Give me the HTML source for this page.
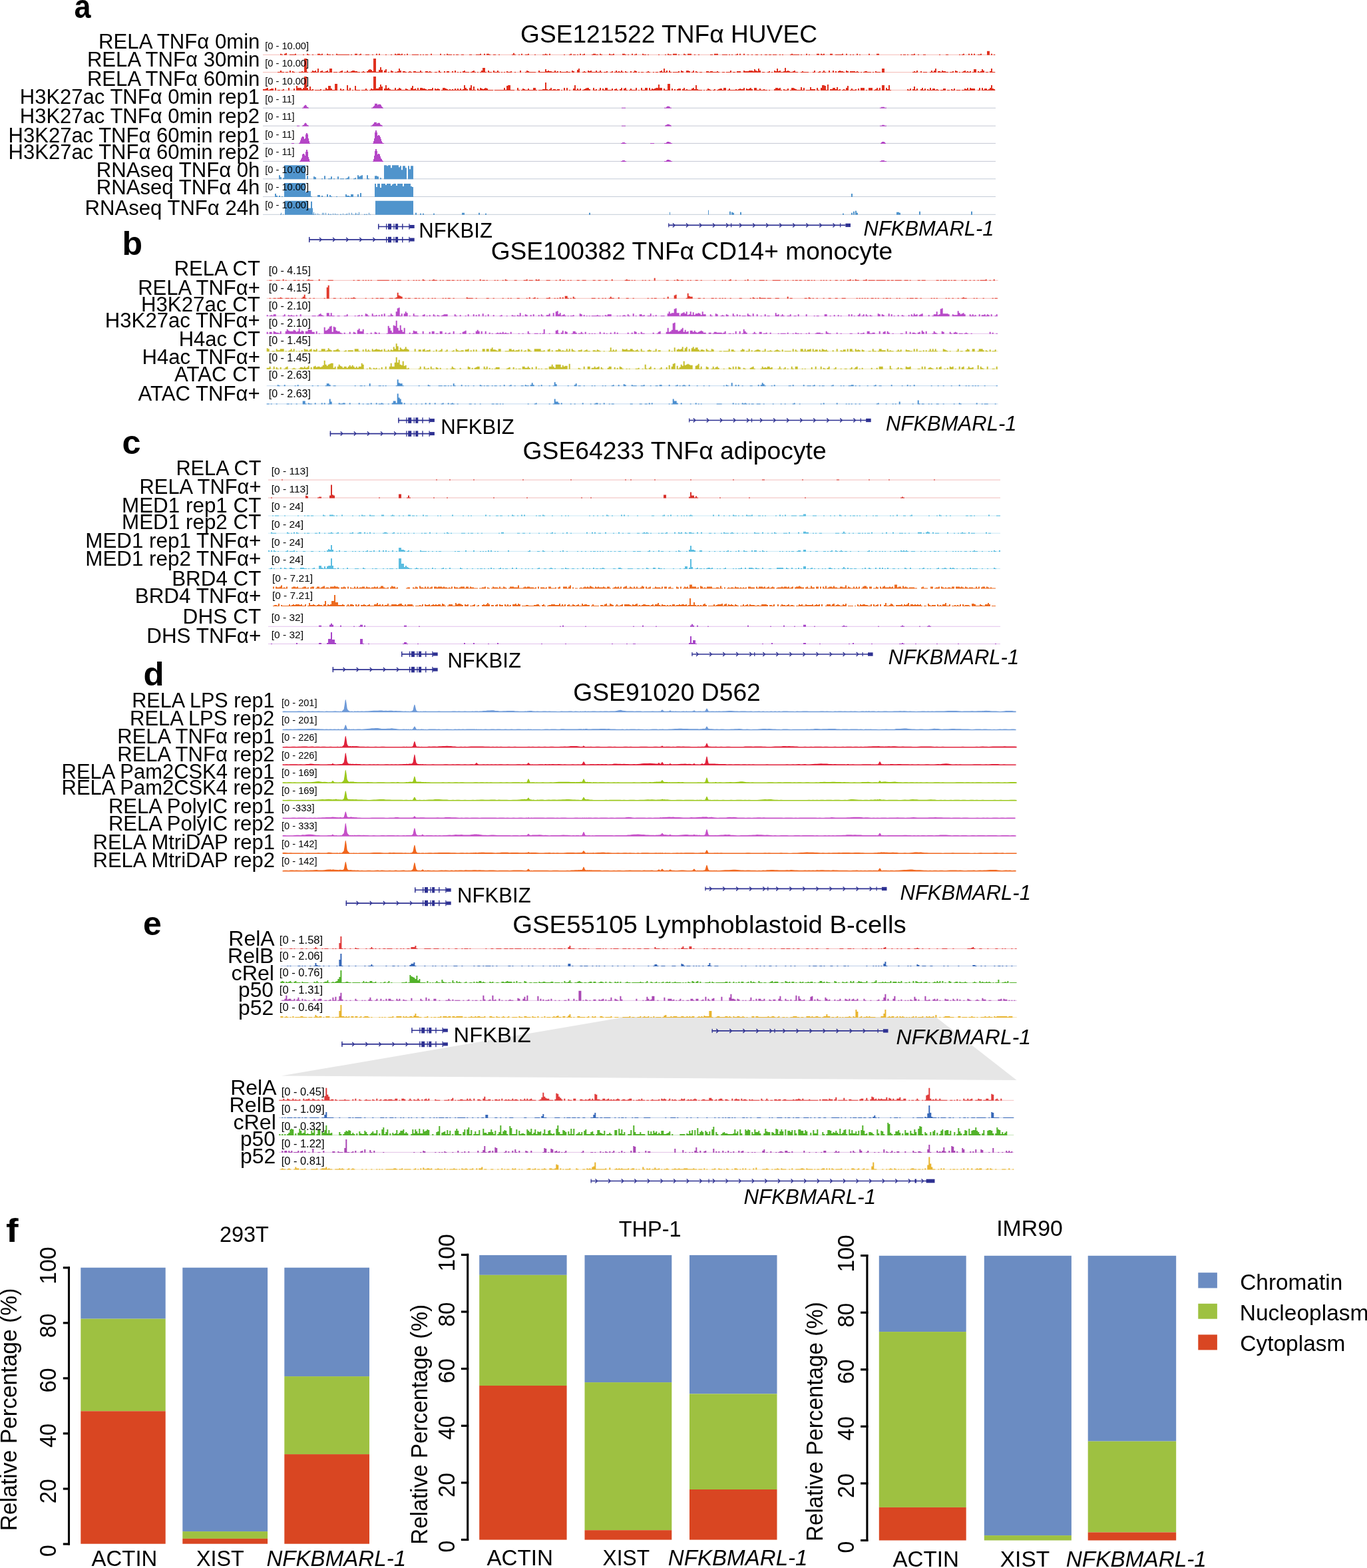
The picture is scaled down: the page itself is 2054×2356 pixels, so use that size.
<!DOCTYPE html>
<html><head><meta charset="utf-8"><style>
html,body{margin:0;padding:0;background:#fff;}
svg{display:block;font-family:"Liberation Sans",Arial,sans-serif;fill:#000;}
text{fill:#000;}
</style></head><body>
<svg width="2054" height="2356" viewBox="0 0 2054 2356">
<rect width="2054" height="2356" fill="#fff"/>
<path d="M395 82.3H1496" stroke="#e0311f" stroke-opacity="0.33"/>
<path d="M395 82.8h26V80.8h2V81.8h2V82.8h2V80.8h2V79.8h2V82.8h4V81.8h8V80.8h2V82.8h10V81.8h2V82.8h4V80.8h2V81.8h2V82.8h4V81.8h2V82.8h6V80.8h4V81.8h2V80.8h2V82.8h6V80.8h2V81.8h4V82.8h2V81.8h2V82.8h4V80.8h2V81.8h18V82.8h2V81.8h2V82.8h4V80.8h4V82.8h2V81.8h2V80.8h2V82.8h6V81.8h6V82.8h4V81.8h2V82.8h4V80.8h2V82.8h2V80.8h2V82.8h8V81.8h2V82.8h6V81.8h2V82.8h4V80.8h2V81.8h2V80.8h4V81.8h2V80.8h2V82.8h2V81.8h2V82.8h2V80.8h2V82.8h6V81.8h10V82.8h2V81.8h2V82.8h2V81.8h2V82.8h2V81.8h4V82.8h4V80.8h2V82.8h12V80.8h2V82.8h4V81.8h2V82.8h2V80.8h2V81.8h6V82.8h2V81.8h2V82.8h2V81.8h4V82.8h4V81.8h4V82.8h8V81.8h4V82.8h6V81.8h6V80.8h2V82.8h4V80.8h2V82.8h2V80.8h4V81.8h2V82.8h4V81.8h4V82.8h4V81.8h2V82.8h18V81.8h2V79.8h2V81.8h2V82.8h4V81.8h2V82.8h2V80.8h2V82.8h4V81.8h4V80.8h2V82.8h8V81.8h2V82.8h10V81.8h4V80.8h2V81.8h2V82.8h2V80.8h2V82.8h20V81.8h2V82.8h6V81.8h2V80.8h2V82.8h2V81.8h4V82.8h2V81.8h2V82.8h2V80.8h2V82.8h2V81.8h2V80.8h2V82.8h10V81.8h2V80.8h4V81.8h4V82.8h2V80.8h2V81.8h2V82.8h10V80.8h2V81.8h4V80.8h2V82.8h12V80.8h4V81.8h2V82.8h2V81.8h2V82.8h4V80.8h2V82.8h2V81.8h2V80.8h2V82.8h8V80.8h2V81.8h4V82.8h2V81.8h2V82.8h14V81.8h2V82.8h8V81.8h2V82.8h2V80.8h2V81.8h4V82.8h2V80.8h6V82.8h2V81.8h2V82.8h6V80.8h2V81.8h2V82.8h2V80.8h6V82.8h4V81.8h2V82.8h4V81.8h2V82.8h16V81.8h4V82.8h2V80.8h6V82.8h6V81.8h8V82.8h2V81.8h2V82.8h2V81.8h2V82.8h4V81.8h2V80.8h2V82.8h2V80.8h2V82.8h4V80.8h2V82.8h4V81.8h2V82.8h4V81.8h2V82.8h4V81.8h4V82.8h4V81.8h2V82.8h4V81.8h4V82.8h2V81.8h4V82.8h2V81.8h6V82.8h4V81.8h2V82.8h2V81.8h2V82.8h10V81.8h2V80.8h2V81.8h10V82.8h2V81.8h2V82.8h6V80.8h2V82.8h2V81.8h2V82.8h10V80.8h4V82.8h2V80.8h2V81.8h2V80.8h2V82.8h8V80.8h4V82.8h4V81.8h10V80.8h2V82.8h4V80.8h2V82.8h4V81.8h2V82.8h2V81.8h2V82.8h4V80.8h2V82.8h2V81.8h2V82.8h12V80.8h2V82.8h10V80.8h4V82.8h32V81.8h2V82.8h2V81.8h4V82.8h2V81.8h2V82.8h4V81.8h4V80.8h2V82.8h4V81.8h2V82.8h6V81.8h4V82.8h20V81.8h2V82.8h8V81.8h4V82.8h16V81.8h2V82.8h2V81.8h2V80.8h2V82.8h6V80.8h2V82.8h2V80.8h2V82.8h2V80.8h2V82.8h4V81.8h4V80.8h2V82.8h8V76.8h4V82.8h2V80.8h2V82.8h2V81.8h2V82.8Z" fill="#e0311f"/>
<path d="M395 108.6H1496" stroke="#e0311f" stroke-opacity="0.33"/>
<path d="M395 109.1h22V108.1h4V106.1h2V108.1h4V109.1h2V108.1h4V109.1h2V106.1h2V109.1h2V107.1h2V108.1h2V109.1h6V108.1h4V107.1h2V108.1h2V88.1h4V108.1h2V109.1h4V108.1h2V106.1h2V107.1h2V106.1h2V108.1h2V103.1h2V109.1h2V107.1h2V106.1h2V108.1h4V107.1h2V106.1h2V108.1h2V103.1h4V109.1h2V108.1h6V109.1h2V108.1h2V107.1h2V106.1h2V109.1h2V108.1h4V106.1h2V108.1h4V107.1h2V106.1h4V107.1h4V108.1h4V109.1h2V108.1h2V107.1h2V108.1h2V109.1h2V107.1h2V105.1h2V104.1h2V105.1h2V107.1h2V88.1h4V108.1h4V105.1h2V101.1h2V105.1h2V109.1h2V106.1h2V104.1h2V109.1h2V108.1h2V109.1h2V106.1h2V107.1h2V109.1h2V108.1h4V107.1h2V103.1h2V106.1h2V109.1h2V107.1h4V108.1h2V109.1h2V108.1h2V107.1h2V108.1h2V109.1h2V107.1h4V108.1h6V106.1h2V108.1h2V109.1h4V107.1h4V108.1h2V107.1h2V108.1h2V109.1h4V108.1h4V109.1h2V106.1h2V108.1h2V109.1h4V107.1h2V109.1h2V107.1h4V109.1h4V107.1h2V109.1h2V106.1h2V109.1h2V108.1h2V109.1h2V108.1h2V109.1h2V107.1h2V106.1h2V108.1h6V109.1h2V108.1h2V107.1h2V106.1h2V108.1h2V109.1h2V108.1h2V109.1h2V108.1h2V106.1h2V102.1h4V108.1h2V109.1h2V106.1h2V108.1h4V109.1h2V106.1h2V108.1h4V106.1h2V108.1h2V109.1h2V108.1h2V109.1h2V108.1h2V109.1h2V107.1h2V108.1h4V107.1h2V109.1h4V108.1h2V109.1h6V106.1h2V109.1h6V108.1h2V106.1h2V107.1h2V108.1h10V109.1h4V106.1h2V108.1h8V104.1h2V107.1h2V106.1h2V107.1h4V108.1h4V106.1h2V108.1h2V107.1h2V109.1h2V107.1h2V108.1h8V107.1h2V108.1h4V109.1h2V106.1h2V107.1h2V109.1h4V105.1h2V103.1h2V109.1h4V108.1h2V107.1h2V108.1h2V109.1h2V106.1h2V107.1h2V106.1h2V108.1h6V106.1h2V108.1h4V106.1h2V108.1h2V109.1h2V108.1h4V107.1h2V109.1h4V108.1h2V107.1h2V109.1h2V108.1h2V106.1h2V108.1h2V107.1h2V108.1h2V106.1h2V108.1h2V109.1h2V107.1h2V108.1h2V109.1h4V107.1h2V109.1h2V108.1h2V106.1h2V107.1h2V109.1h2V108.1h2V109.1h2V108.1h4V109.1h4V108.1h2V107.1h2V108.1h2V109.1h4V108.1h2V109.1h2V108.1h4V109.1h2V107.1h2V106.1h2V108.1h2V103.1h2V108.1h2V106.1h2V109.1h2V106.1h2V108.1h2V109.1h2V108.1h8V107.1h2V109.1h2V106.1h2V107.1h2V109.1h4V106.1h4V107.1h2V109.1h2V108.1h2V106.1h2V109.1h2V107.1h2V108.1h2V109.1h2V108.1h4V109.1h6V107.1h4V108.1h2V107.1h4V108.1h6V107.1h2V108.1h2V109.1h4V108.1h4V109.1h2V108.1h6V106.1h2V109.1h2V108.1h4V109.1h2V107.1h6V109.1h4V106.1h2V107.1h6V106.1h6V107.1h2V104.1h2V106.1h2V107.1h2V103.1h2V106.1h2V109.1h2V108.1h4V109.1h4V108.1h2V107.1h2V109.1h2V108.1h2V109.1h2V106.1h2V107.1h2V103.1h2V107.1h2V106.1h2V108.1h4V107.1h2V102.1h2V107.1h2V106.1h2V107.1h2V108.1h4V107.1h2V106.1h2V108.1h4V109.1h4V108.1h2V107.1h2V108.1h8V109.1h6V108.1h2V106.1h2V109.1h4V108.1h2V107.1h2V109.1h2V108.1h2V106.1h2V108.1h2V109.1h4V106.1h2V109.1h4V106.1h2V109.1h2V107.1h2V109.1h2V107.1h2V106.1h2V107.1h4V108.1h2V109.1h2V106.1h2V107.1h2V109.1h2V107.1h8V108.1h2V107.1h2V108.1h2V109.1h2V108.1h2V109.1h2V108.1h2V107.1h4V108.1h6V109.1h2V108.1h2V109.1h2V107.1h2V108.1h6V109.1h2V103.1h4V109.1h42V108.1h2V107.1h2V108.1h2V106.1h2V109.1h4V107.1h2V109.1h2V108.1h6V109.1h4V108.1h2V106.1h2V108.1h2V106.1h2V103.1h2V109.1h2V107.1h4V108.1h2V106.1h2V107.1h4V108.1h4V109.1h2V108.1h4V107.1h2V109.1h2V106.1h2V107.1h2V109.1h2V108.1h2V109.1h2V108.1h2V107.1h2V106.1h2V108.1h2V107.1h2V108.1h2V107.1h2V109.1h2V108.1h2V104.1h4V109.1h2V107.1h2V108.1h2V107.1h2V104.1h2V106.1h2V109.1h2V108.1h4V109.1h2V107.1h2V103.1h2V108.1h4V109.1Z" fill="#e0311f"/>
<path d="M395 135.4H1496" stroke="#e0311f" stroke-opacity="0.33"/>
<path d="M395 135.9V133.9h4V132.9h2V131.9h2V134.9h2V133.9h2V132.9h4V135.9h2V131.9h2V135.9h2V134.9h4V135.9h2V134.9h2V133.9h2V135.9h6V131.9h2V135.9h6V132.9h2V135.9h2V128.9h2V131.9h6V133.9h2V131.9h2V114.9h4V131.9h2V134.9h2V129.9h2V134.9h2V133.9h2V135.9h2V134.9h8V133.9h2V135.9h2V134.9h4V131.9h2V133.9h2V128.9h4V132.9h2V134.9h4V125.9h4V135.9h4V132.9h2V134.9h2V133.9h2V135.9h4V127.9h2V134.9h2V131.9h2V135.9h2V134.9h2V135.9h2V128.9h2V134.9h6V135.9h2V134.9h6V132.9h2V134.9h2V135.9h2V134.9h2V132.9h2V133.9h2V114.9h4V132.9h4V130.9h2V126.9h2V129.9h2V135.9h2V132.9h2V127.9h2V132.9h2V131.9h2V133.9h2V134.9h6V131.9h2V134.9h2V133.9h2V131.9h2V132.9h2V134.9h6V132.9h2V133.9h2V134.9h4V131.9h2V128.9h2V133.9h2V132.9h2V134.9h2V131.9h2V134.9h2V131.9h4V132.9h4V133.9h2V134.9h2V133.9h6V131.9h2V135.9h2V132.9h2V133.9h2V132.9h2V133.9h2V135.9h2V134.9h2V131.9h4V132.9h2V133.9h2V134.9h2V133.9h2V134.9h2V133.9h2V134.9h2V132.9h2V134.9h2V132.9h2V134.9h2V132.9h2V134.9h2V133.9h2V127.9h2V131.9h2V133.9h2V135.9h2V131.9h2V127.9h2V134.9h2V129.9h2V134.9h2V135.9h2V132.9h2V134.9h2V131.9h2V132.9h2V133.9h2V132.9h2V131.9h2V132.9h2V134.9h8V135.9h2V134.9h14V131.9h2V134.9h2V128.9h2V127.9h4V134.9h6V135.9h4V131.9h2V134.9h2V135.9h2V134.9h2V132.9h2V133.9h2V134.9h4V132.9h2V134.9h6V131.9h4V134.9h2V135.9h2V134.9h6V133.9h4V123.9h2V133.9h2V134.9h2V133.9h2V131.9h2V134.9h2V133.9h4V134.9h2V133.9h4V135.9h2V134.9h2V135.9h2V131.9h2V135.9h2V131.9h2V135.9h2V134.9h2V135.9h4V132.9h2V127.9h2V134.9h2V132.9h2V134.9h2V132.9h2V135.9h2V134.9h2V133.9h2V132.9h2V131.9h4V133.9h2V135.9h4V131.9h2V134.9h2V133.9h2V135.9h2V134.9h2V131.9h2V135.9h2V132.9h2V134.9h2V131.9h4V134.9h6V132.9h2V135.9h2V133.9h2V132.9h2V134.9h2V135.9h2V133.9h2V131.9h2V135.9h2V132.9h2V131.9h2V134.9h2V135.9h2V134.9h2V132.9h2V134.9h6V131.9h2V135.9h2V134.9h2V135.9h2V131.9h2V134.9h4V131.9h4V135.9h2V131.9h2V134.9h2V132.9h2V133.9h2V132.9h2V131.9h4V126.9h2V131.9h4V135.9h2V132.9h2V134.9h4V125.9h4V135.9h2V132.9h2V135.9h2V133.9h2V135.9h2V133.9h2V132.9h4V135.9h2V133.9h2V131.9h2V134.9h2V133.9h2V134.9h6V132.9h2V131.9h2V133.9h2V127.9h2V133.9h2V134.9h6V135.9h2V134.9h2V135.9h2V134.9h2V132.9h2V133.9h2V134.9h2V135.9h2V134.9h2V133.9h2V135.9h2V134.9h2V133.9h2V132.9h4V134.9h2V131.9h4V135.9h2V134.9h2V132.9h2V134.9h8V133.9h2V134.9h2V133.9h2V132.9h2V133.9h4V131.9h2V135.9h2V132.9h2V133.9h2V132.9h2V131.9h2V133.9h2V135.9h2V131.9h4V134.9h4V132.9h2V134.9h4V133.9h2V134.9h4V135.9h2V134.9h2V135.9h6V133.9h2V131.9h4V132.9h2V131.9h2V134.9h2V135.9h2V133.9h2V134.9h4V132.9h2V135.9h2V134.9h2V131.9h4V132.9h2V133.9h2V134.9h6V130.9h2V134.9h2V131.9h2V135.9h2V134.9h6V130.9h2V133.9h6V135.9h2V131.9h2V134.9h2V135.9h2V131.9h2V127.9h4V128.9h2V134.9h2V126.9h2V135.9h2V133.9h4V131.9h4V133.9h2V130.9h2V134.9h2V133.9h2V135.9h2V134.9h2V133.9h2V134.9h2V131.9h2V128.9h2V135.9h2V134.9h2V132.9h2V134.9h4V133.9h2V135.9h2V132.9h2V135.9h2V131.9h6V135.9h2V134.9h2V135.9h2V131.9h6V135.9h2V134.9h2V133.9h2V131.9h2V134.9h2V131.9h2V135.9h2V127.9h4V135.9h2V131.9h2V133.9h2V127.9h2V134.9h2V135.9h24V133.9h2V134.9h2V132.9h2V135.9h2V133.9h2V129.9h2V134.9h2V132.9h2V135.9h4V133.9h2V131.9h2V134.9h2V132.9h2V135.9h2V133.9h2V134.9h2V131.9h2V134.9h2V132.9h4V134.9h2V133.9h2V134.9h2V135.9h2V134.9h4V132.9h4V135.9h2V134.9h4V135.9h2V133.9h2V134.9h2V132.9h2V135.9h2V134.9h6V135.9h2V134.9h4V132.9h2V133.9h2V131.9h2V134.9h2V131.9h2V132.9h6V135.9h4V134.9h2V131.9h2V135.9h2V131.9h2V134.9h2V132.9h4V134.9h2V133.9h2V131.9h2V127.9h2V132.9h2V133.9h2V135.9Z" fill="#e0311f"/>
<path d="M395 162.3H1496" stroke="#c4c8d4" stroke-opacity="1"/>
<path d="M395 162.8h59V161.8h2V159.8h1V158.8h1V157.8h2V158.8h1V160.8h2V161.8h1V162.8h94V161.8h2V160.8h1V159.8h1V158.8h1V155.8h4V157.8h1V156.8h4V157.8h1V159.8h1V160.8h1V161.8h1V162.8h358V161.8h6V162.8h58V161.8h3V160.8h1V159.8h4V160.8h1V161.8h2V162.8h313V161.8h2V160.8h5V161.8h3V162.8h164V162.8Z" fill="#b446c6"/>
<path d="M395 189.2H1496" stroke="#c4c8d4" stroke-opacity="1"/>
<path d="M395 189.7h51V188.7h4V189.7h4V188.7h1V187.7h2V185.7h1V184.7h2V185.7h1V187.7h2V188.7h1V189.7h93V188.7h2V187.7h1V186.7h1V185.7h1V183.7h4V185.7h1V184.7h4V186.7h1V187.7h2V188.7h1V189.7h359V188.7h6V189.7h59V188.7h1V187.7h2V186.7h4V187.7h2V188.7h1V189.7h313V188.7h3V187.7h4V188.7h3V189.7h164V189.7Z" fill="#b446c6"/>
<path d="M395 215.4H1496" stroke="#c4c8d4" stroke-opacity="1"/>
<path d="M395 215.9h43V214.9h4V215.9h7V214.9h1V213.9h1V210.9h1V207.9h1V205.9h1V204.9h2V205.9h1V208.9h1V207.9h1V201.9h1V199.9h2V201.9h1V207.9h1V211.9h1V214.9h1V215.9h94V214.9h1V211.9h1V207.9h1V198.9h1V195.9h2V198.9h1V203.9h1V202.9h2V203.9h1V205.9h1V208.9h1V211.9h1V213.9h1V214.9h2V215.9h356V214.9h2V213.9h4V214.9h2V215.9h36V214.9h6V215.9h15V214.9h3V213.9h1V212.9h4V213.9h2V214.9h2V215.9h313V214.9h1V213.9h1V212.9h4V213.9h1V214.9h1V215.9h165V215.9Z" fill="#b446c6"/>
<path d="M395 242.4H1496" stroke="#c4c8d4" stroke-opacity="1"/>
<path d="M395 242.9h55V241.9h1V240.9h1V238.9h1V236.9h1V231.9h1V230.9h2V231.9h1V233.9h1V227.9h1V224.9h2V227.9h1V235.9h1V238.9h1V241.9h1V242.9h94V241.9h1V238.9h1V233.9h1V226.9h1V223.9h2V226.9h1V231.9h1V230.9h2V231.9h1V234.9h1V237.9h1V238.9h1V240.9h1V241.9h1V242.9h357V241.9h2V240.9h4V241.9h2V242.9h57V241.9h3V240.9h1V239.9h4V240.9h2V241.9h2V242.9h312V241.9h2V240.9h5V241.9h3V242.9h164V242.9Z" fill="#b446c6"/>
<path d="M395 268.8H1496" stroke="#c4ccd8" stroke-opacity="1"/>
<path d="M395 269.3h24V263.3h2V266.3h2V269.3h2V267.3h2V248.3h32V269.3h2V264.3h2V269.3h8V265.3h2V266.3h2V269.3h8V268.3h2V269.3h2V264.3h2V269.3h4V268.3h4V265.3h2V269.3h2V268.3h2V269.3h4V265.3h2V269.3h2V268.3h6V269.3h2V268.3h2V267.3h2V265.3h2V269.3h6V268.3h2V267.3h2V269.3h2V263.3h2V265.3h2V264.3h2V263.3h2V269.3h6V263.3h2V268.3h2V269.3h8V264.3h4V265.3h2V269.3h2V267.3h2V269.3h4V248.3h4V249.3h2V248.3h4V252.3h2V248.3h10V251.3h2V249.3h2V255.3h2V249.3h4V252.3h2V269.3h2V249.3h2V254.3h2V249.3h4V269.3h874V269.3Z" fill="#5094cc"/>
<path d="M395 295.5H1496" stroke="#c4ccd8" stroke-opacity="1"/>
<path d="M395 296h18V291h2V294h2V296h2V294h2V296h2V295h2V296h2V275h32V289h4V287h4V295h2V296h8V293h4V296h2V294h2V296h6V292h2V296h2V293h2V295h2V296h6V295h2V296h12V292h2V294h4V295h2V292h4V296h6V292h2V296h2V290h2V296h20V276h2V281h2V276h4V282h2V276h6V278h2V276h6V279h2V277h2V276h4V279h2V276h8V280h2V276h10V280h2V281h2V296h658V291h2V296h214V296Z" fill="#5094cc"/>
<path d="M395 322.3H1496" stroke="#c4ccd8" stroke-opacity="1"/>
<path d="M395 322.8h26V321.8h1V319.8h1V322.8h2V321.8h1V322.8h2V301.8h34V312.8h5V302.8h2V312.8h1V321.8h1V318.8h1V321.8h1V322.8h1V320.8h1V322.8h2V320.8h1V322.8h1V321.8h1V322.8h4V319.8h1V322.8h1V319.8h1V322.8h2V319.8h1V322.8h3V320.8h1V321.8h1V322.8h1V321.8h2V322.8h2V320.8h1V322.8h2V320.8h1V322.8h1V321.8h1V322.8h1V321.8h1V322.8h3V321.8h2V322.8h2V320.8h1V322.8h2V321.8h1V322.8h1V321.8h1V320.8h1V322.8h2V319.8h1V322.8h3V319.8h1V322.8h1V321.8h1V322.8h2V321.8h1V319.8h1V322.8h1V320.8h1V322.8h1V321.8h1V318.8h1V322.8h7V321.8h2V322.8h1V321.8h2V322.8h2V319.8h1V322.8h1V321.8h1V322.8h7V301.8h57V322.8h3V319.8h2V322.8h5V320.8h2V322.8h2V320.8h2V322.8h14V320.8h2V322.8h41V319.8h4V322.8h21V319.8h2V322.8h8V320.8h2V322.8h154V319.8h2V322.8h119V318.8h1V322.8h57V315.8h1V322.8h31V317.8h2V322.8h1V318.8h2V319.8h2V322.8h9V318.8h2V322.8h152V320.8h2V322.8h11V319.8h2V322.8h1V317.8h2V322.8h1V316.8h2V319.8h2V322.8h58V318.8h4V319.8h2V322.8h28V317.8h2V322.8h76V317.8h2V322.8h35V322.8Z" fill="#5094cc"/>
<path d="M568 340.5H615.7" stroke="#2e3192" stroke-width="1.6"/>
<rect x="568" y="336.5" width="1.5" height="8" fill="#2e3192"/>
<rect x="580" y="336.2" width="1.3" height="8.5" fill="#2e3192"/>
<rect x="583" y="336.2" width="5" height="8.5" fill="#2e3192"/>
<rect x="591.4" y="336.2" width="1.2" height="8.5" fill="#2e3192"/>
<rect x="594.1" y="336.2" width="4" height="8.5" fill="#2e3192"/>
<rect x="604.1" y="336.2" width="1.4" height="8.5" fill="#2e3192"/>
<rect x="614.3" y="336.2" width="1.2" height="8.5" fill="#2e3192"/>
<rect x="615.2" y="338" width="7.5" height="5" fill="#2e3192"/>
<path d="M464 360.1H615.7" stroke="#2e3192" stroke-width="1.6"/>
<rect x="464" y="356.1" width="1.5" height="8" fill="#2e3192"/>
<path d="M480 357.1L483 360.1L480 363.1" fill="none" stroke="#2e3192" stroke-width="1.4"/>
<path d="M500.1 357.1L503.1 360.1L500.1 363.1" fill="none" stroke="#2e3192" stroke-width="1.4"/>
<path d="M520.2 357.1L523.2 360.1L520.2 363.1" fill="none" stroke="#2e3192" stroke-width="1.4"/>
<path d="M540.3 357.1L543.3 360.1L540.3 363.1" fill="none" stroke="#2e3192" stroke-width="1.4"/>
<path d="M560.4 357.1L563.4 360.1L560.4 363.1" fill="none" stroke="#2e3192" stroke-width="1.4"/>
<rect x="580" y="355.9" width="1.3" height="8.5" fill="#2e3192"/>
<rect x="583" y="355.9" width="5" height="8.5" fill="#2e3192"/>
<rect x="591.4" y="355.9" width="1.2" height="8.5" fill="#2e3192"/>
<rect x="594.1" y="355.9" width="4" height="8.5" fill="#2e3192"/>
<rect x="604.1" y="355.9" width="1.4" height="8.5" fill="#2e3192"/>
<rect x="614.3" y="355.9" width="1.2" height="8.5" fill="#2e3192"/>
<rect x="615.2" y="357.6" width="7.5" height="5" fill="#2e3192"/>
<path d="M1004.2 338.4H1270.4" stroke="#2e3192" stroke-width="1.6"/>
<rect x="1004.2" y="335.4" width="1.2" height="6" fill="#2e3192"/>
<path d="M1010.9 335.4L1013.9 338.4L1010.9 341.4" fill="none" stroke="#2e3192" stroke-width="1.4"/>
<path d="M1031 335.4L1034 338.4L1031 341.4" fill="none" stroke="#2e3192" stroke-width="1.4"/>
<path d="M1051 335.4L1054 338.4L1051 341.4" fill="none" stroke="#2e3192" stroke-width="1.4"/>
<path d="M1071 335.4L1074 338.4L1071 341.4" fill="none" stroke="#2e3192" stroke-width="1.4"/>
<path d="M1091.1 335.4L1094.1 338.4L1091.1 341.4" fill="none" stroke="#2e3192" stroke-width="1.4"/>
<path d="M1111.1 335.4L1114.1 338.4L1111.1 341.4" fill="none" stroke="#2e3192" stroke-width="1.4"/>
<path d="M1131.2 335.4L1134.2 338.4L1131.2 341.4" fill="none" stroke="#2e3192" stroke-width="1.4"/>
<path d="M1151.2 335.4L1154.2 338.4L1151.2 341.4" fill="none" stroke="#2e3192" stroke-width="1.4"/>
<path d="M1171.3 335.4L1174.3 338.4L1171.3 341.4" fill="none" stroke="#2e3192" stroke-width="1.4"/>
<path d="M1191.3 335.4L1194.3 338.4L1191.3 341.4" fill="none" stroke="#2e3192" stroke-width="1.4"/>
<path d="M1211.4 335.4L1214.4 338.4L1211.4 341.4" fill="none" stroke="#2e3192" stroke-width="1.4"/>
<path d="M1231.4 335.4L1234.4 338.4L1231.4 341.4" fill="none" stroke="#2e3192" stroke-width="1.4"/>
<path d="M1251.5 335.4L1254.5 338.4L1251.5 341.4" fill="none" stroke="#2e3192" stroke-width="1.4"/>
<rect x="1098" y="335.4" width="1.2" height="6" fill="#2e3192"/>
<rect x="1262" y="335.4" width="1.2" height="6" fill="#2e3192"/>
<rect x="1270.4" y="335.8" width="7.6" height="5.3" fill="#2e3192"/>
<path d="M400.7 421.3H1499.6" stroke="#e23a2c" stroke-opacity="0.33"/>
<path d="M400.7 421.8h4V420.8h4V421.8h6V420.8h6V421.8h4V419.8h2V421.8h2V420.8h2V421.8h10V420.8h4V421.8h2V420.8h4V421.8h4V420.8h2V421.8h4V420.8h2V419.8h2V420.8h6V421.8h8V419.8h2V421.8h12V420.8h8V421.8h30V420.8h2V421.8h4V420.8h4V421.8h4V420.8h2V421.8h2V420.8h2V421.8h2V420.8h2V421.8h2V420.8h2V421.8h8V420.8h18V421.8h4V420.8h2V421.8h2V420.8h2V421.8h2V420.8h6V421.8h10V420.8h2V421.8h6V420.8h2V421.8h2V420.8h2V421.8h2V420.8h2V421.8h4V419.8h2V420.8h2V421.8h6V420.8h2V421.8h2V420.8h2V419.8h2V420.8h4V421.8h4V420.8h2V421.8h2V420.8h2V421.8h4V420.8h6V421.8h2V420.8h4V421.8h4V420.8h2V421.8h2V420.8h2V421.8h4V420.8h2V421.8h2V420.8h4V421.8h6V420.8h2V421.8h8V419.8h2V421.8h2V420.8h4V421.8h2V420.8h2V421.8h10V420.8h2V421.8h2V420.8h2V421.8h6V420.8h2V421.8h2V419.8h2V420.8h2V421.8h10V420.8h4V421.8h10V420.8h4V419.8h2V421.8h2V420.8h6V421.8h4V419.8h2V420.8h2V419.8h2V421.8h10V420.8h6V421.8h8V420.8h2V421.8h4V419.8h2V421.8h2V420.8h4V421.8h4V420.8h2V421.8h2V420.8h2V421.8h8V420.8h4V421.8h4V420.8h6V421.8h10V420.8h4V421.8h4V420.8h4V421.8h6V420.8h4V421.8h6V419.8h2V421.8h18V420.8h2V419.8h2V420.8h4V421.8h2V420.8h2V421.8h2V420.8h2V421.8h10V420.8h2V421.8h2V420.8h2V421.8h4V420.8h2V421.8h6V417.8h2V421.8h16V420.8h4V421.8h8V420.8h2V421.8h2V419.8h2V420.8h2V421.8h2V420.8h4V421.8h6V420.8h2V421.8h2V420.8h2V421.8h6V420.8h4V421.8h4V420.8h2V421.8h18V420.8h2V421.8h10V420.8h2V421.8h2V420.8h2V421.8h4V420.8h2V419.8h2V421.8h6V420.8h2V421.8h12V420.8h2V421.8h2V419.8h2V421.8h8V420.8h2V421.8h6V420.8h8V421.8h2V420.8h2V421.8h8V420.8h12V421.8h6V420.8h2V421.8h2V420.8h2V421.8h6V420.8h2V421.8h2V420.8h4V421.8h2V420.8h4V421.8h4V420.8h2V421.8h2V420.8h4V421.8h2V420.8h2V421.8h2V420.8h2V421.8h8V420.8h2V421.8h2V420.8h2V421.8h2V420.8h2V421.8h4V420.8h2V421.8h6V420.8h4V421.8h4V420.8h2V421.8h2V420.8h2V421.8h4V420.8h4V419.8h2V421.8h2V420.8h2V421.8h2V419.8h2V420.8h4V421.8h6V420.8h4V419.8h2V421.8h2V420.8h10V421.8h2V420.8h14V421.8h2V420.8h4V421.8h2V420.8h4V421.8h2V420.8h10V421.8h4V420.8h6V421.8h2V420.8h2V421.8h10V420.8h4V421.8h2V420.8h6V421.8h16V420.8h4V421.8h2V420.8h2V421.8h2V420.8h6V421.8h2V420.8h2V421.8h2V420.8h2V421.8h2V420.8h4V421.8h8V420.8h2V421.8h2V420.8h4V421.8h4V420.8h2V421.8h4V420.8h2V421.8h4V420.8h2V421.8h2V420.8h8V419.8h2V421.8h4V420.8h2V421.8h4V419.8h2V421.8h4V421.8Z" fill="#e23a2c"/>
<path d="M400.7 448.3H1499.6" stroke="#e23a2c" stroke-opacity="0.33"/>
<path d="M400.7 448.8h4V447.8h2V448.8h4V447.8h4V448.8h2V447.8h4V446.8h2V447.8h2V448.8h4V447.8h6V448.8h2V447.8h4V448.8h2V447.8h2V448.8h8V447.8h2V445.8h2V442.8h2V447.8h2V448.8h4V447.8h2V448.8h4V447.8h2V448.8h14V447.8h2V448.8h2V431.8h2V428.8h2V448.8h6V447.8h4V448.8h6V447.8h2V448.8h6V447.8h2V448.8h2V447.8h2V448.8h2V447.8h4V446.8h2V447.8h2V448.8h14V447.8h2V448.8h8V447.8h2V448.8h4V447.8h4V448.8h2V447.8h6V448.8h8V447.8h6V448.8h2V447.8h2V446.8h2V439.8h2V443.8h2V444.8h2V445.8h2V448.8h4V447.8h2V448.8h2V447.8h4V448.8h6V447.8h4V448.8h2V447.8h2V448.8h4V447.8h2V448.8h6V447.8h2V448.8h4V447.8h2V448.8h2V447.8h2V448.8h10V447.8h2V448.8h2V447.8h2V448.8h2V447.8h4V448.8h4V447.8h2V448.8h18V446.8h2V447.8h8V448.8h4V447.8h2V448.8h14V447.8h4V448.8h6V447.8h2V448.8h12V447.8h2V448.8h6V447.8h2V448.8h2V447.8h2V448.8h8V447.8h4V448.8h10V447.8h2V448.8h2V446.8h2V448.8h4V447.8h2V446.8h2V448.8h2V447.8h2V448.8h12V447.8h4V446.8h2V448.8h6V447.8h2V448.8h2V447.8h2V448.8h2V446.8h2V448.8h2V446.8h2V448.8h2V444.8h4V447.8h2V448.8h2V447.8h2V448.8h2V445.8h2V447.8h2V448.8h24V447.8h6V448.8h4V447.8h2V448.8h4V447.8h2V448.8h2V447.8h2V448.8h4V447.8h2V445.8h2V447.8h4V448.8h6V446.8h2V448.8h10V447.8h4V448.8h6V447.8h2V448.8h20V447.8h2V448.8h4V447.8h2V448.8h2V447.8h4V448.8h10V447.8h2V448.8h4V445.8h2V448.8h8V443.8h2V442.8h2V448.8h14V447.8h2V440.8h2V444.8h2V445.8h4V448.8h8V447.8h4V448.8h4V447.8h2V448.8h10V447.8h4V448.8h2V447.8h2V448.8h4V447.8h2V448.8h2V447.8h2V448.8h2V447.8h2V448.8h6V447.8h2V448.8h12V447.8h4V448.8h12V447.8h2V448.8h2V446.8h2V447.8h2V448.8h2V447.8h2V448.8h2V446.8h2V447.8h8V448.8h2V447.8h6V448.8h6V447.8h6V448.8h12V445.8h2V448.8h2V447.8h4V448.8h18V447.8h4V448.8h2V446.8h2V447.8h2V448.8h2V447.8h2V448.8h4V447.8h2V448.8h8V447.8h2V448.8h6V447.8h4V448.8h6V447.8h4V448.8h6V447.8h6V448.8h16V447.8h2V448.8h2V447.8h2V448.8h2V447.8h2V448.8h2V447.8h2V448.8h2V447.8h2V448.8h4V447.8h4V448.8h2V447.8h2V448.8h2V447.8h2V448.8h6V447.8h2V448.8h2V447.8h4V448.8h2V447.8h2V448.8h8V447.8h2V448.8h2V447.8h2V448.8h10V447.8h2V448.8h2V447.8h6V448.8h2V447.8h4V448.8h4V447.8h2V448.8h14V447.8h2V448.8h2V447.8h2V448.8h2V447.8h2V448.8h12V447.8h2V448.8h2V447.8h2V448.8h4V447.8h2V448.8h6V447.8h2V448.8h4V447.8h2V446.8h2V447.8h4V448.8h10V447.8h2V448.8h2V447.8h2V448.8h8V447.8h2V448.8h12V447.8h2V448.8h2V447.8h4V448.8Z" fill="#e23a2c"/>
<path d="M400.7 474.8H1499.6" stroke="#b84ac8" stroke-opacity="0.33"/>
<path d="M400.7 475.3V473.3h2V475.3h2V474.3h2V473.3h2V474.3h2V472.3h4V475.3h10V474.3h2V472.3h2V475.3h4V473.3h2V474.3h2V473.3h2V474.3h4V475.3h2V473.3h2V475.3h4V472.3h2V475.3h16V474.3h6V475.3h2V474.3h2V472.3h2V471.3h2V473.3h2V474.3h2V475.3h4V470.3h4V474.3h2V470.3h2V474.3h4V475.3h4V474.3h4V475.3h6V474.3h4V472.3h2V475.3h10V474.3h2V475.3h2V474.3h2V473.3h2V475.3h2V473.3h2V475.3h4V471.3h2V472.3h2V474.3h2V475.3h4V471.3h2V474.3h4V473.3h2V475.3h2V473.3h2V475.3h2V472.3h2V475.3h2V471.3h2V475.3h4V474.3h4V471.3h2V473.3h2V475.3h4V468.3h2V463.3h2V462.3h2V474.3h2V471.3h2V475.3h2V471.3h2V468.3h2V470.3h2V475.3h2V474.3h2V475.3h4V471.3h2V474.3h6V475.3h6V473.3h2V472.3h2V475.3h2V474.3h2V475.3h2V473.3h2V475.3h4V472.3h2V474.3h2V475.3h2V473.3h2V474.3h2V475.3h2V474.3h2V473.3h2V472.3h6V475.3h10V472.3h2V474.3h2V475.3h4V473.3h2V475.3h6V474.3h2V475.3h2V472.3h2V475.3h6V472.3h2V475.3h2V473.3h2V475.3h2V472.3h2V475.3h4V471.3h2V475.3h2V474.3h2V475.3h2V472.3h2V475.3h6V473.3h2V475.3h8V474.3h2V473.3h2V475.3h6V474.3h2V475.3h6V473.3h2V474.3h4V475.3h2V473.3h2V474.3h2V470.3h2V475.3h2V474.3h2V475.3h2V472.3h2V473.3h2V475.3h4V473.3h2V475.3h2V472.3h2V475.3h6V473.3h2V475.3h2V472.3h2V474.3h2V475.3h4V473.3h4V471.3h2V475.3h4V470.3h2V475.3h2V468.3h2V467.3h2V472.3h2V470.3h2V474.3h2V473.3h2V472.3h2V474.3h2V475.3h2V474.3h2V475.3h2V474.3h4V473.3h2V475.3h8V471.3h2V472.3h2V475.3h2V473.3h2V475.3h2V474.3h2V475.3h2V474.3h2V475.3h2V474.3h8V473.3h2V474.3h4V475.3h2V474.3h2V475.3h2V473.3h2V474.3h2V472.3h6V475.3h8V474.3h2V475.3h2V474.3h2V475.3h2V474.3h2V473.3h2V474.3h2V475.3h2V472.3h2V474.3h2V475.3h4V471.3h2V475.3h2V474.3h2V475.3h4V472.3h4V474.3h2V473.3h2V475.3h4V474.3h4V471.3h2V475.3h2V474.3h2V475.3h2V473.3h2V475.3h6V474.3h6V475.3h4V471.3h2V468.3h2V471.3h2V470.3h4V464.3h2V463.3h2V470.3h4V474.3h2V471.3h2V470.3h2V469.3h2V471.3h2V468.3h2V473.3h2V472.3h2V468.3h2V473.3h2V469.3h2V473.3h2V471.3h4V470.3h2V471.3h2V473.3h2V468.3h2V472.3h4V475.3h6V472.3h2V474.3h2V475.3h4V471.3h2V472.3h2V475.3h4V474.3h2V473.3h2V474.3h2V475.3h2V472.3h2V473.3h2V475.3h6V471.3h2V474.3h2V475.3h2V472.3h2V475.3h2V473.3h2V475.3h2V474.3h6V475.3h2V471.3h2V473.3h2V474.3h2V475.3h2V471.3h2V475.3h4V472.3h2V475.3h4V474.3h2V475.3h4V472.3h2V475.3h2V474.3h4V475.3h8V470.3h2V473.3h2V472.3h2V475.3h2V474.3h2V472.3h2V474.3h2V475.3h4V474.3h4V472.3h2V475.3h4V474.3h4V475.3h2V472.3h2V475.3h10V472.3h2V475.3h10V474.3h2V475.3h2V474.3h4V475.3h8V472.3h4V475.3h4V474.3h2V475.3h4V473.3h2V475.3h4V473.3h2V475.3h2V474.3h2V475.3h10V472.3h2V475.3h2V472.3h2V475.3h2V474.3h2V475.3h4V473.3h2V471.3h2V475.3h2V474.3h2V472.3h2V475.3h2V472.3h2V474.3h2V475.3h2V473.3h2V474.3h2V475.3h8V471.3h2V472.3h2V475.3h2V472.3h2V473.3h2V475.3h6V471.3h2V475.3h2V472.3h2V475.3h2V474.3h2V475.3h4V473.3h2V475.3h4V473.3h2V474.3h2V475.3h6V473.3h2V475.3h2V472.3h2V474.3h2V471.3h2V473.3h2V472.3h2V475.3h2V473.3h2V472.3h2V471.3h2V475.3h8V473.3h2V475.3h4V474.3h2V472.3h4V468.3h2V473.3h2V472.3h2V464.3h2V463.3h2V471.3h8V472.3h2V475.3h4V472.3h2V473.3h6V467.3h2V470.3h2V472.3h2V471.3h2V470.3h2V472.3h2V475.3h6V472.3h2V474.3h2V472.3h2V474.3h2V473.3h2V475.3h4V472.3h2V475.3h2V473.3h4V472.3h2V474.3h2V472.3h2V473.3h2V475.3h2V472.3h2V475.3h4V474.3h2V472.3h2V475.3Z" fill="#b84ac8"/>
<path d="M400.7 501.3H1499.6" stroke="#b84ac8" stroke-opacity="0.33"/>
<path d="M400.7 501.8V498.8h2V501.8h2V498.8h4V501.8h2V497.8h2V498.8h2V499.8h4V500.8h2V497.8h2V501.8h6V497.8h2V494.8h2V496.8h2V497.8h6V495.8h2V496.8h2V498.8h2V497.8h2V493.8h2V498.8h2V496.8h2V497.8h2V501.8h2V497.8h4V494.8h2V495.8h4V498.8h4V501.8h2V497.8h2V501.8h2V500.8h2V501.8h6V491.8h2V496.8h2V495.8h2V493.8h2V490.8h2V489.8h2V498.8h2V490.8h2V491.8h2V496.8h2V497.8h4V499.8h2V500.8h2V501.8h2V499.8h2V501.8h6V498.8h2V501.8h4V498.8h2V499.8h2V501.8h2V495.8h2V493.8h2V497.8h4V494.8h2V501.8h4V500.8h2V501.8h4V499.8h2V501.8h4V498.8h2V499.8h2V501.8h2V499.8h2V501.8h10V500.8h2V489.8h2V492.8h2V496.8h2V499.8h2V488.8h2V489.8h2V481.8h2V492.8h2V496.8h2V488.8h2V495.8h2V498.8h2V492.8h2V501.8h6V499.8h2V501.8h2V500.8h2V496.8h2V497.8h4V500.8h2V501.8h6V497.8h2V501.8h8V498.8h2V501.8h2V497.8h4V501.8h2V500.8h4V501.8h2V497.8h4V501.8h4V499.8h2V501.8h2V500.8h2V499.8h2V501.8h4V497.8h2V501.8h8V500.8h2V501.8h2V498.8h2V497.8h2V496.8h2V501.8h4V500.8h2V501.8h4V500.8h2V501.8h2V497.8h2V495.8h2V497.8h2V501.8h2V497.8h2V501.8h4V497.8h2V501.8h4V499.8h2V501.8h2V500.8h2V501.8h4V500.8h2V499.8h2V500.8h2V499.8h2V500.8h2V498.8h2V500.8h2V499.8h2V500.8h4V501.8h2V498.8h2V501.8h10V500.8h2V501.8h4V500.8h2V501.8h6V497.8h2V500.8h2V501.8h6V500.8h6V501.8h2V500.8h2V501.8h2V500.8h2V494.8h2V501.8h6V500.8h2V501.8h8V496.8h2V495.8h2V500.8h2V501.8h2V499.8h2V496.8h2V501.8h2V497.8h2V498.8h2V501.8h6V500.8h2V497.8h4V499.8h2V501.8h2V500.8h4V498.8h2V500.8h2V501.8h2V498.8h2V501.8h4V500.8h2V501.8h2V500.8h2V501.8h2V500.8h2V501.8h6V498.8h2V501.8h4V499.8h2V501.8h2V500.8h2V501.8h4V499.8h2V501.8h4V498.8h2V501.8h2V499.8h2V501.8h14V499.8h2V501.8h4V499.8h2V501.8h2V497.8h2V498.8h2V501.8h2V500.8h2V501.8h2V498.8h2V500.8h4V501.8h12V499.8h2V501.8h4V500.8h2V498.8h2V497.8h2V501.8h8V498.8h2V492.8h2V498.8h2V497.8h2V495.8h2V485.8h2V484.8h2V495.8h4V497.8h2V496.8h2V494.8h2V492.8h2V498.8h2V495.8h2V498.8h2V497.8h2V501.8h2V496.8h4V498.8h2V496.8h2V498.8h2V499.8h2V498.8h2V497.8h2V496.8h2V497.8h2V499.8h4V501.8h4V499.8h4V501.8h2V500.8h2V498.8h4V499.8h8V500.8h2V499.8h2V497.8h2V501.8h4V500.8h4V501.8h2V500.8h2V501.8h2V497.8h2V501.8h4V497.8h2V501.8h2V500.8h2V494.8h2V497.8h2V499.8h2V501.8h8V500.8h2V498.8h2V500.8h2V501.8h4V498.8h4V501.8h2V500.8h4V499.8h2V501.8h4V499.8h2V501.8h10V500.8h2V501.8h2V500.8h8V501.8h2V499.8h2V501.8h6V500.8h2V501.8h2V499.8h2V500.8h4V501.8h2V500.8h2V501.8h6V500.8h2V501.8h2V499.8h2V501.8h8V500.8h2V499.8h6V500.8h4V501.8h4V497.8h2V499.8h2V500.8h4V501.8h8V499.8h2V501.8h4V500.8h2V501.8h12V500.8h4V501.8h8V499.8h2V501.8h2V500.8h4V499.8h2V501.8h4V497.8h4V500.8h4V499.8h4V501.8h6V497.8h2V501.8h4V498.8h2V497.8h2V501.8h2V497.8h2V499.8h2V501.8h4V500.8h2V501.8h10V500.8h4V501.8h4V497.8h2V501.8h4V498.8h2V501.8h2V499.8h4V500.8h2V501.8h2V499.8h2V498.8h2V501.8h2V496.8h2V498.8h2V501.8h2V497.8h2V501.8h8V500.8h2V497.8h2V499.8h2V500.8h2V501.8h6V497.8h2V498.8h2V501.8h8V498.8h2V500.8h2V501.8h2V499.8h2V498.8h2V499.8h2V501.8h2V500.8h6V501.8h2V500.8h2V499.8h2V500.8h2V501.8h4V500.8h2V501.8h26V498.8h2V501.8h2V499.8h2V501.8h4V500.8h2V501.8Z" fill="#b84ac8"/>
<path d="M400.7 527.8H1499.6" stroke="#c6be2c" stroke-opacity="0.33"/>
<path d="M400.7 528.3V523.3h2V524.3h2V528.3h4V527.3h4V528.3h2V524.3h2V526.3h4V524.3h6V528.3h2V527.3h2V528.3h2V527.3h2V526.3h2V524.3h2V527.3h2V524.3h2V528.3h2V527.3h2V528.3h2V527.3h2V528.3h2V526.3h2V528.3h2V524.3h2V525.3h4V527.3h2V525.3h2V524.3h2V528.3h2V525.3h2V526.3h2V524.3h2V528.3h2V527.3h4V524.3h6V527.3h2V526.3h2V523.3h2V525.3h2V526.3h2V528.3h2V526.3h4V525.3h2V524.3h2V526.3h2V528.3h6V527.3h2V526.3h2V528.3h2V526.3h8V528.3h2V524.3h6V527.3h2V528.3h4V525.3h2V528.3h2V524.3h2V527.3h2V525.3h2V527.3h2V528.3h2V524.3h2V526.3h2V525.3h2V524.3h2V525.3h4V526.3h2V525.3h2V528.3h2V524.3h2V527.3h4V525.3h2V527.3h2V525.3h2V526.3h2V521.3h2V524.3h2V516.3h2V520.3h2V526.3h2V522.3h2V524.3h2V525.3h2V524.3h2V521.3h2V524.3h2V525.3h2V528.3h8V524.3h2V528.3h4V525.3h4V528.3h2V525.3h2V524.3h2V527.3h2V526.3h4V525.3h2V528.3h4V527.3h2V528.3h2V525.3h2V528.3h2V527.3h2V526.3h2V524.3h2V528.3h4V527.3h2V525.3h2V528.3h6V527.3h2V526.3h2V528.3h2V524.3h2V526.3h2V527.3h4V526.3h4V528.3h2V525.3h4V524.3h2V528.3h2V526.3h2V528.3h2V525.3h2V528.3h2V525.3h2V528.3h8V524.3h4V528.3h2V524.3h4V528.3h2V524.3h2V522.3h2V525.3h4V526.3h2V527.3h2V524.3h4V528.3h6V527.3h6V524.3h4V526.3h2V525.3h2V527.3h2V526.3h4V525.3h2V528.3h2V525.3h2V528.3h2V527.3h2V526.3h2V528.3h2V524.3h2V525.3h2V527.3h2V528.3h4V524.3h10V527.3h4V526.3h2V528.3h4V525.3h2V524.3h2V528.3h2V526.3h2V528.3h4V526.3h4V524.3h2V525.3h2V527.3h2V526.3h2V527.3h4V524.3h2V527.3h2V524.3h2V528.3h2V524.3h2V526.3h2V527.3h2V528.3h4V526.3h4V525.3h2V528.3h2V527.3h2V526.3h2V525.3h2V527.3h4V528.3h4V526.3h4V527.3h2V525.3h2V526.3h2V527.3h2V528.3h4V527.3h2V528.3h6V527.3h2V522.3h2V527.3h2V525.3h2V527.3h2V525.3h2V528.3h8V524.3h2V525.3h4V524.3h2V526.3h4V524.3h4V526.3h2V527.3h2V526.3h2V525.3h2V527.3h2V528.3h2V524.3h2V527.3h4V528.3h4V526.3h2V525.3h2V526.3h2V528.3h2V527.3h4V524.3h2V528.3h2V526.3h4V528.3h12V525.3h2V528.3h2V527.3h2V528.3h2V522.3h2V528.3h2V525.3h2V524.3h2V525.3h2V524.3h2V521.3h2V527.3h2V523.3h2V521.3h2V528.3h2V524.3h2V528.3h2V523.3h2V521.3h2V524.3h2V522.3h4V525.3h2V527.3h2V525.3h4V526.3h2V528.3h2V524.3h2V526.3h2V527.3h4V524.3h2V525.3h2V528.3h8V527.3h4V528.3h2V527.3h8V524.3h2V528.3h2V525.3h4V527.3h2V528.3h8V526.3h2V524.3h2V525.3h2V528.3h2V527.3h4V524.3h2V528.3h2V526.3h2V528.3h2V527.3h2V526.3h2V525.3h4V526.3h2V528.3h2V527.3h4V524.3h2V528.3h2V527.3h4V526.3h2V527.3h2V528.3h2V527.3h2V526.3h2V525.3h2V526.3h2V527.3h2V528.3h2V525.3h2V528.3h2V527.3h10V528.3h2V524.3h2V528.3h2V525.3h2V527.3h2V528.3h4V524.3h4V527.3h2V524.3h2V527.3h2V525.3h4V524.3h2V528.3h2V524.3h2V527.3h2V525.3h4V528.3h2V525.3h2V527.3h2V524.3h2V525.3h2V526.3h2V525.3h2V527.3h2V528.3h6V526.3h2V528.3h4V524.3h2V528.3h4V526.3h2V527.3h2V525.3h4V528.3h2V524.3h2V528.3h2V524.3h4V527.3h2V528.3h2V524.3h2V526.3h2V525.3h2V526.3h2V528.3h2V525.3h2V526.3h2V528.3h6V527.3h4V528.3h2V524.3h2V527.3h4V528.3h2V527.3h2V524.3h4V526.3h6V528.3h2V524.3h2V527.3h2V526.3h2V527.3h4V528.3h4V527.3h2V525.3h2V527.3h2V525.3h2V528.3h6V525.3h2V526.3h4V527.3h4V528.3h2V524.3h2V528.3h2V524.3h2V528.3h2V527.3h4V528.3h2V526.3h2V528.3h2V526.3h2V528.3h2V527.3h2V524.3h2V527.3h2V524.3h2V527.3h2V524.3h2V527.3h2V528.3h8V524.3h2V525.3h2V526.3h2V527.3h2V528.3h2V527.3h2V528.3h8V527.3h2V524.3h2V528.3h2V527.3h4V528.3h4V526.3h2V524.3h2V525.3h2V528.3h4V524.3h4V528.3h4V527.3h2V524.3h6V526.3h2V528.3h2V526.3h2V527.3h2V528.3h2V525.3h2V528.3h2V527.3h4V525.3h2V528.3h2V528.3Z" fill="#c6be2c"/>
<path d="M400.7 554.3H1499.6" stroke="#c6be2c" stroke-opacity="0.33"/>
<path d="M400.7 554.8V552.8h4V550.8h2V554.8h4V550.8h2V554.8h2V551.8h2V553.8h2V554.8h2V551.8h2V554.8h4V553.8h2V551.8h2V550.8h2V554.8h6V553.8h2V552.8h2V553.8h2V554.8h4V553.8h2V551.8h4V552.8h2V550.8h2V552.8h2V551.8h2V549.8h2V554.8h2V551.8h2V554.8h2V550.8h2V549.8h2V551.8h2V550.8h4V551.8h2V550.8h2V548.8h2V541.8h2V547.8h2V549.8h2V547.8h2V546.8h2V545.8h4V552.8h2V550.8h2V554.8h2V550.8h2V547.8h2V549.8h2V550.8h2V552.8h2V550.8h4V552.8h2V550.8h2V548.8h2V550.8h2V548.8h2V550.8h2V552.8h2V550.8h2V552.8h2V550.8h4V545.8h2V547.8h2V554.8h4V553.8h2V554.8h2V551.8h2V553.8h2V554.8h2V552.8h2V553.8h2V552.8h2V554.8h2V553.8h2V554.8h2V551.8h2V554.8h4V550.8h2V554.8h4V550.8h2V545.8h2V550.8h4V544.8h2V536.8h2V544.8h2V540.8h2V547.8h2V548.8h2V542.8h2V549.8h2V548.8h2V553.8h2V552.8h2V554.8h14V553.8h2V550.8h2V554.8h4V550.8h2V553.8h4V552.8h2V554.8h2V550.8h2V553.8h4V554.8h2V551.8h2V552.8h2V554.8h2V552.8h2V554.8h8V553.8h2V554.8h4V553.8h2V550.8h2V552.8h2V553.8h2V554.8h6V552.8h2V554.8h10V550.8h2V551.8h2V554.8h2V552.8h2V554.8h2V552.8h2V551.8h2V550.8h4V554.8h6V550.8h2V553.8h2V550.8h2V554.8h2V552.8h2V554.8h2V553.8h2V554.8h2V553.8h2V551.8h6V554.8h10V553.8h2V552.8h2V551.8h2V554.8h4V551.8h2V554.8h2V553.8h2V554.8h2V553.8h4V554.8h2V550.8h4V552.8h4V550.8h2V552.8h2V554.8h2V551.8h2V554.8h4V550.8h2V554.8h2V553.8h2V554.8h2V553.8h2V554.8h4V553.8h4V554.8h2V550.8h4V547.8h2V550.8h2V552.8h2V547.8h8V551.8h2V548.8h2V550.8h2V549.8h4V554.8h2V546.8h2V554.8h12V552.8h2V553.8h2V554.8h4V550.8h2V554.8h4V550.8h4V554.8h2V552.8h4V550.8h2V552.8h2V551.8h2V550.8h2V554.8h2V551.8h2V553.8h2V554.8h6V552.8h2V550.8h4V554.8h4V551.8h2V554.8h2V552.8h2V554.8h2V550.8h2V551.8h2V553.8h2V554.8h4V553.8h2V554.8h2V553.8h2V554.8h8V553.8h4V552.8h2V554.8h4V553.8h2V554.8h2V547.8h2V553.8h2V554.8h2V552.8h2V550.8h2V554.8h4V552.8h2V554.8h6V553.8h2V551.8h2V554.8h6V551.8h2V554.8h2V548.8h2V554.8h2V550.8h2V546.8h2V545.8h2V554.8h2V549.8h2V553.8h2V551.8h2V547.8h2V549.8h2V542.8h2V548.8h2V547.8h2V546.8h2V547.8h2V548.8h4V554.8h4V549.8h2V548.8h2V546.8h2V553.8h2V550.8h2V554.8h6V550.8h2V551.8h2V554.8h4V553.8h2V550.8h2V553.8h2V551.8h2V550.8h2V552.8h2V554.8h6V553.8h2V554.8h6V551.8h2V552.8h2V554.8h2V550.8h2V554.8h2V550.8h2V554.8h2V550.8h2V551.8h2V554.8h4V552.8h2V553.8h2V554.8h6V552.8h2V551.8h2V550.8h2V553.8h2V554.8h8V553.8h2V550.8h2V552.8h2V551.8h2V552.8h2V550.8h4V552.8h2V551.8h2V554.8h8V553.8h2V550.8h2V553.8h2V554.8h2V553.8h2V551.8h2V554.8h2V553.8h2V554.8h4V550.8h2V553.8h2V554.8h2V550.8h4V554.8h6V553.8h2V554.8h2V553.8h2V554.8h8V551.8h2V554.8h4V550.8h2V554.8h6V550.8h2V554.8h2V552.8h2V553.8h2V554.8h2V552.8h2V550.8h2V554.8h6V553.8h2V551.8h2V554.8h6V553.8h2V554.8h4V553.8h4V554.8h4V553.8h2V551.8h2V554.8h2V553.8h2V551.8h2V550.8h2V554.8h2V553.8h2V554.8h2V552.8h2V554.8h12V552.8h2V554.8h6V552.8h2V554.8h2V550.8h6V554.8h10V549.8h2V553.8h2V554.8h6V553.8h2V551.8h2V554.8h2V552.8h2V553.8h2V554.8h4V550.8h2V551.8h4V550.8h2V554.8h10V553.8h4V554.8h2V550.8h2V554.8h2V550.8h2V554.8h4V552.8h2V551.8h2V552.8h2V553.8h2V554.8h4V551.8h2V554.8h2V551.8h2V550.8h2V554.8h4V553.8h2V554.8h2V552.8h2V554.8h2V550.8h2V551.8h2V550.8h2V554.8h2V553.8h2V554.8h4V550.8h2V554.8h2V551.8h2V550.8h2V554.8h4V553.8h2V550.8h2V552.8h4V551.8h2V554.8h6V548.8h2V554.8h2V550.8h2V552.8h2V553.8h2V554.8h4V550.8h2V554.8h6V553.8h4V554.8h2V550.8h2V554.8Z" fill="#c6be2c"/>
<path d="M400.7 579.7H1499.6" stroke="#4a8ecf" stroke-opacity="0.33"/>
<path d="M400.7 580.2h16V578.2h2V579.2h2V580.2h6V578.2h2V580.2h14V579.2h2V580.2h2V578.2h2V580.2h20V579.2h2V580.2h6V579.2h2V580.2h10V579.2h2V576.2h4V578.2h2V580.2h4V579.2h4V580.2h28V579.2h2V580.2h6V579.2h4V580.2h2V579.2h2V580.2h6V576.2h2V580.2h12V579.2h4V580.2h2V579.2h2V580.2h2V579.2h2V580.2h14V579.2h2V570.2h2V575.2h2V576.2h4V579.2h2V580.2h22V579.2h2V580.2h12V578.2h2V579.2h2V580.2h12V579.2h6V580.2h2V579.2h4V580.2h2V579.2h2V580.2h2V579.2h2V580.2h2V576.2h2V579.2h2V580.2h8V578.2h2V580.2h4V579.2h2V580.2h2V579.2h2V580.2h6V579.2h2V580.2h8V578.2h2V579.2h2V580.2h2V579.2h2V580.2h2V579.2h4V580.2h4V579.2h2V580.2h2V579.2h4V580.2h4V579.2h2V580.2h4V578.2h2V580.2h6V579.2h2V578.2h2V580.2h4V579.2h2V580.2h8V579.2h4V580.2h2V578.2h2V579.2h4V580.2h2V578.2h2V575.2h2V578.2h2V580.2h6V579.2h2V580.2h2V578.2h2V580.2h10V579.2h2V580.2h4V579.2h2V574.2h2V577.2h2V580.2h16V579.2h2V580.2h8V578.2h2V576.2h2V580.2h2V579.2h4V580.2h4V579.2h2V580.2h10V579.2h2V580.2h2V579.2h2V580.2h10V579.2h2V580.2h2V579.2h2V580.2h8V579.2h2V578.2h2V580.2h6V578.2h2V580.2h6V577.2h2V578.2h2V580.2h8V578.2h2V579.2h6V580.2h6V579.2h4V578.2h2V580.2h8V579.2h2V580.2h6V579.2h4V580.2h2V578.2h4V580.2h10V578.2h2V580.2h8V579.2h2V578.2h2V580.2h2V579.2h2V580.2h2V579.2h2V578.2h2V579.2h2V580.2h4V578.2h2V580.2h10V579.2h2V580.2h8V579.2h2V580.2h6V579.2h2V580.2h20V579.2h2V580.2h2V578.2h2V579.2h2V580.2h4V575.2h2V580.2h4V578.2h2V580.2h2V578.2h2V580.2h4V579.2h2V580.2h10V579.2h4V580.2h8V578.2h2V580.2h2V578.2h2V575.2h2V577.2h2V579.2h2V580.2h8V579.2h2V580.2h2V578.2h2V580.2h20V579.2h4V580.2h2V578.2h2V580.2h14V578.2h2V580.2h4V579.2h6V580.2h2V579.2h2V578.2h2V580.2h6V579.2h2V580.2h2V579.2h4V580.2h10V579.2h2V578.2h2V580.2h10V579.2h2V580.2h2V579.2h2V580.2h6V579.2h4V578.2h4V580.2h2V579.2h2V580.2h4V579.2h2V580.2h10V579.2h2V580.2h8V579.2h2V578.2h2V580.2h4V579.2h4V580.2h14V578.2h2V580.2h14V579.2h2V580.2h6V578.2h2V580.2h2V579.2h2V580.2h4V578.2h2V580.2h24V579.2h2V580.2h8V579.2h2V580.2h6V579.2h2V580.2h10V579.2h2V580.2h10V578.2h2V580.2h8V579.2h2V580.2h2V579.2h2V580.2h4V579.2h2V580.2h2V579.2h2V580.2h2V579.2h2V580.2h8V579.2h2V580.2h16V579.2h2V580.2Z" fill="#4a8ecf"/>
<path d="M400.7 606.9H1499.6" stroke="#4a8ecf" stroke-opacity="0.33"/>
<path d="M400.7 607.4V606.4h4V607.4h2V606.4h2V607.4h6V606.4h2V607.4h14V606.4h4V607.4h2V606.4h2V607.4h6V606.4h2V607.4h8V602.4h4V606.4h2V607.4h2V605.4h2V606.4h4V607.4h4V605.4h2V607.4h8V605.4h2V607.4h2V605.4h2V607.4h4V606.4h2V599.4h2V603.4h2V607.4h10V605.4h2V606.4h4V605.4h4V607.4h6V605.4h2V607.4h12V605.4h2V607.4h4V606.4h2V607.4h4V606.4h4V607.4h2V605.4h2V607.4h6V605.4h2V607.4h2V606.4h4V605.4h2V606.4h2V607.4h6V606.4h2V607.4h4V605.4h2V602.4h4V605.4h2V591.4h2V597.4h2V599.4h2V604.4h2V607.4h2V605.4h2V607.4h8V606.4h2V607.4h6V606.4h2V607.4h6V606.4h2V607.4h4V605.4h2V607.4h4V605.4h2V607.4h6V605.4h2V607.4h8V606.4h2V605.4h2V607.4h6V605.4h2V607.4h2V606.4h2V605.4h2V606.4h2V607.4h4V606.4h2V607.4h16V606.4h4V607.4h4V606.4h2V607.4h6V606.4h2V607.4h16V606.4h4V607.4h2V606.4h4V607.4h2V606.4h2V607.4h2V606.4h2V607.4h36V606.4h2V607.4h8V606.4h2V605.4h2V607.4h18V606.4h2V607.4h4V606.4h2V599.4h2V603.4h4V605.4h2V607.4h2V605.4h2V607.4h12V606.4h2V607.4h4V606.4h2V607.4h10V605.4h2V607.4h10V606.4h2V607.4h4V606.4h2V605.4h4V607.4h2V606.4h2V607.4h4V605.4h2V607.4h6V606.4h2V607.4h2V606.4h4V607.4h24V606.4h4V607.4h10V606.4h4V607.4h4V606.4h4V607.4h2V605.4h2V607.4h2V605.4h2V607.4h24V606.4h2V607.4h2V606.4h2V599.4h2V602.4h4V605.4h2V607.4h4V605.4h2V607.4h12V606.4h2V607.4h6V605.4h2V607.4h2V606.4h2V607.4h2V606.4h2V607.4h22V606.4h8V607.4h16V605.4h2V607.4h2V606.4h2V607.4h2V606.4h2V607.4h4V605.4h2V606.4h2V605.4h2V606.4h2V607.4h2V606.4h2V607.4h2V606.4h4V607.4h4V606.4h6V607.4h4V606.4h2V607.4h12V606.4h2V607.4h10V606.4h2V607.4h4V606.4h2V607.4h10V606.4h2V605.4h2V607.4h6V606.4h2V607.4h30V606.4h2V607.4h2V605.4h2V607.4h18V605.4h2V607.4h12V606.4h2V607.4h2V606.4h2V607.4h2V606.4h2V607.4h4V606.4h2V607.4h4V606.4h2V607.4h24V606.4h2V605.4h2V607.4h10V606.4h2V607.4h8V606.4h2V607.4h2V606.4h2V607.4h4V603.4h2V607.4h18V606.4h2V607.4h6V601.4h2V606.4h2V607.4h2V606.4h4V607.4h6V606.4h2V607.4h2V606.4h2V607.4h6V606.4h4V607.4h6V606.4h2V607.4h14V606.4h2V607.4h6V605.4h2V606.4h2V607.4h22V605.4h2V607.4h6V606.4h2V607.4h2V606.4h6V607.4h10V606.4h2V607.4h2V607.4Z" fill="#4a8ecf"/>
<path d="M598.2 631.6H645.9" stroke="#2e3192" stroke-width="1.6"/>
<rect x="598.2" y="627.6" width="1.5" height="8" fill="#2e3192"/>
<rect x="610.2" y="627.4" width="1.3" height="8.5" fill="#2e3192"/>
<rect x="613.2" y="627.4" width="5" height="8.5" fill="#2e3192"/>
<rect x="621.6" y="627.4" width="1.2" height="8.5" fill="#2e3192"/>
<rect x="624.3" y="627.4" width="4" height="8.5" fill="#2e3192"/>
<rect x="634.3" y="627.4" width="1.4" height="8.5" fill="#2e3192"/>
<rect x="644.5" y="627.4" width="1.2" height="8.5" fill="#2e3192"/>
<rect x="645.4" y="629.1" width="7.5" height="5" fill="#2e3192"/>
<path d="M495.7 651.6H645.9" stroke="#2e3192" stroke-width="1.6"/>
<rect x="495.7" y="647.6" width="1.5" height="8" fill="#2e3192"/>
<path d="M511.7 648.6L514.7 651.6L511.7 654.6" fill="none" stroke="#2e3192" stroke-width="1.4"/>
<path d="M531.8 648.6L534.8 651.6L531.8 654.6" fill="none" stroke="#2e3192" stroke-width="1.4"/>
<path d="M551.9 648.6L554.9 651.6L551.9 654.6" fill="none" stroke="#2e3192" stroke-width="1.4"/>
<path d="M572 648.6L575 651.6L572 654.6" fill="none" stroke="#2e3192" stroke-width="1.4"/>
<path d="M592.1 648.6L595.1 651.6L592.1 654.6" fill="none" stroke="#2e3192" stroke-width="1.4"/>
<rect x="610.2" y="647.4" width="1.3" height="8.5" fill="#2e3192"/>
<rect x="613.2" y="647.4" width="5" height="8.5" fill="#2e3192"/>
<rect x="621.6" y="647.4" width="1.2" height="8.5" fill="#2e3192"/>
<rect x="624.3" y="647.4" width="4" height="8.5" fill="#2e3192"/>
<rect x="634.3" y="647.4" width="1.4" height="8.5" fill="#2e3192"/>
<rect x="644.5" y="647.4" width="1.2" height="8.5" fill="#2e3192"/>
<rect x="645.4" y="649.1" width="7.5" height="5" fill="#2e3192"/>
<path d="M1035.1 631.5H1301.1" stroke="#2e3192" stroke-width="1.6"/>
<rect x="1035.1" y="628.5" width="1.2" height="6" fill="#2e3192"/>
<path d="M1041.8 628.5L1044.8 631.5L1041.8 634.5" fill="none" stroke="#2e3192" stroke-width="1.4"/>
<path d="M1061.8 628.5L1064.8 631.5L1061.8 634.5" fill="none" stroke="#2e3192" stroke-width="1.4"/>
<path d="M1081.9 628.5L1084.9 631.5L1081.9 634.5" fill="none" stroke="#2e3192" stroke-width="1.4"/>
<path d="M1101.9 628.5L1104.9 631.5L1101.9 634.5" fill="none" stroke="#2e3192" stroke-width="1.4"/>
<path d="M1122 628.5L1125 631.5L1122 634.5" fill="none" stroke="#2e3192" stroke-width="1.4"/>
<path d="M1142 628.5L1145 631.5L1142 634.5" fill="none" stroke="#2e3192" stroke-width="1.4"/>
<path d="M1162.1 628.5L1165.1 631.5L1162.1 634.5" fill="none" stroke="#2e3192" stroke-width="1.4"/>
<path d="M1182.1 628.5L1185.1 631.5L1182.1 634.5" fill="none" stroke="#2e3192" stroke-width="1.4"/>
<path d="M1202.2 628.5L1205.2 631.5L1202.2 634.5" fill="none" stroke="#2e3192" stroke-width="1.4"/>
<path d="M1222.2 628.5L1225.2 631.5L1222.2 634.5" fill="none" stroke="#2e3192" stroke-width="1.4"/>
<path d="M1242.3 628.5L1245.3 631.5L1242.3 634.5" fill="none" stroke="#2e3192" stroke-width="1.4"/>
<path d="M1262.3 628.5L1265.3 631.5L1262.3 634.5" fill="none" stroke="#2e3192" stroke-width="1.4"/>
<path d="M1282.4 628.5L1285.4 631.5L1282.4 634.5" fill="none" stroke="#2e3192" stroke-width="1.4"/>
<rect x="1128.9" y="628.5" width="1.2" height="6" fill="#2e3192"/>
<rect x="1292.7" y="628.5" width="1.2" height="6" fill="#2e3192"/>
<rect x="1301.1" y="628.9" width="7.6" height="5.3" fill="#2e3192"/>
<path d="M403 721.1H1503" stroke="#d8302a" stroke-opacity="0.33"/>
<path d="M403 721.6h20V720.6h2V721.6h230V720.6h2V721.6h18V720.6h2V721.6h34V720.6h2V721.6h72V720.6h2V721.6h70V720.6h2V721.6h80V720.6h2V721.6h6V720.6h2V721.6h34V720.6h2V721.6h52V720.6h2V721.6h62V720.6h2V721.6h42V720.6h4V721.6h56V720.6h2V721.6h50V720.6h4V721.6h44V720.6h2V721.6h28V720.6h2V721.6h66V720.6h2V721.6h98V721.6Z" fill="#d8302a"/>
<path d="M403 748H1503" stroke="#d8302a" stroke-opacity="0.33"/>
<path d="M403 748.5h4V747.5h2V748.5h50V744.5h2V745.5h2V748.5h14V747.5h2V746.5h4V748.5h12V744.5h2V728.5h2V743.5h2V744.5h2V748.5h66V747.5h2V748.5h28V742.5h4V748.5h8V747.5h2V744.5h2V747.5h2V748.5h34V747.5h2V748.5h18V747.5h2V748.5h68V747.5h2V748.5h48V747.5h2V748.5h80V747.5h2V748.5h12V747.5h2V748.5h108V743.5h4V748.5h34V746.5h2V739.5h2V744.5h4V747.5h2V745.5h2V747.5h2V748.5h32V747.5h2V748.5h42V747.5h2V748.5h82V747.5h2V748.5h142V747.5h2V746.5h2V747.5h2V748.5h144V748.5Z" fill="#d8302a"/>
<path d="M403 775H1503" stroke="#5bbde0" stroke-opacity="0.33"/>
<path d="M403 775.5h6V774.5h2V775.5h2V774.5h6V775.5h8V774.5h2V775.5h18V774.5h2V775.5h8V774.5h2V775.5h2V774.5h4V775.5h2V774.5h4V775.5h14V773.5h2V774.5h2V775.5h6V773.5h6V774.5h2V775.5h2V774.5h2V775.5h6V773.5h2V775.5h14V774.5h2V775.5h8V774.5h2V775.5h2V773.5h2V774.5h4V775.5h6V773.5h2V774.5h6V775.5h10V773.5h4V775.5h10V774.5h2V773.5h2V774.5h2V775.5h6V774.5h2V775.5h4V774.5h2V775.5h6V773.5h4V775.5h2V774.5h4V775.5h2V774.5h2V775.5h8V773.5h2V775.5h2V774.5h4V775.5h14V774.5h2V775.5h2V774.5h2V775.5h16V773.5h2V775.5h14V774.5h2V775.5h6V774.5h2V775.5h2V774.5h2V775.5h20V773.5h2V775.5h4V774.5h2V775.5h8V774.5h4V775.5h2V774.5h4V775.5h8V774.5h2V775.5h4V773.5h2V774.5h2V775.5h4V774.5h2V775.5h4V773.5h2V775.5h2V773.5h2V775.5h16V774.5h2V775.5h2V774.5h4V775.5h2V773.5h2V774.5h2V775.5h10V774.5h2V775.5h12V774.5h2V775.5h4V774.5h2V775.5h2V774.5h2V775.5h30V774.5h2V775.5h4V774.5h2V775.5h4V774.5h2V775.5h6V774.5h2V775.5h4V773.5h2V774.5h2V775.5h4V774.5h2V775.5h12V773.5h2V775.5h2V773.5h2V775.5h4V774.5h2V775.5h12V774.5h2V775.5h20V774.5h4V775.5h12V774.5h2V773.5h2V775.5h4V774.5h2V775.5h2V773.5h2V775.5h8V774.5h2V775.5h4V774.5h2V775.5h2V774.5h2V775.5h2V774.5h2V775.5h2V774.5h2V773.5h2V774.5h2V775.5h30V773.5h2V775.5h6V773.5h2V775.5h6V774.5h2V775.5h6V774.5h2V775.5h4V773.5h2V774.5h4V775.5h2V774.5h2V775.5h4V774.5h2V775.5h4V773.5h2V774.5h6V773.5h2V775.5h8V774.5h4V775.5h2V774.5h2V775.5h2V774.5h2V775.5h14V774.5h2V775.5h4V773.5h2V775.5h2V774.5h2V775.5h2V773.5h2V775.5h8V774.5h8V775.5h4V774.5h6V772.5h4V775.5h10V774.5h6V775.5h10V774.5h2V775.5h8V774.5h2V775.5h4V774.5h2V775.5h6V773.5h2V774.5h2V775.5h4V774.5h2V775.5h6V774.5h2V775.5h2V774.5h4V775.5h2V774.5h2V775.5h2V774.5h2V775.5h8V774.5h2V775.5h8V774.5h2V775.5h2V774.5h4V775.5h18V774.5h2V775.5h2V774.5h2V775.5h4V773.5h2V775.5h8V774.5h4V775.5h6V774.5h2V773.5h2V775.5h24V774.5h2V775.5h10V774.5h2V775.5h2V773.5h2V774.5h2V775.5h6V774.5h2V775.5h4V774.5h2V775.5h22V774.5h4V775.5h2V774.5h4V775.5h2V774.5h2V775.5h20V773.5h2V775.5h10V774.5h6V775.5Z" fill="#5bbde0"/>
<path d="M403 801.2H1503" stroke="#5bbde0" stroke-opacity="0.33"/>
<path d="M403 801.7h4V799.7h2V800.7h6V801.7h16V799.7h2V800.7h2V801.7h2V800.7h2V801.7h2V799.7h2V801.7h2V799.7h2V800.7h2V801.7h8V800.7h2V801.7h2V800.7h4V801.7h8V800.7h4V801.7h2V799.7h2V801.7h6V800.7h2V801.7h4V800.7h4V799.7h2V800.7h2V801.7h4V800.7h2V799.7h2V801.7h4V800.7h2V801.7h10V800.7h4V799.7h2V801.7h6V800.7h2V799.7h4V801.7h4V799.7h2V801.7h2V800.7h2V801.7h2V799.7h2V801.7h4V800.7h2V801.7h12V800.7h2V799.7h4V800.7h2V801.7h6V800.7h2V799.7h2V801.7h4V800.7h2V801.7h2V800.7h2V801.7h4V800.7h2V801.7h4V800.7h2V801.7h6V800.7h2V801.7h10V800.7h2V801.7h2V800.7h4V801.7h4V799.7h2V801.7h8V800.7h2V801.7h10V800.7h2V801.7h2V799.7h2V800.7h2V801.7h2V800.7h2V801.7h14V800.7h6V801.7h4V800.7h2V801.7h2V800.7h4V801.7h6V800.7h2V801.7h4V800.7h2V801.7h24V800.7h2V801.7h2V799.7h4V801.7h20V800.7h4V801.7h4V800.7h4V801.7h6V800.7h2V801.7h12V800.7h2V801.7h10V800.7h2V801.7h4V800.7h2V799.7h2V801.7h2V800.7h2V801.7h10V800.7h2V801.7h4V799.7h2V801.7h4V800.7h2V801.7h22V799.7h2V801.7h6V799.7h2V801.7h2V799.7h2V801.7h4V800.7h4V801.7h6V799.7h2V801.7h10V800.7h2V801.7h6V799.7h2V801.7h4V800.7h2V801.7h6V800.7h4V801.7h10V800.7h4V801.7h4V800.7h2V799.7h2V800.7h2V799.7h2V800.7h2V801.7h2V800.7h2V801.7h10V800.7h2V801.7h2V800.7h4V801.7h2V800.7h2V799.7h2V801.7h10V799.7h2V801.7h4V799.7h2V800.7h2V799.7h2V801.7h4V799.7h2V800.7h2V801.7h2V799.7h4V800.7h4V801.7h4V799.7h2V801.7h4V799.7h2V801.7h10V800.7h4V801.7h4V800.7h2V801.7h8V800.7h2V801.7h2V799.7h2V800.7h6V801.7h2V800.7h2V799.7h2V800.7h2V801.7h4V800.7h2V801.7h6V800.7h2V801.7h4V800.7h2V801.7h10V799.7h2V800.7h6V801.7h4V799.7h2V801.7h6V800.7h2V801.7h4V800.7h2V801.7h2V799.7h2V800.7h2V801.7h10V800.7h6V801.7h2V799.7h2V801.7h12V799.7h2V801.7h6V798.7h4V799.7h4V801.7h6V800.7h2V801.7h2V800.7h2V801.7h4V800.7h4V801.7h20V800.7h6V801.7h4V800.7h2V798.7h2V800.7h2V801.7h4V800.7h2V801.7h4V800.7h2V801.7h6V800.7h4V801.7h2V800.7h2V801.7h2V800.7h2V801.7h2V800.7h4V801.7h2V799.7h2V801.7h14V800.7h2V801.7h4V799.7h2V801.7h8V799.7h2V801.7h8V800.7h6V801.7h2V800.7h2V801.7h4V800.7h2V801.7h12V799.7h6V801.7h2V800.7h2V801.7h2V799.7h2V798.7h2V799.7h2V801.7h4V799.7h2V801.7h2V800.7h6V801.7h12V799.7h2V801.7h8V800.7h2V801.7h4V800.7h2V801.7h2V800.7h2V799.7h2V800.7h4V801.7h4V799.7h2V801.7h2V800.7h6V801.7h16V799.7h2V801.7h2V800.7h4V801.7h14V801.7Z" fill="#5bbde0"/>
<path d="M403 828.4H1503" stroke="#5bbde0" stroke-opacity="0.33"/>
<path d="M403 828.9V826.9h2V828.9h2V826.9h2V828.9h2V826.9h2V827.9h2V828.9h2V827.9h2V828.9h10V827.9h2V826.9h2V828.9h2V827.9h6V826.9h2V828.9h2V827.9h2V828.9h8V827.9h4V828.9h8V827.9h4V828.9h8V827.9h2V828.9h6V827.9h2V828.9h2V826.9h2V824.9h2V825.9h2V818.9h2V825.9h2V828.9h4V827.9h2V828.9h2V826.9h2V828.9h6V827.9h4V828.9h8V827.9h2V828.9h2V827.9h2V828.9h4V827.9h2V828.9h4V827.9h2V828.9h2V827.9h2V826.9h2V828.9h2V827.9h4V828.9h2V826.9h2V828.9h6V826.9h2V828.9h4V826.9h2V828.9h2V826.9h2V828.9h2V827.9h2V828.9h4V826.9h2V828.9h4V827.9h2V828.9h2V822.9h4V825.9h4V826.9h2V828.9h2V827.9h2V826.9h2V828.9h2V827.9h2V828.9h12V826.9h2V827.9h8V828.9h2V827.9h2V828.9h4V827.9h2V828.9h4V827.9h2V828.9h2V827.9h4V828.9h20V827.9h2V828.9h2V827.9h4V828.9h8V826.9h2V828.9h10V826.9h2V828.9h8V827.9h2V828.9h2V827.9h2V828.9h2V827.9h2V828.9h2V826.9h2V828.9h2V826.9h2V828.9h4V827.9h2V828.9h2V827.9h2V828.9h14V826.9h2V828.9h28V827.9h2V826.9h2V828.9h10V827.9h4V828.9h4V826.9h2V827.9h2V828.9h10V827.9h2V828.9h10V827.9h2V828.9h2V826.9h2V828.9h4V827.9h2V828.9h14V827.9h2V828.9h4V827.9h2V828.9h4V827.9h2V828.9h6V827.9h2V828.9h2V827.9h4V828.9h2V827.9h2V828.9h2V827.9h2V828.9h2V827.9h2V828.9h6V827.9h2V828.9h2V827.9h2V828.9h4V827.9h2V828.9h4V827.9h4V828.9h6V827.9h2V828.9h10V827.9h4V828.9h2V827.9h6V828.9h10V827.9h2V826.9h2V828.9h4V827.9h2V828.9h6V826.9h2V828.9h2V827.9h4V828.9h8V827.9h2V828.9h8V827.9h2V828.9h2V826.9h2V827.9h2V828.9h8V827.9h2V828.9h2V825.9h2V819.9h2V825.9h4V826.9h2V828.9h6V826.9h4V828.9h10V827.9h2V828.9h6V827.9h2V828.9h6V827.9h2V828.9h4V827.9h2V828.9h2V827.9h2V826.9h2V828.9h2V827.9h2V828.9h6V827.9h2V828.9h2V826.9h2V828.9h6V826.9h2V827.9h4V828.9h6V826.9h2V828.9h2V826.9h4V828.9h4V827.9h2V828.9h2V826.9h2V827.9h2V828.9h2V827.9h2V828.9h18V827.9h2V828.9h2V827.9h2V828.9h4V827.9h2V828.9h2V827.9h2V828.9h2V827.9h4V828.9h4V827.9h2V826.9h4V828.9h4V825.9h4V828.9h6V827.9h2V828.9h6V827.9h4V828.9h8V827.9h4V828.9h2V827.9h2V828.9h2V827.9h2V826.9h2V828.9h4V826.9h2V827.9h2V828.9h2V827.9h2V826.9h2V827.9h2V828.9h2V827.9h4V828.9h4V827.9h2V828.9h10V827.9h2V828.9h12V827.9h2V826.9h2V828.9h2V827.9h2V828.9h4V827.9h2V828.9h4V827.9h2V828.9h2V827.9h2V828.9h2V827.9h2V828.9h6V827.9h2V828.9h4V827.9h4V828.9h2V827.9h2V828.9h2V826.9h2V827.9h2V826.9h2V827.9h2V826.9h2V827.9h2V828.9h4V827.9h6V828.9h8V827.9h2V828.9h4V827.9h2V828.9h6V827.9h2V828.9h4V827.9h4V828.9h2V827.9h2V828.9h10V827.9h2V828.9h8V827.9h2V828.9h2V827.9h2V828.9h2V827.9h2V828.9h2V827.9h2V828.9h4V827.9h4V828.9h4V827.9h2V828.9h2V827.9h2V826.9h2V827.9h4V828.9h6V827.9h2V828.9h8V827.9h2V828.9h2V827.9h2V828.9h2V826.9h2V827.9h2V828.9h4V826.9h2V828.9Z" fill="#5bbde0"/>
<path d="M403 854.5H1503" stroke="#5bbde0" stroke-opacity="0.33"/>
<path d="M403 855h2V854h2V853h2V855h2V854h2V855h8V853h2V855h4V853h2V854h2V855h4V853h4V854h4V855h8V853h6V854h4V855h2V854h2V855h4V854h2V853h2V855h6V850h4V853h2V854h2V851h2V854h2V851h2V850h4V839h2V850h2V854h4V855h2V853h2V855h6V854h2V855h4V853h2V855h10V854h6V855h6V853h2V854h2V855h10V854h2V855h2V854h4V855h8V854h2V855h4V854h2V855h2V854h6V855h4V854h2V855h2V839h4V847h4V852h2V850h2V852h2V853h2V854h4V855h4V854h2V853h2V854h2V855h2V854h4V855h4V854h2V855h2V854h2V855h4V853h2V855h2V854h2V855h8V854h2V853h2V855h2V854h2V855h4V853h2V855h14V853h2V854h2V855h6V854h2V855h6V854h2V855h6V854h2V855h2V854h4V855h2V854h2V855h4V854h2V855h2V853h2V855h2V854h2V855h6V854h2V853h2V855h2V854h2V855h2V854h4V855h6V853h2V855h4V853h2V855h6V854h2V855h4V854h2V855h2V854h2V855h4V854h2V855h6V854h2V853h2V855h6V854h4V855h4V854h2V853h2V854h2V855h2V854h2V855h8V854h4V855h2V853h2V854h4V855h4V854h4V855h4V854h2V855h6V853h2V855h4V854h2V855h2V854h2V855h4V853h2V855h2V854h4V855h2V854h4V853h2V854h2V855h12V854h4V855h4V853h4V854h2V855h8V854h8V855h6V854h4V855h4V854h2V855h4V853h2V854h2V855h6V853h4V855h4V853h2V854h4V855h2V854h2V855h12V854h2V855h8V854h2V855h4V854h2V851h4V855h2V853h2V840h2V852h2V855h4V854h2V853h2V855h2V854h4V855h2V854h2V855h2V854h2V853h4V854h2V853h2V855h6V854h2V855h2V854h2V855h4V854h2V853h2V855h10V854h2V855h2V854h2V855h2V854h4V853h2V855h4V853h2V855h4V853h6V854h2V855h2V853h2V854h4V855h4V853h2V855h8V854h4V855h8V853h10V855h4V853h2V854h2V855h4V853h2V855h4V854h2V855h2V853h2V855h2V854h2V855h2V851h4V855h2V854h2V855h2V854h2V853h2V855h2V854h2V855h4V854h2V855h4V854h2V855h2V854h2V855h4V853h4V854h2V855h2V854h2V855h4V854h2V855h4V854h2V852h2V854h2V855h2V853h2V855h2V854h4V855h2V854h4V855h8V854h2V855h2V853h2V855h4V853h2V854h2V855h6V853h2V855h4V853h2V855h2V853h2V855h2V854h2V855h2V853h2V855h6V854h4V855h4V854h2V855h8V853h2V854h2V855h4V853h2V855h12V854h2V855h2V854h2V853h2V855h4V854h2V855h2V854h2V855h8V854h2V853h2V855h4V854h4V853h2V854h2V855h4V853h2V854h2V853h2V854h2V855h2V854h2V855h6V854h4V855h4V854h2V855h2V853h2V855h2V854h8V855h6V854h2V855h6V854h2V855h8V853h2V854h2V855h6V855Z" fill="#5bbde0"/>
<path d="M410 884.5V881.5h2V884.5h2V881.5h2V882.5h4V881.5h2V879.5h2V883.5h2V882.5h2V883.5h2V881.5h2V884.5h6V882.5h2V881.5h4V882.5h2V881.5h2V883.5h6V882.5h2V881.5h4V883.5h2V882.5h2V884.5h2V882.5h2V881.5h4V884.5h2V883.5h2V881.5h4V883.5h2V882.5h2V881.5h2V880.5h2V883.5h2V882.5h4V883.5h2V881.5h6V880.5h2V881.5h4V882.5h2V884.5h2V882.5h4V881.5h2V882.5h2V884.5h2V881.5h2V884.5h2V882.5h2V883.5h4V881.5h2V883.5h2V881.5h2V883.5h2V882.5h4V881.5h4V883.5h2V881.5h2V882.5h4V883.5h2V882.5h4V881.5h2V882.5h2V881.5h2V883.5h2V882.5h2V880.5h4V882.5h2V883.5h4V882.5h2V884.5h2V882.5h2V880.5h2V881.5h4V883.5h2V882.5h2V884.5h12V883.5h2V882.5h4V884.5h4V882.5h2V883.5h2V881.5h2V882.5h2V884.5h2V880.5h2V882.5h4V883.5h2V881.5h2V883.5h2V881.5h2V883.5h2V882.5h2V881.5h2V884.5h2V881.5h4V882.5h2V881.5h6V882.5h2V881.5h2V882.5h4V883.5h2V882.5h2V883.5h2V881.5h2V884.5h2V881.5h2V882.5h4V883.5h2V882.5h2V881.5h6V883.5h2V881.5h4V883.5h2V881.5h2V882.5h4V883.5h6V884.5h2V883.5h4V882.5h4V881.5h2V884.5h2V882.5h2V883.5h2V884.5h2V883.5h2V881.5h2V882.5h6V883.5h2V881.5h2V883.5h4V881.5h2V882.5h2V883.5h2V884.5h2V883.5h2V881.5h6V882.5h6V879.5h2V883.5h6V882.5h2V881.5h2V882.5h2V881.5h4V882.5h6V883.5h2V882.5h2V884.5h2V881.5h2V884.5h2V882.5h6V883.5h2V882.5h2V884.5h2V881.5h4V883.5h6V882.5h2V884.5h2V882.5h2V881.5h2V884.5h4V881.5h6V883.5h2V881.5h2V879.5h2V884.5h2V882.5h2V884.5h2V883.5h4V884.5h2V883.5h2V882.5h2V883.5h2V882.5h2V881.5h2V882.5h2V881.5h2V882.5h2V880.5h2V881.5h2V882.5h2V883.5h2V881.5h2V882.5h2V881.5h2V882.5h6V881.5h2V882.5h2V883.5h2V881.5h4V883.5h2V884.5h2V883.5h2V882.5h2V881.5h2V882.5h2V881.5h2V883.5h2V881.5h2V884.5h2V882.5h2V881.5h2V880.5h2V883.5h4V881.5h2V882.5h2V883.5h2V881.5h2V883.5h2V881.5h2V883.5h4V882.5h2V880.5h2V881.5h2V884.5h2V881.5h2V883.5h2V882.5h2V881.5h2V884.5h2V883.5h4V881.5h2V882.5h6V883.5h2V881.5h2V884.5h2V881.5h4V884.5h2V882.5h2V881.5h2V883.5h4V884.5h4V881.5h2V882.5h2V884.5h2V881.5h2V884.5h2V883.5h2V881.5h2V882.5h2V881.5h2V883.5h2V878.5h4V881.5h6V883.5h2V882.5h2V884.5h2V880.5h2V881.5h2V883.5h2V882.5h2V883.5h2V881.5h8V883.5h6V882.5h4V883.5h2V880.5h2V883.5h2V884.5h2V882.5h2V884.5h2V883.5h2V882.5h2V883.5h2V882.5h4V883.5h2V881.5h2V882.5h4V883.5h2V882.5h2V883.5h2V882.5h2V883.5h2V882.5h2V884.5h2V881.5h4V882.5h6V884.5h2V881.5h2V883.5h2V881.5h6V882.5h2V881.5h2V883.5h2V882.5h2V881.5h2V883.5h2V882.5h2V881.5h2V882.5h2V884.5h2V883.5h2V882.5h6V881.5h2V882.5h2V881.5h4V882.5h2V881.5h2V883.5h2V882.5h2V881.5h2V884.5h2V882.5h2V881.5h4V880.5h2V881.5h2V882.5h4V884.5h2V882.5h2V881.5h2V883.5h4V880.5h2V882.5h4V884.5h2V881.5h4V884.5h2V881.5h2V884.5h2V881.5h2V883.5h2V880.5h2V883.5h2V882.5h2V881.5h4V882.5h2V880.5h2V882.5h4V883.5h4V881.5h4V882.5h4V879.5h2V883.5h2V881.5h2V882.5h2V883.5h4V881.5h2V883.5h2V881.5h2V883.5h2V881.5h2V884.5h2V883.5h2V881.5h2V880.5h4V882.5h2V884.5h2V881.5h4V884.5h2V883.5h4V881.5h2V882.5h2V884.5h2V881.5h2V883.5h2V881.5h2V880.5h2V882.5h6V881.5h2V882.5h2V881.5h2V883.5h2V878.5h4V882.5h2V881.5h4V883.5h2V880.5h2V882.5h2V881.5h2V882.5h2V883.5h2V882.5h8V883.5h4V884.5h6V882.5h2V881.5h2V883.5h6V884.5h4V881.5h4V884.5h2V883.5h2V882.5h4V881.5h2V884.5h2V881.5h2V882.5h2V883.5h2V882.5h2V883.5h2V882.5h4V883.5h2V881.5h4V884.5h2V881.5h6V882.5h2V881.5h2V882.5h2V883.5h2V881.5h2V882.5h2V883.5h2V882.5h6V883.5h4V881.5h2V883.5h2V881.5h2V884.5h2V882.5h2V881.5h4V883.5h2V881.5h2V882.5h2V883.5h2V882.5h2V883.5h6V884.5Z" fill="#ec6a1f"/>
<path d="M410 911V910h2V909h4V910h2V907h2V911h2V909h2V910h10V908h2V910h2V909h2V908h2V909h2V908h6V909h2V908h2V910h4V908h2V911h2V910h2V906h2V909h4V908h2V909h2V910h2V909h2V908h2V909h4V910h2V908h2V903h2V910h2V908h2V909h2V908h2V903h4V894h2V905h4V909h6V908h2V909h2V911h2V910h2V908h2V910h2V908h4V909h2V911h2V908h2V910h2V908h2V911h2V909h4V908h2V909h2V910h2V909h2V908h2V910h6V908h4V906h2V909h2V908h2V910h2V908h2V910h2V909h4V907h2V910h4V908h8V909h2V908h2V907h4V909h2V910h2V908h2V910h2V908h8V910h2V911h2V910h6V909h2V910h2V908h2V911h2V908h2V909h4V908h2V910h2V909h2V908h2V909h2V908h2V909h2V908h4V910h2V907h2V908h2V910h2V911h2V910h2V908h6V910h4V906h2V908h2V907h4V908h2V909h2V911h2V908h2V909h2V908h2V911h2V910h4V909h2V908h2V911h2V910h2V909h2V911h4V909h2V908h2V909h2V908h2V906h2V908h2V911h2V909h4V911h2V909h2V908h2V911h2V908h2V909h4V911h2V908h2V910h2V908h2V910h2V909h2V911h2V908h4V907h2V909h2V907h2V908h2V911h2V910h6V909h4V910h8V909h4V908h4V910h2V911h2V909h2V908h2V910h2V911h2V910h2V909h4V908h6V909h6V907h2V910h2V908h2V910h2V908h2V911h2V909h2V908h2V910h4V908h2V909h2V910h2V909h2V908h2V910h4V907h2V909h2V908h4V909h4V911h2V910h2V908h2V910h8V911h2V909h4V910h2V908h2V907h2V910h4V907h2V908h2V909h2V911h2V910h2V908h2V910h4V909h2V908h2V911h2V908h8V909h2V910h2V908h2V909h2V908h2V907h2V910h2V909h2V910h2V909h2V908h4V909h6V910h2V909h2V908h2V910h2V908h4V906h2V909h2V910h2V908h2V909h4V910h2V909h2V910h2V909h2V910h2V908h4V910h2V909h4V908h2V909h2V908h4V909h2V908h2V910h2V909h2V899h2V909h4V905h2V909h2V910h2V909h2V910h2V909h2V910h2V908h2V907h2V909h2V911h2V910h8V908h2V910h2V909h2V908h6V907h2V910h2V908h2V907h2V910h2V908h2V909h2V908h2V909h2V910h2V908h2V909h2V910h2V911h2V910h4V908h2V910h2V909h2V908h2V910h2V908h2V909h6V910h4V909h2V910h4V908h8V909h2V911h2V909h4V910h2V908h2V911h4V908h2V911h2V910h2V908h2V909h4V910h2V909h2V908h2V910h2V909h4V910h2V911h2V910h4V908h2V909h2V908h2V910h4V908h2V909h8V908h2V910h2V909h2V908h2V909h2V908h2V911h2V908h2V911h4V910h2V908h6V910h2V908h2V907h2V910h2V909h2V908h2V909h2V910h4V908h2V909h2V907h2V911h2V910h8V911h2V910h2V911h2V908h2V910h2V908h2V909h2V908h4V909h4V910h4V908h2V911h2V908h2V910h2V909h2V908h2V911h2V908h2V911h4V909h2V906h2V910h4V909h2V907h2V908h2V910h2V911h2V909h8V908h2V910h2V908h2V909h2V908h2V906h2V910h2V908h4V909h2V908h2V909h2V908h2V909h2V908h2V910h2V911h2V910h4V911h2V907h2V909h2V910h2V909h6V911h2V908h2V910h2V909h2V910h2V908h4V906h2V910h4V908h2V911h2V910h4V909h2V910h2V909h2V910h2V908h2V911h2V908h2V910h2V909h6V910h2V911h2V907h4V908h2V910h6V908h2V909h2V910h4V908h4V906h2V908h2V911h2V910h6V911Z" fill="#ec6a1f"/>
<path d="M403 941.3H1503" stroke="#a846c8" stroke-opacity="0.33"/>
<path d="M403 941.8h76V939.8h4V941.8h12V938.8h2V936.8h2V938.8h2V941.8h10V939.8h2V941.8h18V940.8h2V941.8h6V940.8h2V938.8h4V941.8h2V939.8h2V941.8h58V939.8h4V941.8h18V940.8h2V941.8h210V940.8h2V941.8h2V939.8h2V941.8h32V940.8h2V941.8h70V940.8h2V941.8h12V939.8h2V941.8h18V940.8h2V941.8h50V939.8h2V937.8h2V939.8h2V941.8h4V939.8h2V941.8h14V940.8h2V941.8h58V939.8h2V941.8h32V940.8h2V941.8h18V939.8h2V941.8h14V940.8h2V941.8h12V938.8h4V941.8h12V940.8h2V941.8h40V940.8h2V939.8h2V940.8h4V941.8h46V940.8h2V941.8h32V940.8h2V939.8h2V940.8h2V941.8h22V940.8h2V941.8h10V940.8h2V939.8h2V940.8h2V941.8h104V941.8Z" fill="#a846c8"/>
<path d="M403 967.5H1503" stroke="#a846c8" stroke-opacity="0.33"/>
<path d="M403 968h4V967h2V968h36V966h2V968h32V966h4V968h8V966h2V960h4V950h2V961h4V966h2V968h36V960h4V967h2V968h6V967h2V968h50V967h2V965h4V967h2V968h14V967h2V968h68V966h2V968h12V966h2V968h20V967h2V968h12V966h2V968h64V967h2V968h34V967h2V968h68V967h2V968h20V967h2V968h8V967h4V968h80V966h2V956h2V966h2V962h4V967h2V968h98V967h2V968h12V966h2V968h46V966h4V968h20V967h2V968h42V967h2V968h4V966h2V968h26V967h2V968h40V967h4V966h2V967h2V968h16V967h2V968h30V967h2V968h30V967h2V968h54V967h2V968h6V968Z" fill="#a846c8"/>
<path d="M603 982.9H650.7" stroke="#2e3192" stroke-width="1.6"/>
<rect x="603" y="978.9" width="1.5" height="8" fill="#2e3192"/>
<rect x="615" y="978.6" width="1.3" height="8.5" fill="#2e3192"/>
<rect x="618" y="978.6" width="5" height="8.5" fill="#2e3192"/>
<rect x="626.4" y="978.6" width="1.2" height="8.5" fill="#2e3192"/>
<rect x="629.1" y="978.6" width="4" height="8.5" fill="#2e3192"/>
<rect x="639.1" y="978.6" width="1.4" height="8.5" fill="#2e3192"/>
<rect x="649.3" y="978.6" width="1.2" height="8.5" fill="#2e3192"/>
<rect x="650.2" y="980.4" width="7.5" height="5" fill="#2e3192"/>
<path d="M499.6 1006.1H650.7" stroke="#2e3192" stroke-width="1.6"/>
<rect x="499.6" y="1002.1" width="1.5" height="8" fill="#2e3192"/>
<path d="M515.6 1003.1L518.6 1006.1L515.6 1009.1" fill="none" stroke="#2e3192" stroke-width="1.4"/>
<path d="M535.7 1003.1L538.7 1006.1L535.7 1009.1" fill="none" stroke="#2e3192" stroke-width="1.4"/>
<path d="M555.8 1003.1L558.8 1006.1L555.8 1009.1" fill="none" stroke="#2e3192" stroke-width="1.4"/>
<path d="M575.9 1003.1L578.9 1006.1L575.9 1009.1" fill="none" stroke="#2e3192" stroke-width="1.4"/>
<path d="M596 1003.1L599 1006.1L596 1009.1" fill="none" stroke="#2e3192" stroke-width="1.4"/>
<rect x="615" y="1001.9" width="1.3" height="8.5" fill="#2e3192"/>
<rect x="618" y="1001.9" width="5" height="8.5" fill="#2e3192"/>
<rect x="626.4" y="1001.9" width="1.2" height="8.5" fill="#2e3192"/>
<rect x="629.1" y="1001.9" width="4" height="8.5" fill="#2e3192"/>
<rect x="639.1" y="1001.9" width="1.4" height="8.5" fill="#2e3192"/>
<rect x="649.3" y="1001.9" width="1.2" height="8.5" fill="#2e3192"/>
<rect x="650.2" y="1003.6" width="7.5" height="5" fill="#2e3192"/>
<path d="M1039.4 983H1304" stroke="#2e3192" stroke-width="1.6"/>
<rect x="1039.4" y="980" width="1.2" height="6" fill="#2e3192"/>
<path d="M1046.1 980L1049.1 983L1046.1 986" fill="none" stroke="#2e3192" stroke-width="1.4"/>
<path d="M1066.2 980L1069.2 983L1066.2 986" fill="none" stroke="#2e3192" stroke-width="1.4"/>
<path d="M1086.2 980L1089.2 983L1086.2 986" fill="none" stroke="#2e3192" stroke-width="1.4"/>
<path d="M1106.2 980L1109.2 983L1106.2 986" fill="none" stroke="#2e3192" stroke-width="1.4"/>
<path d="M1126.3 980L1129.3 983L1126.3 986" fill="none" stroke="#2e3192" stroke-width="1.4"/>
<path d="M1146.3 980L1149.3 983L1146.3 986" fill="none" stroke="#2e3192" stroke-width="1.4"/>
<path d="M1166.4 980L1169.4 983L1166.4 986" fill="none" stroke="#2e3192" stroke-width="1.4"/>
<path d="M1186.4 980L1189.4 983L1186.4 986" fill="none" stroke="#2e3192" stroke-width="1.4"/>
<path d="M1206.5 980L1209.5 983L1206.5 986" fill="none" stroke="#2e3192" stroke-width="1.4"/>
<path d="M1226.5 980L1229.5 983L1226.5 986" fill="none" stroke="#2e3192" stroke-width="1.4"/>
<path d="M1246.6 980L1249.6 983L1246.6 986" fill="none" stroke="#2e3192" stroke-width="1.4"/>
<path d="M1266.6 980L1269.6 983L1266.6 986" fill="none" stroke="#2e3192" stroke-width="1.4"/>
<path d="M1286.7 980L1289.7 983L1286.7 986" fill="none" stroke="#2e3192" stroke-width="1.4"/>
<rect x="1133.2" y="980" width="1.2" height="6" fill="#2e3192"/>
<rect x="1295.6" y="980" width="1.2" height="6" fill="#2e3192"/>
<rect x="1304" y="980.4" width="7.6" height="5.3" fill="#2e3192"/>
<path d="M424.6 1070.3L424.6 1068.8L427.6 1068.6L430.6 1068.8L433.6 1068.7L436.6 1068.7L439.6 1068.7L442.6 1068.8L445.6 1068.8L448.6 1068.6L451.6 1068.6L454.6 1068.5L457.6 1068.9L460.6 1068.8L463.6 1068.6L466.6 1068.8L469.6 1068.6L472.6 1068.8L475.6 1068.7L478.6 1068.6L481.6 1068.7L484.6 1068.7L487.6 1068.9L490.6 1068.6L493.6 1068.7L496.6 1068.8L499.6 1068.7L502.6 1068.6L505.6 1068.5L506.6 1068.9L507.6 1068.5L508.6 1068.7L509.6 1068.9L510.6 1068.8L511.6 1068.6L512.6 1068.9L513.6 1068.7L514.6 1067.8L515.6 1066.8L516.6 1065.8L517.6 1059.9L518.6 1052.4L519.6 1050.7L520.6 1056.7L521.6 1064.3L522.6 1066.4L523.6 1067.4L524.6 1068.3L525.6 1068.8L526.6 1068.7L527.6 1068.7L528.6 1068.6L529.6 1068.8L530.6 1068.9L531.6 1068.9L532.6 1068.5L533.6 1068.5L534.6 1068.8L537.6 1068.6L540.6 1068.8L543.6 1068.6L546.6 1068.7L549.6 1068.6L552.6 1068.4L555.6 1068.2L558.6 1068L561.6 1067.8L564.6 1067.7L567.6 1067.7L570.6 1067.5L573.6 1067.6L576.6 1067.9L579.6 1067.8L582.6 1067.9L585.6 1067.7L588.6 1067.7L591.6 1068.2L594.6 1068.1L597.6 1068.2L600.6 1068.3L603.6 1068.5L606.6 1068.8L609.6 1068.6L610.6 1068.7L611.6 1068.7L612.6 1068.7L613.6 1068.8L614.6 1068.7L615.6 1068.9L616.6 1068.8L617.6 1068.6L618.6 1068.6L619.6 1068L620.6 1066.7L621.6 1062.1L622.6 1058.5L623.6 1059.6L624.6 1064.1L625.6 1067.6L626.6 1068.2L627.6 1068.7L628.6 1068.7L629.6 1068.7L630.6 1068.9L631.6 1068.8L632.6 1068.6L633.6 1068.9L634.6 1068.7L635.6 1068.8L636.6 1068.6L637.6 1068.7L638.6 1068.6L641.6 1068.8L644.6 1068.7L647.6 1068.7L650.6 1068.7L653.6 1068.7L656.6 1068.7L659.6 1068.6L662.6 1068.7L665.6 1068.8L668.6 1068.8L671.6 1068.8L674.6 1068.7L677.6 1068.7L680.6 1068.6L683.6 1068.6L686.6 1068.8L689.6 1068.6L692.6 1068.8L695.6 1068.7L698.6 1068.6L701.6 1068.8L704.6 1068.7L707.6 1068.8L710.6 1068.6L711.6 1068.8L712.6 1068.7L713.6 1068.6L714.6 1068.6L715.6 1068.4L716.6 1068.4L717.6 1068.6L718.6 1068.8L719.6 1068.7L720.6 1068.5L721.6 1068.4L722.6 1068.5L723.6 1068.6L726.6 1068.1L729.6 1068L732.6 1067.6L735.6 1067.5L738.6 1067.2L741.6 1067.3L744.6 1067.9L747.6 1068L750.6 1068.4L753.6 1068.5L756.6 1068.3L759.6 1068.2L762.6 1067.9L765.6 1067.9L768.6 1068L771.6 1068.1L774.6 1068.6L777.6 1068.6L780.6 1068.8L783.6 1068.8L786.6 1068.8L789.6 1068.5L790.6 1068.6L791.6 1068.7L792.6 1068.3L793.6 1068.3L794.6 1068.2L795.6 1068L796.6 1068.1L797.6 1067.9L798.6 1067.9L799.6 1068.2L800.6 1068.4L801.6 1068.5L804.6 1068.8L807.6 1068.6L810.6 1068.8L813.6 1068.8L816.6 1068.6L819.6 1068.6L822.6 1068.8L825.6 1068.6L828.6 1068.8L831.6 1068.8L834.6 1068.7L837.6 1068.9L840.6 1068.9L843.6 1068.6L846.6 1068.8L849.6 1068.8L852.6 1068.8L855.6 1068.5L858.6 1068.6L861.6 1068.9L864.6 1068.5L867.6 1068.8L870.6 1068.9L871.6 1068.7L872.6 1068.6L873.6 1068.9L874.6 1068.8L875.6 1068.8L876.6 1068.7L877.6 1068.8L878.6 1068.6L879.6 1068.6L880.6 1068.6L881.6 1068.9L882.6 1068.7L883.6 1068.6L884.6 1068.7L887.6 1068.7L890.6 1068.5L893.6 1068.6L896.6 1068.8L899.6 1068.8L902.6 1068.5L905.6 1068.7L908.6 1068.6L911.6 1068.6L914.6 1068.7L917.6 1068.6L920.6 1068.5L923.6 1068.5L926.6 1068L929.6 1067.2L932.6 1066.8L935.6 1067.7L938.6 1068.1L941.6 1068.4L944.6 1068.5L947.6 1068.6L950.6 1068.5L953.6 1068.8L956.6 1068.5L959.6 1068.5L962.6 1068.6L965.6 1068.9L968.6 1068.8L971.6 1068.8L974.6 1068.7L977.6 1068.7L980.6 1068.6L983.6 1068.7L986.6 1068.7L989.6 1068.8L990.6 1068.6L991.6 1068.7L992.6 1068.7L993.6 1067.5L994.6 1066.4L995.6 1066.6L996.6 1067.8L997.6 1068.5L998.6 1068.7L999.6 1068.8L1000.6 1068.7L1001.6 1068.8L1002.6 1068.8L1003.6 1068.5L1004.6 1068.7L1005.6 1068.2L1006.6 1067.4L1007.6 1067.5L1008.6 1068.5L1009.6 1068.7L1010.6 1068.6L1011.6 1068.6L1012.6 1068.7L1013.6 1068.7L1014.6 1068.5L1017.6 1068.7L1020.6 1068.7L1023.6 1068.9L1024.6 1068.5L1025.6 1068.7L1026.6 1068.6L1027.6 1068.6L1028.6 1068.8L1029.6 1068.9L1030.6 1068.6L1031.6 1068.6L1032.6 1068.7L1033.6 1068.8L1034.6 1068.8L1035.6 1068.8L1036.6 1068.8L1037.6 1068.7L1038.6 1068.7L1039.6 1068.7L1040.6 1068.6L1041.6 1068.2L1042.6 1067.4L1043.6 1067.5L1044.6 1068.5L1045.6 1068.8L1046.6 1068.7L1047.6 1068.7L1048.6 1068.7L1049.6 1068.6L1050.6 1068.8L1051.6 1068.6L1052.6 1068.5L1053.6 1068.8L1054.6 1068.7L1055.6 1068.7L1056.6 1068.7L1057.6 1068.6L1058.6 1068.7L1059.6 1068.3L1060.6 1066.2L1061.6 1064.5L1062.6 1064.7L1063.6 1066.6L1064.6 1068.6L1065.6 1068.7L1066.6 1068.7L1067.6 1068.7L1068.6 1068.8L1069.6 1068.6L1070.6 1068.8L1071.6 1068.6L1072.6 1068.7L1073.6 1068.8L1074.6 1068.7L1075.6 1068.7L1076.6 1068.6L1077.6 1068.7L1080.6 1068.5L1083.6 1068.7L1086.6 1068.4L1089.6 1068.4L1092.6 1068.3L1095.6 1068L1098.6 1067.9L1101.6 1068.2L1104.6 1068.6L1107.6 1068.6L1110.6 1068.8L1113.6 1068.5L1116.6 1068.6L1119.6 1068.6L1122.6 1068.7L1125.6 1068.8L1128.6 1068.6L1131.6 1068.9L1134.6 1068.8L1137.6 1068.7L1140.6 1068.5L1143.6 1068.9L1146.6 1068.6L1149.6 1068.9L1152.6 1068.7L1155.6 1068.9L1158.6 1068.6L1161.6 1068.9L1164.6 1068.6L1167.6 1068.9L1170.6 1068.6L1173.6 1068.9L1176.6 1068.6L1179.6 1068.6L1182.6 1068.6L1185.6 1068.7L1188.6 1068.8L1191.6 1068.7L1194.6 1068.9L1197.6 1068.6L1200.6 1068.7L1203.6 1068.7L1206.6 1068.5L1209.6 1068.5L1212.6 1068.6L1215.6 1068.8L1218.6 1068.8L1221.6 1068.7L1224.6 1068.7L1227.6 1068.7L1230.6 1068.8L1233.6 1068.5L1236.6 1068.5L1239.6 1068.7L1242.6 1068.6L1245.6 1068.7L1248.6 1068.7L1251.6 1068.9L1254.6 1068.6L1257.6 1068.7L1260.6 1068.6L1263.6 1068.6L1266.6 1068.8L1269.6 1068.6L1272.6 1068.7L1275.6 1068.7L1278.6 1068.6L1281.6 1068.8L1284.6 1068.6L1287.6 1068.8L1290.6 1068.9L1293.6 1068.8L1294.6 1068.6L1295.6 1068.6L1296.6 1068.6L1297.6 1068.6L1298.6 1068.7L1299.6 1068.8L1300.6 1068.4L1301.6 1068.6L1302.6 1068.5L1303.6 1068.7L1304.6 1068.6L1305.6 1068.3L1306.6 1068.4L1307.6 1068.7L1310.6 1068.4L1313.6 1068.5L1316.6 1068.9L1319.6 1068.6L1322.6 1068.8L1325.6 1068.7L1328.6 1068.5L1331.6 1068.6L1334.6 1068.7L1337.6 1068.7L1340.6 1068.8L1343.6 1068.4L1346.6 1068.6L1349.6 1068.4L1352.6 1068.3L1355.6 1068.5L1358.6 1068.3L1361.6 1068.4L1364.6 1068.7L1367.6 1068.4L1370.6 1068.7L1373.6 1068.8L1376.6 1068.9L1379.6 1068.8L1382.6 1068.7L1385.6 1068.6L1388.6 1068.5L1391.6 1068.7L1394.6 1068.6L1397.6 1068.7L1400.6 1068.6L1403.6 1068.8L1406.6 1068.5L1409.6 1068.5L1412.6 1068.6L1415.6 1068.5L1418.6 1068.4L1421.6 1068.3L1424.6 1068L1427.6 1068L1430.6 1067.9L1433.6 1068L1436.6 1068.1L1439.6 1068.3L1442.6 1068.5L1445.6 1068.7L1448.6 1068.5L1451.6 1068.6L1454.6 1068.5L1457.6 1068.4L1460.6 1068.3L1463.6 1068.4L1466.6 1068.6L1469.6 1068.3L1472.6 1068.3L1475.6 1068.2L1476.6 1068.1L1477.6 1068.2L1478.6 1068.1L1479.6 1068.1L1480.6 1067.8L1481.6 1068.1L1482.6 1067.8L1483.6 1068L1484.6 1068.1L1485.6 1068L1486.6 1068.1L1487.6 1068.3L1490.6 1068.6L1493.6 1068.6L1496.6 1068.6L1499.6 1068.7L1502.6 1068.9L1505.6 1068.8L1508.6 1068.4L1511.6 1068L1514.6 1068L1517.6 1067.9L1520.6 1068.1L1523.6 1068.5L1526.6 1068.5L1526.6 1070.3Z" fill="#6e9ad8"/>
<path d="M424.6 1097.3L424.6 1095.8L427.6 1095.8L430.6 1095.6L433.6 1095.8L436.6 1095.5L439.6 1095.7L442.6 1095.4L445.6 1095.6L448.6 1095.3L451.6 1095.3L454.6 1095.3L457.6 1095.3L460.6 1095.2L463.6 1095.1L466.6 1095L469.6 1094.8L472.6 1095.1L475.6 1095.2L478.6 1095.2L481.6 1095.5L484.6 1095.6L487.6 1095.7L490.6 1095.6L493.6 1095.8L496.6 1095.5L499.6 1095.7L502.6 1095.6L505.6 1095.7L506.6 1095.7L507.6 1095.5L508.6 1095.5L509.6 1095.6L510.6 1095.9L511.6 1095.7L512.6 1095.5L513.6 1095.6L514.6 1095.7L515.6 1095.6L516.6 1095.4L517.6 1092.9L518.6 1089.7L519.6 1089L520.6 1091.5L521.6 1094.7L522.6 1095.7L523.6 1095.6L524.6 1095.5L525.6 1095.5L526.6 1095.8L527.6 1095.8L528.6 1095.6L529.6 1095.7L530.6 1095.6L531.6 1095.6L532.6 1095.8L533.6 1095.7L534.6 1095.8L537.6 1095.6L540.6 1095.6L543.6 1095.7L546.6 1095.5L549.6 1095.3L552.6 1095.1L555.6 1094.8L558.6 1094.3L561.6 1094.2L564.6 1094L567.6 1094L570.6 1094.4L573.6 1095.1L576.6 1095L579.6 1095L582.6 1094.8L585.6 1094.8L588.6 1094.3L591.6 1094.8L594.6 1095L597.6 1095.6L600.6 1095.7L603.6 1095.8L606.6 1095.6L609.6 1095.8L610.6 1095.6L611.6 1095.7L612.6 1095.8L613.6 1095.6L614.6 1095.7L615.6 1095.9L616.6 1095.6L617.6 1095.8L618.6 1095.9L619.6 1095.6L620.6 1095.1L621.6 1092.9L622.6 1091.4L623.6 1091.8L624.6 1093.8L625.6 1095.6L626.6 1095.7L627.6 1095.7L628.6 1095.6L629.6 1095.8L630.6 1095.8L631.6 1095.7L632.6 1095.6L633.6 1095.6L634.6 1095.6L635.6 1095.7L636.6 1095.6L637.6 1095.9L638.6 1095.7L641.6 1095.9L644.6 1095.6L647.6 1095.5L650.6 1095.6L653.6 1095.6L656.6 1095.8L659.6 1095.6L662.6 1095.9L665.6 1095.8L668.6 1095.8L671.6 1095.6L674.6 1095.8L677.6 1095.8L680.6 1095.9L683.6 1095.6L686.6 1095.8L689.6 1095.5L692.6 1095.8L695.6 1095.6L698.6 1095.8L701.6 1095.5L704.6 1095.5L707.6 1095.5L710.6 1095.6L711.6 1095.5L712.6 1095.5L713.6 1095.5L714.6 1095.8L715.6 1095.6L716.6 1095.6L717.6 1095.8L718.6 1095.8L719.6 1095.5L720.6 1095.7L721.6 1095.7L722.6 1095.5L723.6 1095.7L726.6 1095.8L729.6 1095.6L732.6 1095.7L735.6 1095.8L738.6 1095.6L741.6 1095.5L744.6 1095.8L747.6 1095.6L750.6 1095.6L753.6 1095.7L756.6 1095.8L759.6 1095.6L762.6 1095.8L765.6 1095.8L768.6 1095.6L771.6 1095.8L774.6 1095.8L777.6 1095.5L780.6 1095.4L783.6 1095.7L786.6 1095.7L789.6 1095.7L790.6 1095.6L791.6 1095.9L792.6 1095.6L793.6 1095.4L794.6 1095.4L795.6 1095.7L796.6 1095.5L797.6 1095.7L798.6 1095.6L799.6 1095.9L800.6 1095.8L801.6 1095.8L804.6 1095.8L807.6 1095.8L810.6 1095.7L813.6 1095.9L816.6 1095.7L819.6 1095.5L822.6 1095.6L825.6 1095.7L828.6 1095.5L831.6 1095.6L834.6 1095.6L837.6 1095.7L840.6 1095.7L843.6 1095.3L846.6 1095.3L849.6 1095.4L852.6 1095.6L855.6 1095.5L858.6 1095.5L861.6 1095.4L864.6 1095.4L867.6 1095.6L870.6 1095.2L871.6 1095.3L872.6 1095.3L873.6 1095.3L874.6 1095.4L875.6 1095.4L876.6 1095.2L877.6 1095.2L878.6 1095.4L879.6 1095.1L880.6 1095.1L881.6 1095.1L882.6 1095.3L883.6 1095.4L884.6 1095.4L887.6 1095.5L890.6 1095.3L893.6 1095.3L896.6 1095.2L899.6 1095.2L902.6 1095.1L905.6 1094.9L908.6 1095.1L911.6 1095.2L914.6 1095L917.6 1095.5L920.6 1095.6L923.6 1095.6L926.6 1095.8L929.6 1095.7L932.6 1095.8L935.6 1095.6L938.6 1095.9L941.6 1095.6L944.6 1095.8L947.6 1095.6L950.6 1095.6L953.6 1095.5L956.6 1095.8L959.6 1095.5L962.6 1095.8L965.6 1095.8L968.6 1095.9L971.6 1095.7L974.6 1095.9L977.6 1095.7L980.6 1095.5L983.6 1095.6L986.6 1095.6L989.6 1095.9L990.6 1095.5L991.6 1095.8L992.6 1095.5L993.6 1095.8L994.6 1095.4L995.6 1095.4L996.6 1095.6L997.6 1095.8L998.6 1095.7L999.6 1095.7L1000.6 1095.8L1001.6 1095.8L1002.6 1095.8L1005.6 1095.6L1008.6 1095.5L1011.6 1095.3L1014.6 1095L1017.6 1094.9L1020.6 1094.8L1023.6 1094.7L1026.6 1095L1029.6 1095.1L1032.6 1095.1L1035.6 1095.3L1038.6 1095.3L1041.6 1095.2L1044.6 1095.3L1047.6 1095.3L1048.6 1095.2L1049.6 1095.5L1050.6 1095.4L1051.6 1095.4L1052.6 1095.3L1053.6 1095.3L1054.6 1095.2L1055.6 1095.1L1056.6 1094.8L1057.6 1095L1058.6 1094.8L1059.6 1094.9L1060.6 1093.2L1061.6 1091.5L1062.6 1091.7L1063.6 1093.6L1064.6 1095L1065.6 1095.1L1066.6 1095.2L1067.6 1095.3L1068.6 1095.3L1069.6 1095.3L1070.6 1095.5L1071.6 1095.2L1072.6 1095.7L1073.6 1095.5L1074.6 1095.7L1075.6 1095.6L1076.6 1095.5L1077.6 1095.4L1080.6 1095.7L1083.6 1095.6L1086.6 1095.5L1089.6 1095.8L1092.6 1095.7L1095.6 1095.7L1098.6 1095.5L1101.6 1095.6L1104.6 1095.2L1107.6 1095.2L1110.6 1095.1L1113.6 1095.3L1116.6 1095.8L1119.6 1095.7L1122.6 1095.6L1125.6 1095.7L1128.6 1095.9L1131.6 1095.7L1134.6 1095.7L1137.6 1095.7L1140.6 1095.6L1143.6 1095.2L1146.6 1094.9L1149.6 1095L1152.6 1095.2L1155.6 1095.1L1158.6 1095.3L1161.6 1095.4L1164.6 1095.4L1167.6 1095.8L1170.6 1095.8L1173.6 1095.9L1176.6 1095.6L1179.6 1095.6L1182.6 1095.6L1185.6 1095.7L1188.6 1095.9L1191.6 1095.8L1194.6 1095.7L1197.6 1095.8L1200.6 1095.8L1203.6 1095.7L1206.6 1095.8L1209.6 1095.8L1212.6 1095.6L1215.6 1095.8L1218.6 1095.5L1221.6 1095.4L1224.6 1095.1L1227.6 1095.1L1230.6 1095.2L1233.6 1095.4L1236.6 1095.2L1239.6 1095.3L1242.6 1095.3L1245.6 1095L1248.6 1095.1L1251.6 1095L1254.6 1095L1257.6 1095.4L1260.6 1095.4L1263.6 1095.7L1266.6 1095.6L1269.6 1095.6L1272.6 1095.6L1275.6 1095.8L1278.6 1095.6L1281.6 1095.5L1284.6 1095.5L1287.6 1095.6L1290.6 1095.8L1293.6 1095.6L1294.6 1095.8L1295.6 1095.5L1296.6 1095.9L1297.6 1095.9L1298.6 1095.7L1299.6 1095.8L1300.6 1095.5L1301.6 1095.5L1302.6 1095.8L1303.6 1095.5L1304.6 1095.8L1305.6 1095.6L1306.6 1095.8L1307.6 1095.5L1310.6 1095.7L1313.6 1095.8L1316.6 1095.7L1319.6 1095.9L1322.6 1095.9L1325.6 1095.7L1328.6 1095.7L1331.6 1095.5L1334.6 1095.7L1337.6 1095.7L1340.6 1095.7L1343.6 1095.7L1346.6 1095.1L1349.6 1095L1352.6 1095L1355.6 1094.7L1358.6 1094.6L1361.6 1094.6L1364.6 1094.9L1367.6 1095.2L1370.6 1095.4L1373.6 1095.6L1376.6 1095.8L1379.6 1095.7L1382.6 1095.6L1385.6 1095.5L1388.6 1095.7L1391.6 1095.7L1394.6 1095.8L1397.6 1095.6L1400.6 1095.2L1403.6 1094.8L1406.6 1095L1409.6 1095.1L1412.6 1095.4L1415.6 1095.7L1418.6 1095.6L1421.6 1095.4L1424.6 1095.6L1427.6 1095.2L1430.6 1095.1L1433.6 1094.9L1436.6 1095.2L1439.6 1095.2L1442.6 1095.3L1445.6 1095.6L1448.6 1095.5L1451.6 1095.6L1454.6 1095.5L1457.6 1095.7L1460.6 1095.9L1463.6 1095.7L1466.6 1095.6L1469.6 1095.5L1472.6 1095.6L1475.6 1095.7L1478.6 1095.6L1481.6 1095.6L1484.6 1095.7L1487.6 1095.8L1490.6 1095.9L1493.6 1095.7L1496.6 1095.9L1499.6 1095.7L1502.6 1095.5L1505.6 1095.7L1508.6 1095.6L1511.6 1095.6L1514.6 1095.8L1517.6 1095.7L1520.6 1095.5L1523.6 1095.6L1526.6 1095.8L1526.6 1097.3Z" fill="#6e9ad8"/>
<path d="M424.6 1123.5L424.6 1122L427.6 1121.9L430.6 1121.7L433.6 1121.9L436.6 1122L439.6 1121.7L442.6 1121.8L445.6 1121.9L448.6 1121.8L451.6 1121.7L454.6 1121.5L457.6 1121.4L460.6 1121.6L463.6 1121.9L466.6 1121.8L469.6 1121.6L472.6 1121.9L475.6 1121.7L478.6 1121.8L481.6 1122.1L484.6 1121.8L487.6 1121.8L490.6 1121.9L493.6 1122L496.6 1121.8L499.6 1122.1L502.6 1121.9L505.6 1121.9L506.6 1121.7L507.6 1121.7L508.6 1122L509.6 1121.9L510.6 1122L511.6 1121.7L512.6 1121.7L513.6 1121.9L514.6 1121.2L515.6 1120.3L516.6 1119.4L517.6 1113.9L518.6 1107L519.6 1105.5L520.6 1111L521.6 1118L522.6 1119.9L523.6 1120.9L524.6 1121.2L525.6 1121.1L526.6 1121.1L527.6 1121.2L528.6 1121.3L529.6 1120.9L530.6 1120.9L531.6 1121.2L532.6 1121.1L533.6 1121.3L534.6 1121L537.6 1121.2L540.6 1121.7L543.6 1121.7L546.6 1121.8L549.6 1122L552.6 1121.7L555.6 1121.9L558.6 1122L561.6 1121.9L564.6 1121.8L567.6 1122L570.6 1122L573.6 1121.7L576.6 1121.8L579.6 1121.9L582.6 1121.9L585.6 1122.1L588.6 1122L591.6 1122L594.6 1121.9L597.6 1122L600.6 1122L603.6 1122.1L606.6 1121.8L609.6 1122L610.6 1121.7L611.6 1121.8L612.6 1122.1L613.6 1122L614.6 1121.8L615.6 1122L616.6 1122L617.6 1121.7L618.6 1121.9L619.6 1121.6L620.6 1120.5L621.6 1116.7L622.6 1113.7L623.6 1114.6L624.6 1118.3L625.6 1121.3L626.6 1121.8L627.6 1121.8L628.6 1121.8L629.6 1121.7L630.6 1122.1L631.6 1121.9L632.6 1122L633.6 1121.7L634.6 1122L635.6 1122L636.6 1121.9L637.6 1121.9L638.6 1121.9L641.6 1121.9L644.6 1121.6L647.6 1121.7L650.6 1121.5L653.6 1121.6L656.6 1121.7L659.6 1121.2L662.6 1121.2L665.6 1121L668.6 1120.9L671.6 1120.8L674.6 1121L677.6 1121L680.6 1121.4L683.6 1121.6L686.6 1121.9L689.6 1121.9L692.6 1121.7L695.6 1122L698.6 1121.8L701.6 1121.9L704.6 1121.8L707.6 1121.5L710.6 1121.4L713.6 1121.5L716.6 1121.4L719.6 1121.6L722.6 1121.6L725.6 1121.4L728.6 1121.7L731.6 1121.8L734.6 1121.7L737.6 1122L740.6 1121.8L743.6 1121.9L746.6 1121.8L749.6 1122L752.6 1121.7L755.6 1122.1L758.6 1122L761.6 1121.9L764.6 1121.8L767.6 1122L770.6 1122.1L773.6 1121.7L776.6 1122L779.6 1121.9L782.6 1121.9L785.6 1121.9L788.6 1121.9L791.6 1121.9L794.6 1121.7L797.6 1122L800.6 1121.8L803.6 1122L806.6 1121.9L809.6 1121.8L812.6 1122L815.6 1122L818.6 1121.8L821.6 1122.1L824.6 1121.9L827.6 1121.7L830.6 1121.7L833.6 1122.1L836.6 1122L839.6 1122L842.6 1121.7L845.6 1121.7L848.6 1121.6L851.6 1121.7L854.6 1121.5L857.6 1121L860.6 1120.9L863.6 1121L866.6 1121.1L869.6 1121.5L872.6 1121.9L873.6 1121.7L874.6 1121.9L875.6 1121.4L876.6 1120.6L877.6 1120.7L878.6 1121.7L879.6 1122L880.6 1121.9L881.6 1122L882.6 1121.9L883.6 1121.8L884.6 1122L887.6 1121.8L890.6 1122L893.6 1121.9L896.6 1121.7L899.6 1121.8L902.6 1122.1L905.6 1121.9L908.6 1122L911.6 1122.1L914.6 1121.8L917.6 1121.8L920.6 1122L923.6 1121.8L926.6 1121.9L929.6 1121.9L932.6 1122.1L935.6 1122.1L938.6 1121.7L941.6 1121.7L944.6 1121.9L947.6 1121.8L950.6 1121.9L953.6 1122L956.6 1122L959.6 1122L962.6 1121.7L965.6 1121.8L968.6 1121.8L971.6 1121.7L974.6 1122L977.6 1122L980.6 1122.1L983.6 1121.8L986.6 1121.7L989.6 1121.9L990.6 1121.9L991.6 1122L992.6 1121.7L993.6 1121.4L994.6 1120.6L995.6 1120.7L996.6 1121.7L997.6 1122.1L998.6 1121.8L999.6 1122L1000.6 1121.7L1001.6 1121.8L1002.6 1121.8L1005.6 1121.8L1008.6 1122L1011.6 1121.8L1014.6 1122L1017.6 1121.6L1020.6 1121.6L1023.6 1121.8L1026.6 1121.6L1029.6 1121.7L1032.6 1121.8L1035.6 1121.7L1038.6 1122L1041.6 1122.1L1044.6 1122L1047.6 1122L1048.6 1121.8L1049.6 1121.7L1050.6 1122L1051.6 1121.8L1052.6 1121.9L1053.6 1121.7L1054.6 1121.8L1055.6 1121.6L1056.6 1121.9L1057.6 1121.4L1058.6 1121.6L1059.6 1121.2L1060.6 1119L1061.6 1116.7L1062.6 1117L1063.6 1119.6L1064.6 1121.5L1065.6 1121.5L1066.6 1121.7L1067.6 1121.8L1068.6 1121.8L1069.6 1122L1070.6 1121.8L1071.6 1122.1L1072.6 1121.7L1073.6 1121.9L1074.6 1121.8L1075.6 1121.8L1076.6 1121.8L1077.6 1122L1080.6 1122.1L1083.6 1121.8L1086.6 1122L1089.6 1122L1092.6 1121.8L1095.6 1121.8L1098.6 1122L1101.6 1122L1104.6 1121.9L1107.6 1121.9L1110.6 1122L1113.6 1122L1116.6 1121.9L1119.6 1121.5L1122.6 1121.5L1125.6 1121.4L1128.6 1121.5L1131.6 1121.7L1134.6 1121.5L1137.6 1121.5L1140.6 1121.4L1143.6 1121.5L1146.6 1121.7L1149.6 1121.8L1152.6 1121.9L1155.6 1121.9L1158.6 1122L1161.6 1121.8L1164.6 1121.6L1167.6 1121.5L1170.6 1121.6L1173.6 1121.5L1176.6 1121.1L1179.6 1121L1182.6 1121.2L1185.6 1121.1L1188.6 1121.2L1191.6 1121.3L1194.6 1121.5L1197.6 1121.6L1200.6 1121.9L1203.6 1122L1206.6 1121.9L1209.6 1121.8L1212.6 1122.1L1215.6 1121.9L1218.6 1121.8L1221.6 1122L1224.6 1121.7L1227.6 1121.7L1230.6 1121.8L1233.6 1121.7L1236.6 1122L1239.6 1121.8L1242.6 1121.8L1245.6 1122.1L1248.6 1121.9L1251.6 1122L1254.6 1121.7L1257.6 1121.9L1260.6 1122.1L1263.6 1122L1266.6 1121.8L1269.6 1121.9L1272.6 1121.8L1275.6 1121.8L1278.6 1121.7L1281.6 1121.9L1284.6 1121.7L1287.6 1121.7L1290.6 1121.9L1293.6 1121.8L1296.6 1121.9L1299.6 1121.7L1302.6 1121.8L1305.6 1121.5L1308.6 1121.4L1311.6 1121.3L1314.6 1121.3L1317.6 1121.3L1318.6 1121.2L1319.6 1121.1L1320.6 1121.3L1321.6 1121.3L1322.6 1121.5L1323.6 1121.6L1324.6 1121.6L1325.6 1121.6L1326.6 1121.6L1327.6 1121.5L1328.6 1121.7L1329.6 1121.6L1332.6 1121.4L1335.6 1121.3L1338.6 1121.5L1341.6 1121.3L1344.6 1121.3L1347.6 1121.5L1350.6 1121.7L1353.6 1121.7L1356.6 1121.6L1359.6 1121.8L1362.6 1121.8L1365.6 1121.7L1368.6 1121.8L1371.6 1121.9L1374.6 1122.1L1377.6 1121.9L1380.6 1121.7L1383.6 1121.6L1386.6 1121.5L1389.6 1121.6L1392.6 1121.5L1395.6 1121.6L1398.6 1121.6L1401.6 1121.8L1404.6 1121.9L1407.6 1121.8L1410.6 1122L1413.6 1121.9L1416.6 1121.8L1419.6 1121.9L1422.6 1122L1425.6 1121.9L1428.6 1122L1431.6 1121.9L1434.6 1122.1L1437.6 1121.9L1440.6 1121.9L1443.6 1122.1L1446.6 1121.8L1449.6 1122L1452.6 1121.9L1455.6 1122.1L1458.6 1121.9L1461.6 1122L1464.6 1122L1467.6 1121.8L1470.6 1121.9L1473.6 1121.8L1476.6 1121.6L1479.6 1121.7L1482.6 1121.7L1485.6 1121.9L1488.6 1121.7L1491.6 1121.5L1494.6 1121.6L1497.6 1121.5L1500.6 1121.4L1503.6 1121.5L1506.6 1121.4L1509.6 1121.3L1512.6 1121.4L1515.6 1121.4L1518.6 1121.4L1521.6 1121.5L1524.6 1121.5L1527.6 1121.7L1527.6 1123.5Z" fill="#e0233c"/>
<path d="M424.6 1150L424.6 1148.2L427.6 1148.5L430.6 1148.3L433.6 1148.4L436.6 1148.2L439.6 1148.3L442.6 1148.3L445.6 1148.3L448.6 1148.4L451.6 1148.3L454.6 1148.6L457.6 1148.5L460.6 1148.1L463.6 1148L466.6 1147.6L469.6 1147.8L472.6 1148.2L475.6 1148.2L478.6 1148.2L481.6 1148.4L484.6 1148.4L487.6 1148.5L490.6 1148.5L493.6 1148.3L494.6 1148.3L495.6 1148.2L496.6 1148.3L497.6 1148.2L498.6 1147.9L499.6 1147.1L500.6 1147.2L501.6 1148.2L502.6 1148.2L503.6 1148.5L504.6 1148.4L505.6 1148.6L506.6 1148.6L507.6 1148.3L508.6 1148.3L509.6 1148.3L510.6 1148.1L511.6 1148.1L512.6 1148L513.6 1148L514.6 1147.6L515.6 1146.6L516.6 1145.6L517.6 1139.9L518.6 1132.6L519.6 1130.9L520.6 1136.7L521.6 1144.1L522.6 1146.2L523.6 1147.2L524.6 1147.7L525.6 1147.6L526.6 1147.7L527.6 1147.8L528.6 1147.9L529.6 1147.7L530.6 1147.7L531.6 1147.9L532.6 1148L533.6 1148L534.6 1147.8L537.6 1148.1L540.6 1148.1L543.6 1148.4L546.6 1148.3L549.6 1148.5L552.6 1148.5L555.6 1148.3L558.6 1148.4L561.6 1148.3L564.6 1148.5L567.6 1148.3L570.6 1148.5L573.6 1148.4L576.6 1148.4L579.6 1148.2L582.6 1148.3L585.6 1148.4L588.6 1148.3L591.6 1148.4L594.6 1148.3L597.6 1148.4L600.6 1148.3L603.6 1148.3L606.6 1147.9L609.6 1147.9L610.6 1147.7L611.6 1147.8L612.6 1147.9L613.6 1147.9L614.6 1147.5L615.6 1147.5L616.6 1147.4L617.6 1147.4L618.6 1147.6L619.6 1146.7L620.6 1144.9L621.6 1138.4L622.6 1133.3L623.6 1134.8L624.6 1141.2L625.6 1146.2L626.6 1147.1L627.6 1147.9L628.6 1148L629.6 1148.1L630.6 1148.2L631.6 1148L632.6 1148.2L633.6 1148.2L634.6 1148.1L635.6 1148.2L636.6 1148.3L637.6 1148.4L638.6 1148.2L641.6 1148.5L644.6 1148.4L647.6 1148.4L650.6 1148.2L653.6 1148.5L656.6 1148.4L659.6 1148.4L662.6 1148.6L665.6 1148.5L668.6 1148.2L671.6 1148.3L674.6 1148.5L677.6 1148.5L680.6 1148.2L683.6 1148.4L686.6 1148.3L689.6 1148.2L692.6 1148.5L695.6 1148.4L698.6 1148.2L701.6 1148.5L704.6 1148.5L707.6 1148.2L710.6 1148.3L711.6 1148.4L712.6 1148.5L713.6 1148.3L714.6 1147.2L715.6 1146.1L716.6 1146.3L717.6 1147.5L718.6 1148.3L719.6 1148.4L720.6 1148.4L721.6 1148.4L722.6 1148.4L723.6 1148.4L726.6 1148.3L729.6 1148.6L732.6 1148.3L735.6 1148.4L738.6 1148.3L741.6 1148.5L744.6 1148.3L747.6 1148.5L750.6 1148.3L753.6 1148.3L756.6 1148.4L759.6 1148.4L762.6 1148.2L765.6 1148.5L768.6 1148.6L771.6 1148.5L774.6 1148.6L777.6 1148.2L780.6 1148.3L783.6 1148.5L786.6 1148.3L789.6 1148.5L790.6 1148.3L791.6 1148.4L792.6 1147.2L793.6 1146.1L794.6 1146.3L795.6 1147.5L796.6 1148.2L797.6 1148.4L798.6 1148.5L799.6 1148.3L800.6 1148.6L801.6 1148.6L804.6 1148.5L807.6 1148.6L810.6 1148.2L813.6 1148.3L814.6 1148.3L815.6 1148.3L816.6 1148.5L817.6 1148.5L818.6 1148.3L819.6 1148.1L820.6 1148.1L821.6 1148.4L822.6 1148.2L823.6 1148.3L824.6 1148.2L825.6 1148.1L826.6 1148.2L827.6 1148.2L830.6 1148.1L833.6 1148.3L836.6 1148.2L839.6 1148.1L842.6 1148.3L845.6 1148.5L848.6 1148.2L851.6 1148.5L854.6 1148.6L857.6 1148.4L860.6 1148.3L863.6 1148.6L864.6 1148.4L865.6 1148.4L866.6 1148.6L867.6 1148.3L868.6 1148.5L869.6 1148.3L870.6 1148.4L871.6 1148.4L872.6 1148.5L873.6 1148.3L874.6 1148L875.6 1145.9L876.6 1144.2L877.6 1144.4L878.6 1146.3L879.6 1148.3L880.6 1148.6L881.6 1148.5L882.6 1148.4L883.6 1148.3L884.6 1148.5L885.6 1148.3L886.6 1148.3L887.6 1148.1L888.6 1148.2L889.6 1148.1L890.6 1148.3L891.6 1148.1L892.6 1148.3L895.6 1148.2L898.6 1148.1L901.6 1148.2L904.6 1148L907.6 1148.3L910.6 1148.1L913.6 1148.4L916.6 1148.2L919.6 1148.2L922.6 1147.6L925.6 1147.6L928.6 1147.7L931.6 1147.8L934.6 1147.9L937.6 1147.7L940.6 1147.9L943.6 1148.1L946.6 1148.2L949.6 1148.2L952.6 1148.1L955.6 1148.2L958.6 1148.1L961.6 1147.7L964.6 1147.3L967.6 1147.1L970.6 1147L973.6 1146.9L976.6 1146.7L979.6 1146.9L982.6 1147.2L983.6 1147.3L984.6 1147.5L985.6 1147.4L986.6 1147.5L987.6 1147.8L988.6 1147.2L989.6 1146.1L990.6 1146.3L991.6 1147.5L992.6 1148L993.6 1146.5L994.6 1145.1L995.6 1145.3L996.6 1146.9L997.6 1148.3L998.6 1148.4L999.6 1148.1L1000.6 1148.2L1001.6 1148.3L1002.6 1148.3L1003.6 1148.1L1004.6 1148.5L1005.6 1147.9L1006.6 1147.1L1007.6 1147.2L1008.6 1148.2L1009.6 1148.3L1010.6 1148.4L1011.6 1148.3L1012.6 1148.3L1013.6 1148.2L1014.6 1148.3L1017.6 1148.3L1020.6 1148L1023.6 1147.8L1026.6 1147.8L1029.6 1147.6L1032.6 1148L1035.6 1147.8L1038.6 1148.1L1039.6 1148.5L1040.6 1148.2L1041.6 1147.9L1042.6 1147.1L1043.6 1147.2L1044.6 1148.2L1045.6 1148.5L1046.6 1148.3L1047.6 1148.6L1048.6 1148.3L1049.6 1148.5L1050.6 1148.5L1051.6 1148.4L1052.6 1148.3L1053.6 1147.9L1054.6 1147.1L1055.6 1147.2L1056.6 1148.2L1057.6 1148.1L1058.6 1147.4L1059.6 1146.2L1060.6 1141L1061.6 1136.5L1062.6 1137.1L1063.6 1142.2L1064.6 1146.8L1065.6 1147.5L1066.6 1147.4L1067.6 1147.5L1068.6 1147.4L1069.6 1147.6L1070.6 1147.5L1071.6 1147.6L1072.6 1147.6L1073.6 1147.6L1074.6 1147.6L1075.6 1147.7L1076.6 1147.7L1077.6 1147.7L1080.6 1148L1083.6 1148.1L1086.6 1148.1L1089.6 1148.1L1092.6 1148.4L1095.6 1148.2L1098.6 1148.3L1101.6 1148.6L1104.6 1148.3L1107.6 1148.2L1110.6 1148.2L1113.6 1148.5L1116.6 1148.3L1119.6 1148.3L1122.6 1148.4L1125.6 1148.3L1128.6 1148.4L1131.6 1148.2L1134.6 1148.4L1137.6 1148.5L1140.6 1148.4L1143.6 1148.4L1146.6 1148.4L1149.6 1148.5L1152.6 1148.3L1155.6 1148.5L1158.6 1148.4L1161.6 1148.6L1164.6 1148.5L1167.6 1148.6L1170.6 1148.4L1173.6 1148.5L1176.6 1148.4L1179.6 1148.6L1182.6 1148.2L1185.6 1148.5L1188.6 1148.5L1191.6 1148.2L1194.6 1148.4L1197.6 1148.2L1200.6 1148.1L1203.6 1148.4L1206.6 1148.3L1209.6 1148.1L1212.6 1148.4L1215.6 1148.4L1218.6 1148.3L1221.6 1148L1224.6 1147.8L1227.6 1147.7L1230.6 1147.6L1233.6 1147.2L1236.6 1147.5L1239.6 1147.4L1242.6 1147.5L1245.6 1147.9L1248.6 1147.9L1251.6 1148.3L1254.6 1148.1L1257.6 1148.2L1260.6 1148.3L1263.6 1148.3L1266.6 1148.3L1269.6 1148.2L1270.6 1148.5L1271.6 1148.4L1272.6 1148.2L1273.6 1148.1L1274.6 1148.1L1275.6 1148.3L1276.6 1148.4L1277.6 1148.4L1278.6 1148.3L1279.6 1148.5L1280.6 1148.2L1281.6 1148.3L1284.6 1148.5L1287.6 1148.5L1290.6 1148.4L1293.6 1148.4L1296.6 1148.3L1299.6 1148.3L1302.6 1148.3L1305.6 1148.3L1308.6 1148.3L1309.6 1148.5L1310.6 1148.4L1311.6 1148.2L1312.6 1148.5L1313.6 1148.4L1314.6 1148.5L1315.6 1148.4L1316.6 1148.4L1317.6 1148.3L1318.6 1148.4L1319.6 1148L1320.6 1145.9L1321.6 1144.2L1322.6 1144.4L1323.6 1146.3L1324.6 1148.2L1325.6 1148.3L1326.6 1148.3L1327.6 1148.3L1328.6 1148.4L1329.6 1148.5L1330.6 1148.2L1331.6 1148.5L1332.6 1148.2L1333.6 1148.4L1334.6 1148.3L1335.6 1148.3L1336.6 1148.4L1337.6 1148.1L1340.6 1148.1L1343.6 1148.2L1346.6 1148.2L1349.6 1148L1352.6 1147.9L1355.6 1148.2L1358.6 1148.3L1361.6 1148.2L1364.6 1148.3L1367.6 1148.4L1370.6 1148.3L1373.6 1148.6L1376.6 1148.4L1379.6 1148.3L1382.6 1148.4L1385.6 1148.6L1388.6 1148.4L1391.6 1148.2L1394.6 1148.3L1397.6 1148.4L1400.6 1148.4L1403.6 1148.5L1406.6 1148.3L1409.6 1148L1412.6 1148.2L1415.6 1147.8L1418.6 1147.4L1421.6 1147.3L1424.6 1147.6L1427.6 1148.1L1430.6 1148.5L1433.6 1148.5L1436.6 1148.3L1439.6 1148.5L1442.6 1148.3L1445.6 1148.4L1448.6 1148.4L1451.6 1148.4L1454.6 1148.6L1457.6 1148.6L1460.6 1148.6L1463.6 1148.3L1466.6 1148.3L1469.6 1148.2L1472.6 1148.3L1475.6 1148.5L1478.6 1148.4L1481.6 1148.3L1484.6 1148.5L1487.6 1148.3L1490.6 1148L1493.6 1148L1496.6 1148.1L1499.6 1148L1502.6 1148.4L1505.6 1148.4L1508.6 1148.2L1511.6 1148.5L1514.6 1148.5L1517.6 1148.5L1520.6 1148.5L1523.6 1148.4L1526.6 1148.6L1526.6 1150Z" fill="#e0233c"/>
<path d="M424.6 1177L424.6 1175.3L427.6 1175.3L430.6 1175.5L433.6 1175.3L436.6 1175.3L439.6 1175.5L442.6 1175.2L445.6 1175.5L448.6 1175.6L451.6 1175.4L454.6 1175.2L457.6 1175.3L460.6 1175.3L463.6 1175.3L466.6 1175.2L469.6 1175L472.6 1174.7L475.6 1174.2L478.6 1174L481.6 1174.6L484.6 1174.9L487.6 1174.8L490.6 1175.1L493.6 1175.4L494.6 1175.3L495.6 1175.2L496.6 1175.2L497.6 1175.5L498.6 1174.2L499.6 1173.1L500.6 1173.3L501.6 1174.5L502.6 1175.3L503.6 1175.5L504.6 1175.3L505.6 1175.4L506.6 1175.6L507.6 1175.5L508.6 1175.4L509.6 1175.5L510.6 1175.2L511.6 1175.5L512.6 1175.5L513.6 1175.3L514.6 1174.4L515.6 1173.4L516.6 1172.3L517.6 1166.1L518.6 1158.2L519.6 1156.4L520.6 1162.7L521.6 1170.7L522.6 1172.9L523.6 1174L524.6 1175L525.6 1174.6L526.6 1174.5L527.6 1174.4L528.6 1174.4L529.6 1174.5L530.6 1174.4L531.6 1174.5L532.6 1174.9L533.6 1175L534.6 1175L537.6 1175.3L540.6 1175.3L543.6 1175.2L546.6 1175.3L549.6 1175.2L552.6 1175.1L555.6 1175.2L558.6 1175.2L561.6 1175.4L564.6 1175.5L567.6 1175.2L570.6 1175.3L573.6 1175.3L576.6 1175.3L579.6 1175.5L582.6 1175.4L585.6 1175.5L588.6 1175.3L591.6 1175.3L594.6 1175.5L597.6 1175.1L600.6 1175.4L603.6 1175.5L606.6 1175.4L609.6 1175.2L610.6 1175L611.6 1174.9L612.6 1175.2L613.6 1175L614.6 1174.7L615.6 1174.7L616.6 1174.6L617.6 1174.8L618.6 1174.7L619.6 1174.7L620.6 1173.7L621.6 1169.5L622.6 1166.2L623.6 1167.2L624.6 1171.3L625.6 1174.5L626.6 1174.7L627.6 1174.6L628.6 1174.7L629.6 1174.6L630.6 1174.7L631.6 1174.6L632.6 1174.8L633.6 1174.9L634.6 1174.9L635.6 1174.9L636.6 1175.1L637.6 1175.2L638.6 1175L641.6 1175.3L644.6 1175.3L647.6 1175.5L650.6 1175.6L653.6 1175.5L656.6 1175.4L659.6 1175.6L662.6 1175.5L665.6 1175.2L668.6 1175.4L671.6 1175.6L674.6 1175.3L677.6 1175.5L680.6 1175.5L683.6 1175.3L686.6 1175.3L689.6 1175.5L692.6 1175.3L695.6 1175.2L698.6 1175.5L701.6 1175.4L704.6 1175.6L707.6 1175.4L710.6 1175.5L713.6 1175.3L716.6 1175.3L719.6 1175.5L722.6 1175.3L725.6 1175.2L728.6 1175.5L731.6 1175.3L734.6 1175.4L737.6 1175.2L740.6 1175.6L743.6 1175.4L746.6 1175.5L749.6 1175.5L752.6 1175.2L755.6 1175.4L758.6 1175.5L761.6 1175.2L764.6 1175.6L767.6 1175.6L770.6 1175.3L773.6 1175.3L776.6 1175.2L779.6 1175.3L780.6 1175.2L781.6 1175.4L782.6 1175.4L783.6 1175.2L784.6 1175.3L785.6 1175.5L786.6 1175.5L787.6 1175.5L788.6 1175.2L789.6 1175.3L790.6 1175.5L791.6 1175.1L792.6 1172.5L793.6 1170.2L794.6 1170.5L795.6 1173.1L796.6 1175.3L797.6 1175.4L798.6 1175.2L799.6 1175.3L800.6 1175.3L801.6 1175.2L802.6 1175.2L803.6 1175.4L804.6 1175.5L805.6 1175.4L806.6 1175.2L807.6 1175.5L808.6 1175.5L809.6 1175.5L812.6 1175.5L815.6 1175.3L818.6 1175.4L821.6 1175.6L824.6 1175.4L827.6 1175.2L830.6 1175.4L833.6 1175.2L836.6 1175.1L839.6 1174.7L842.6 1174.7L845.6 1174.8L848.6 1174.7L851.6 1174.8L854.6 1174.8L857.6 1174.9L860.6 1175L863.6 1175.1L864.6 1175.2L865.6 1175L866.6 1174.9L867.6 1174.9L868.6 1174.9L869.6 1175L870.6 1175.1L871.6 1174.8L872.6 1174.8L873.6 1174.8L874.6 1174.7L875.6 1172.5L876.6 1170.2L877.6 1170.5L878.6 1173.1L879.6 1174.7L880.6 1175L881.6 1174.9L882.6 1174.8L883.6 1175L884.6 1175.2L885.6 1174.9L886.6 1175.1L887.6 1175.2L888.6 1175.3L889.6 1175.4L890.6 1175.4L891.6 1175.1L892.6 1175.3L895.6 1175.2L898.6 1175.5L901.6 1175.2L904.6 1175.3L907.6 1175.2L910.6 1175.4L913.6 1175.2L916.6 1175.4L919.6 1175.5L922.6 1175.2L925.6 1175.5L928.6 1175.2L931.6 1175.4L934.6 1175.4L937.6 1175.4L940.6 1175.5L943.6 1175.6L946.6 1175.6L949.6 1175.6L952.6 1175.2L955.6 1175.5L958.6 1175.6L961.6 1175.4L964.6 1175.3L967.6 1175.3L970.6 1175.2L973.6 1175.4L976.6 1175.1L979.6 1175.3L982.6 1175L983.6 1174.8L984.6 1174.7L985.6 1174.7L986.6 1174.5L987.6 1174.5L988.6 1174.7L989.6 1174.5L990.6 1174.4L991.6 1174.5L992.6 1174.5L993.6 1173.5L994.6 1172.1L995.6 1172.3L996.6 1173.9L997.6 1174.7L998.6 1174.9L999.6 1174.9L1000.6 1174.9L1001.6 1175L1002.6 1175.1L1003.6 1175.3L1004.6 1175.2L1005.6 1175.2L1006.6 1175.1L1007.6 1175.4L1008.6 1175.2L1009.6 1175.3L1010.6 1175.2L1013.6 1175.2L1016.6 1175.3L1019.6 1175.1L1022.6 1175.2L1025.6 1175.1L1028.6 1175.5L1031.6 1175.4L1034.6 1175.4L1037.6 1175.5L1040.6 1175.4L1043.6 1175.4L1046.6 1175.5L1049.6 1175.3L1050.6 1175.5L1051.6 1175.3L1052.6 1175.2L1053.6 1175.6L1054.6 1175.2L1055.6 1175.5L1056.6 1175.4L1057.6 1175.6L1058.6 1175.2L1059.6 1174.6L1060.6 1171.2L1061.6 1168.3L1062.6 1168.7L1063.6 1172L1064.6 1174.9L1065.6 1175.4L1066.6 1175.5L1067.6 1175.5L1068.6 1175.6L1069.6 1175.5L1070.6 1175.6L1071.6 1175.2L1072.6 1175.4L1073.6 1175.6L1074.6 1175.1L1075.6 1175.1L1076.6 1175.2L1077.6 1175.6L1078.6 1175.5L1079.6 1175.4L1080.6 1175.3L1081.6 1175.2L1082.6 1175.2L1085.6 1175.5L1088.6 1175.4L1091.6 1175.2L1094.6 1175.2L1097.6 1175.1L1100.6 1175.3L1103.6 1175.2L1106.6 1175L1109.6 1174.7L1112.6 1174.3L1115.6 1174.3L1118.6 1174.8L1121.6 1175.3L1124.6 1175.2L1127.6 1175.5L1130.6 1175.3L1133.6 1175.5L1136.6 1175.4L1139.6 1175.5L1142.6 1175.5L1145.6 1175.5L1148.6 1175.6L1151.6 1175.6L1154.6 1175.3L1157.6 1175.3L1160.6 1175.3L1163.6 1175.4L1166.6 1175.4L1169.6 1175.3L1172.6 1175.2L1175.6 1175.4L1178.6 1175.3L1181.6 1175.3L1184.6 1175.3L1187.6 1175.3L1190.6 1175.5L1193.6 1175.3L1196.6 1175.4L1199.6 1175.3L1202.6 1175.3L1205.6 1175.5L1208.6 1175.6L1211.6 1175.3L1214.6 1175.3L1217.6 1175.6L1220.6 1175.6L1223.6 1175.4L1226.6 1175.3L1229.6 1175.4L1232.6 1175L1235.6 1174.9L1238.6 1174.7L1241.6 1174.9L1244.6 1175.1L1247.6 1175.1L1250.6 1174.8L1253.6 1174.7L1256.6 1174.9L1259.6 1175L1262.6 1174.9L1265.6 1175.3L1268.6 1175.1L1271.6 1175.2L1274.6 1175.3L1277.6 1175.5L1280.6 1175.6L1283.6 1175.3L1286.6 1175.4L1289.6 1175.5L1292.6 1175.4L1295.6 1175.1L1298.6 1174.9L1301.6 1174.9L1304.6 1174.8L1307.6 1175.3L1310.6 1175.4L1313.6 1175.3L1316.6 1175.3L1317.6 1175.3L1318.6 1175.5L1319.6 1175.5L1320.6 1174.2L1321.6 1173.1L1322.6 1173.3L1323.6 1174.5L1324.6 1175.1L1325.6 1174.8L1326.6 1174.6L1327.6 1174.5L1328.6 1174.6L1329.6 1174.3L1332.6 1174.8L1335.6 1175L1338.6 1174.9L1341.6 1174.8L1344.6 1174.6L1347.6 1174.9L1350.6 1175.2L1353.6 1175.2L1356.6 1175.4L1359.6 1175.2L1362.6 1175.3L1365.6 1175.5L1368.6 1175.2L1371.6 1175.3L1374.6 1175.4L1377.6 1175.2L1380.6 1175.6L1383.6 1175.2L1386.6 1175.4L1389.6 1175.4L1392.6 1175.2L1395.6 1175.4L1398.6 1175.4L1401.6 1175.5L1404.6 1175.3L1407.6 1175.3L1410.6 1175.3L1413.6 1175.5L1416.6 1175.3L1419.6 1175.4L1422.6 1175.6L1425.6 1175.5L1428.6 1175.5L1431.6 1175.5L1434.6 1175.4L1437.6 1175.3L1440.6 1175.3L1443.6 1175.2L1446.6 1175.2L1449.6 1175.4L1452.6 1175.3L1455.6 1175.2L1458.6 1175.4L1461.6 1175.3L1464.6 1175.4L1467.6 1175.3L1470.6 1175.3L1473.6 1175.2L1476.6 1175.4L1479.6 1175.6L1482.6 1175.6L1485.6 1175.3L1488.6 1175.4L1491.6 1175.3L1494.6 1175.5L1497.6 1175.3L1500.6 1175.2L1503.6 1175.4L1506.6 1175.6L1509.6 1175.3L1512.6 1175.5L1515.6 1175.2L1518.6 1175L1521.6 1175.1L1524.6 1174.9L1527.6 1175.3L1527.6 1177Z" fill="#9cc81e"/>
<path d="M424.6 1203.5L424.6 1201.8L427.6 1202.1L430.6 1201.9L433.6 1201.8L436.6 1201.7L439.6 1202.1L442.6 1202L445.6 1201.9L448.6 1201.9L451.6 1202.1L454.6 1201.8L457.6 1201.8L460.6 1201.9L463.6 1201.7L466.6 1201.9L469.6 1201.7L472.6 1201.8L475.6 1201.7L478.6 1201.6L481.6 1201.3L484.6 1201L487.6 1201.2L490.6 1200.9L493.6 1200.8L496.6 1200.9L499.6 1201.2L500.6 1201.2L501.6 1201L502.6 1201.3L503.6 1201L504.6 1200.6L505.6 1200.7L506.6 1201.2L507.6 1201.2L508.6 1201.3L509.6 1201.2L510.6 1201.4L511.6 1201.3L512.6 1201.4L513.6 1201.4L514.6 1201.5L515.6 1200.8L516.6 1200L517.6 1195.3L518.6 1189.4L519.6 1188L520.6 1192.7L521.6 1198.7L522.6 1200.4L523.6 1200.9L524.6 1200.9L525.6 1200.9L526.6 1201.1L527.6 1201.3L528.6 1201.1L529.6 1201L530.6 1201.3L531.6 1201.1L532.6 1201.2L533.6 1201.3L534.6 1201.1L537.6 1201.4L540.6 1201.4L543.6 1201.4L546.6 1201.8L549.6 1201.7L552.6 1201.9L555.6 1201.9L558.6 1201.8L561.6 1201.5L564.6 1201.4L567.6 1201.3L570.6 1201L573.6 1201.1L576.6 1201.1L579.6 1201.4L582.6 1201.4L585.6 1201.5L588.6 1201.7L591.6 1201.7L594.6 1201.7L597.6 1201.8L600.6 1201.7L603.6 1201.8L606.6 1202L609.6 1201.8L610.6 1201.8L611.6 1201.8L612.6 1202L613.6 1201.9L614.6 1202L615.6 1201.9L616.6 1201.7L617.6 1201.9L618.6 1202.1L619.6 1202.1L620.6 1201.3L621.6 1199.1L622.6 1197.6L623.6 1198L624.6 1200L625.6 1201.9L626.6 1201.8L627.6 1201.9L628.6 1202L629.6 1201.8L630.6 1201.8L631.6 1201.7L632.6 1202L633.6 1201.9L634.6 1202L635.6 1202L636.6 1201.7L637.6 1201.8L638.6 1201.9L641.6 1201.7L644.6 1201.5L647.6 1201.5L650.6 1201.5L653.6 1201L656.6 1201.1L659.6 1201.1L662.6 1201.3L665.6 1201.4L668.6 1201.4L671.6 1201.6L674.6 1202L677.6 1202L680.6 1201.7L683.6 1201.9L686.6 1201.8L689.6 1201.8L692.6 1201.9L695.6 1201.9L698.6 1201.8L701.6 1201.9L704.6 1202.1L707.6 1202.1L710.6 1201.8L713.6 1201.9L716.6 1201.8L719.6 1201.7L722.6 1201.4L725.6 1201.5L728.6 1201.7L731.6 1201.8L734.6 1201.8L737.6 1201.5L740.6 1201.4L743.6 1201.5L746.6 1201.9L749.6 1201.6L752.6 1201.8L755.6 1201.8L758.6 1201.7L761.6 1201.8L764.6 1201.9L767.6 1201.9L770.6 1201.8L773.6 1201.8L776.6 1201.7L779.6 1201.5L780.6 1201.5L781.6 1201.2L782.6 1201.2L783.6 1200.9L784.6 1200.9L785.6 1201.1L786.6 1201.1L787.6 1200.8L788.6 1200.8L789.6 1201L790.6 1200.9L791.6 1200.8L792.6 1200L793.6 1198.6L794.6 1198.8L795.6 1200.4L796.6 1201.3L797.6 1201.2L798.6 1201.6L799.6 1201.7L800.6 1201.8L801.6 1201.5L802.6 1201.8L803.6 1201.9L804.6 1201.9L805.6 1202L806.6 1201.7L807.6 1201.6L808.6 1201.7L809.6 1201.7L812.6 1201.4L815.6 1201.4L818.6 1201.9L821.6 1201.8L824.6 1201.6L827.6 1201.7L830.6 1201.5L833.6 1201.6L836.6 1201.7L839.6 1201.5L842.6 1201.5L845.6 1201.2L848.6 1201.3L851.6 1201.1L854.6 1201L857.6 1201.3L860.6 1201.4L863.6 1201.5L864.6 1201.6L865.6 1201.8L866.6 1201.8L867.6 1201.6L868.6 1201.9L869.6 1201.6L870.6 1202L871.6 1201.9L872.6 1202L873.6 1201.9L874.6 1201.5L875.6 1199.4L876.6 1197.7L877.6 1197.9L878.6 1199.8L879.6 1201L880.6 1201.1L881.6 1201.2L882.6 1201L883.6 1201.1L884.6 1201.3L885.6 1201.4L886.6 1201.6L887.6 1201.7L888.6 1201.6L889.6 1201.8L890.6 1201.8L891.6 1201.9L892.6 1202L895.6 1201.9L898.6 1202L901.6 1201.9L904.6 1202L907.6 1202L910.6 1201.8L913.6 1202L916.6 1201.8L919.6 1201.7L922.6 1201.7L925.6 1201.7L928.6 1201.8L931.6 1201.8L934.6 1202.1L937.6 1201.8L940.6 1201.9L943.6 1202L946.6 1201.8L949.6 1201.8L952.6 1201.8L955.6 1202L958.6 1201.9L961.6 1201.8L964.6 1201.7L967.6 1201.8L970.6 1201.5L973.6 1201.3L976.6 1201.4L979.6 1201.2L982.6 1201.6L985.6 1201.8L988.6 1201.6L989.6 1201.4L990.6 1201.6L991.6 1201.6L992.6 1201.3L993.6 1201.4L994.6 1200.6L995.6 1200.7L996.6 1201.2L997.6 1201.3L998.6 1201.1L999.6 1201.4L1000.6 1201.3L1001.6 1201.4L1002.6 1201.3L1005.6 1201.7L1008.6 1202L1011.6 1201.9L1014.6 1201.9L1017.6 1201.8L1020.6 1201.8L1023.6 1201.7L1026.6 1202L1029.6 1201.8L1032.6 1201.8L1035.6 1201.7L1038.6 1201.8L1041.6 1201.8L1044.6 1201.9L1047.6 1201.7L1048.6 1201.8L1049.6 1201.9L1050.6 1201.7L1051.6 1201.7L1052.6 1201.7L1053.6 1201.7L1054.6 1201.7L1055.6 1201.9L1056.6 1201.9L1057.6 1201.7L1058.6 1202.1L1059.6 1201.6L1060.6 1199L1061.6 1196.7L1062.6 1197L1063.6 1199.6L1064.6 1201.8L1065.6 1201.7L1066.6 1201.8L1067.6 1201.8L1068.6 1202L1069.6 1201.9L1070.6 1201.9L1071.6 1201.7L1072.6 1202L1073.6 1201.8L1074.6 1201.8L1075.6 1202L1076.6 1201.7L1077.6 1201.7L1080.6 1202L1083.6 1202L1086.6 1201.8L1089.6 1202L1092.6 1202L1095.6 1202L1098.6 1201.8L1101.6 1201.9L1104.6 1202L1107.6 1201.7L1110.6 1201.8L1113.6 1201.8L1116.6 1202L1119.6 1201.8L1122.6 1201.9L1125.6 1201.7L1128.6 1202.1L1131.6 1202.1L1134.6 1201.9L1137.6 1201.9L1140.6 1201.8L1143.6 1201.4L1146.6 1201.3L1149.6 1201.1L1152.6 1201.2L1155.6 1201L1158.6 1201.1L1161.6 1201.5L1164.6 1201.7L1167.6 1201.7L1170.6 1201.9L1173.6 1201.7L1176.6 1201.9L1179.6 1201.9L1182.6 1201.9L1185.6 1202L1188.6 1202L1191.6 1202L1194.6 1202.1L1197.6 1202L1200.6 1201.9L1203.6 1201.9L1206.6 1201.9L1209.6 1201.9L1212.6 1201.9L1215.6 1201.7L1218.6 1201.9L1221.6 1201.8L1224.6 1202L1227.6 1201.8L1230.6 1201.9L1233.6 1201.7L1236.6 1201.7L1239.6 1202L1242.6 1201.7L1245.6 1201.8L1248.6 1201.7L1251.6 1202.1L1254.6 1201.7L1257.6 1201.8L1260.6 1201.8L1263.6 1202L1266.6 1202L1269.6 1201.8L1272.6 1201.9L1275.6 1201.5L1278.6 1200.9L1281.6 1201.1L1284.6 1201.3L1287.6 1201.6L1290.6 1201.8L1293.6 1201.8L1296.6 1202.1L1299.6 1201.8L1302.6 1201.7L1305.6 1201.9L1308.6 1201.6L1311.6 1201.7L1314.6 1201.3L1317.6 1201.4L1318.6 1201.1L1319.6 1201.2L1320.6 1201.4L1321.6 1200.6L1322.6 1200.7L1323.6 1201.5L1324.6 1201.4L1325.6 1201.7L1326.6 1201.4L1327.6 1201.5L1328.6 1201.6L1329.6 1201.8L1332.6 1202L1335.6 1201.8L1338.6 1201.8L1341.6 1201.7L1344.6 1201.8L1347.6 1201.8L1350.6 1201.9L1353.6 1202L1356.6 1201.8L1359.6 1201.6L1362.6 1201.7L1365.6 1201.7L1368.6 1201.3L1371.6 1201.1L1374.6 1201.3L1377.6 1201.3L1380.6 1201.7L1383.6 1201.7L1386.6 1201.8L1389.6 1201.8L1392.6 1201.8L1395.6 1201.6L1398.6 1201.3L1401.6 1201.4L1404.6 1201.6L1407.6 1201.9L1410.6 1202L1413.6 1201.8L1416.6 1202L1419.6 1201.7L1422.6 1202.1L1425.6 1201.9L1428.6 1201.7L1431.6 1202.1L1434.6 1201.7L1437.6 1201.8L1440.6 1201.7L1443.6 1201.9L1446.6 1201.7L1449.6 1201.7L1452.6 1202.1L1455.6 1202L1458.6 1201.8L1461.6 1201.8L1464.6 1201.9L1467.6 1201.7L1470.6 1201.9L1473.6 1202L1476.6 1201.8L1479.6 1202L1482.6 1202L1485.6 1202L1488.6 1202L1491.6 1202L1494.6 1201.8L1497.6 1201.9L1500.6 1202.1L1503.6 1201.7L1506.6 1202L1509.6 1202L1512.6 1201.9L1515.6 1202L1518.6 1201.7L1521.6 1201.8L1524.6 1201.7L1527.6 1201.9L1527.6 1203.5Z" fill="#9cc81e"/>
<path d="M424.6 1230.2L424.6 1228.6L427.6 1228.7L430.6 1228.7L433.6 1228.8L436.6 1228.8L439.6 1228.4L442.6 1228.6L445.6 1228.7L448.6 1228.5L451.6 1228.5L454.6 1228.4L457.6 1228.4L460.6 1228.8L463.6 1228.7L466.6 1228.6L469.6 1228.7L472.6 1228.6L475.6 1228.7L478.6 1228.4L481.6 1228.6L484.6 1228.3L487.6 1228.2L490.6 1228.1L493.6 1228L496.6 1227.9L499.6 1227.6L502.6 1227.7L505.6 1228L506.6 1228.2L507.6 1228L508.6 1228.2L509.6 1228.2L510.6 1228L511.6 1228.1L512.6 1228.1L513.6 1228.5L514.6 1228.2L515.6 1228.2L516.6 1227.7L517.6 1224.4L518.6 1220.2L519.6 1219.2L520.6 1222.6L521.6 1226.8L522.6 1227.7L523.6 1227.7L524.6 1227.9L525.6 1227.8L526.6 1227.6L527.6 1227.6L528.6 1227.6L529.6 1227.9L530.6 1227.7L531.6 1228L532.6 1228L533.6 1228.2L534.6 1228.1L537.6 1228.5L540.6 1228.5L543.6 1228.7L546.6 1228.7L549.6 1228.7L552.6 1228.7L555.6 1228.7L558.6 1228.4L561.6 1228.6L564.6 1228.5L567.6 1228.5L570.6 1228.4L573.6 1228.6L576.6 1228.6L579.6 1228.7L582.6 1228.7L585.6 1228.4L588.6 1228.6L591.6 1228.4L594.6 1228.1L597.6 1228.1L600.6 1228.5L603.6 1228.4L606.6 1228.5L609.6 1228.4L612.6 1228.6L615.6 1228.6L618.6 1228.4L619.6 1228.3L620.6 1228.6L621.6 1227.3L622.6 1226.3L623.6 1226.6L624.6 1227.9L625.6 1228.5L626.6 1228.3L627.6 1228.4L628.6 1228.3L629.6 1228.4L630.6 1228.3L633.6 1228.3L636.6 1228.3L639.6 1228.5L642.6 1228.6L645.6 1228.6L648.6 1228.5L651.6 1228.5L654.6 1228.6L657.6 1228.3L660.6 1228.5L663.6 1228.6L666.6 1228.4L669.6 1228.1L672.6 1228L675.6 1228.1L678.6 1228.3L681.6 1228.3L684.6 1228.2L687.6 1228.6L690.6 1228.7L693.6 1228.6L696.6 1228.8L699.6 1228.4L702.6 1228.5L705.6 1228.7L708.6 1228.5L711.6 1228.4L714.6 1228.5L717.6 1228.5L720.6 1228.7L723.6 1228.6L726.6 1228.5L729.6 1228.6L732.6 1228.4L735.6 1228.6L738.6 1228.5L741.6 1228.6L744.6 1228.4L747.6 1228.7L750.6 1228.5L753.6 1228.5L756.6 1228.5L759.6 1228.8L762.6 1228.4L765.6 1228.7L768.6 1228.8L771.6 1228.5L774.6 1228.7L777.6 1228.8L780.6 1228.5L783.6 1228.4L786.6 1228.7L789.6 1228.7L790.6 1228.5L791.6 1228.5L792.6 1228.7L793.6 1228.3L794.6 1228.3L795.6 1228.7L796.6 1228.8L797.6 1228.5L798.6 1228.6L799.6 1228.6L800.6 1228.7L801.6 1228.6L804.6 1228.5L807.6 1228.4L810.6 1228.5L813.6 1228.6L816.6 1228.5L819.6 1228.7L822.6 1228.5L825.6 1228.6L828.6 1228.4L831.6 1228.6L834.6 1228.7L837.6 1228.5L840.6 1228.7L843.6 1228.5L846.6 1228.5L849.6 1228.4L852.6 1228.8L855.6 1228.7L858.6 1228.8L861.6 1228.8L864.6 1228.6L867.6 1228.6L870.6 1228.8L871.6 1228.5L872.6 1228.7L873.6 1228.7L874.6 1228.5L875.6 1228.6L876.6 1228.7L877.6 1228.4L878.6 1228.6L879.6 1228.7L880.6 1228.6L881.6 1228.4L882.6 1228.7L883.6 1228.5L884.6 1228.4L887.6 1228.5L890.6 1228.8L893.6 1228.5L896.6 1228.6L899.6 1228.7L902.6 1228.5L905.6 1228.4L908.6 1228.5L911.6 1228.4L914.6 1228.7L917.6 1228.4L920.6 1228.5L923.6 1228.7L926.6 1228.6L929.6 1228.5L932.6 1228.5L935.6 1228.5L938.6 1228.5L941.6 1228.1L944.6 1227.7L947.6 1227.9L950.6 1228.5L953.6 1228.7L956.6 1228.6L959.6 1228.6L962.6 1228.4L965.6 1228.4L968.6 1228.6L971.6 1228.7L974.6 1228.5L977.6 1228.6L980.6 1228.7L983.6 1228.6L986.6 1228.5L989.6 1228.5L990.6 1228.4L991.6 1228.2L992.6 1228.1L993.6 1228.2L994.6 1228.3L995.6 1228L996.6 1228L997.6 1228L998.6 1228L999.6 1227.7L1000.6 1228L1001.6 1227.7L1002.6 1227.7L1005.6 1227.4L1008.6 1227.8L1011.6 1227.6L1014.6 1228L1017.6 1228.1L1020.6 1228.1L1023.6 1228.3L1026.6 1228.5L1029.6 1228.5L1032.6 1228.4L1035.6 1228.5L1038.6 1228.1L1041.6 1228.2L1044.6 1228.2L1047.6 1227.9L1050.6 1227.8L1053.6 1227.8L1056.6 1227.3L1057.6 1227.4L1058.6 1227.5L1059.6 1227.3L1060.6 1227.6L1061.6 1227.3L1062.6 1227.4L1063.6 1228.1L1064.6 1228.2L1065.6 1228.1L1066.6 1227.7L1067.6 1227.9L1068.6 1227.6L1069.6 1227.7L1072.6 1228.3L1075.6 1228.5L1078.6 1228.8L1081.6 1228.5L1084.6 1228.6L1087.6 1228.4L1090.6 1228.4L1093.6 1227.9L1096.6 1227.8L1099.6 1228L1102.6 1227.8L1105.6 1228L1108.6 1228.4L1111.6 1228.5L1114.6 1228.5L1117.6 1228.4L1120.6 1228.7L1123.6 1228.5L1126.6 1228.6L1129.6 1228.7L1132.6 1228.6L1135.6 1228.6L1138.6 1228.3L1141.6 1228.3L1144.6 1228.6L1147.6 1228.3L1150.6 1228.4L1153.6 1228.5L1156.6 1228.5L1159.6 1228.5L1162.6 1228.4L1165.6 1228.6L1168.6 1228.4L1171.6 1228.4L1174.6 1228.4L1177.6 1228.7L1180.6 1228.4L1183.6 1228.6L1186.6 1228.6L1189.6 1228.4L1192.6 1228.7L1195.6 1228.6L1198.6 1228.7L1201.6 1228.4L1204.6 1228.4L1207.6 1228.4L1210.6 1228.4L1213.6 1228.4L1216.6 1228.5L1219.6 1228.5L1222.6 1228.5L1225.6 1228.4L1228.6 1228.8L1231.6 1228.6L1234.6 1228.7L1237.6 1228.7L1240.6 1228.5L1243.6 1228.5L1246.6 1228.5L1249.6 1228L1252.6 1228.3L1255.6 1228.5L1258.6 1228.4L1261.6 1228.5L1264.6 1228.6L1267.6 1228.4L1270.6 1228.4L1273.6 1228.3L1276.6 1228.2L1279.6 1228L1282.6 1227.7L1285.6 1227.7L1288.6 1227.7L1291.6 1227.8L1294.6 1227.9L1297.6 1228.4L1300.6 1228.3L1303.6 1228.3L1306.6 1228.5L1309.6 1228.8L1312.6 1228.4L1315.6 1228.7L1318.6 1228.5L1321.6 1228.8L1324.6 1228.6L1327.6 1228.4L1330.6 1228.6L1333.6 1228.7L1336.6 1228.5L1339.6 1228.5L1342.6 1228.4L1345.6 1228.6L1348.6 1228.3L1351.6 1228.4L1354.6 1228.6L1357.6 1228.6L1360.6 1228.7L1363.6 1228.4L1366.6 1228.5L1369.6 1228.3L1372.6 1228.1L1375.6 1228.3L1378.6 1228.5L1381.6 1228.6L1384.6 1228.6L1387.6 1228.5L1390.6 1228.5L1393.6 1228.5L1396.6 1228.2L1399.6 1228.3L1402.6 1228.3L1405.6 1228.1L1408.6 1228.3L1411.6 1228.3L1414.6 1228.2L1417.6 1228.6L1420.6 1228.4L1423.6 1228.5L1426.6 1228.6L1429.6 1228.7L1432.6 1228.5L1435.6 1228.6L1438.6 1228.4L1441.6 1228.5L1444.6 1228.8L1447.6 1228.5L1450.6 1228.6L1453.6 1228.6L1456.6 1228.8L1459.6 1228.7L1462.6 1228.8L1465.6 1228.8L1468.6 1228.5L1471.6 1228.7L1474.6 1228.7L1477.6 1228.5L1480.6 1228.7L1483.6 1228.4L1486.6 1228.8L1489.6 1228.8L1492.6 1228.5L1495.6 1228.6L1498.6 1228.6L1501.6 1228.7L1504.6 1228.4L1507.6 1228.6L1510.6 1228.8L1513.6 1228.5L1516.6 1228.5L1519.6 1228.4L1522.6 1228.4L1525.6 1228.4L1525.6 1230.2Z" fill="#c650c8"/>
<path d="M424.6 1256.7L424.6 1255L427.6 1255L430.6 1255.2L433.6 1255.3L436.6 1255.2L439.6 1255.2L442.6 1254.9L445.6 1254.8L448.6 1254.8L451.6 1254.9L454.6 1254.3L457.6 1254.4L460.6 1254.1L463.6 1253.7L466.6 1253.8L469.6 1253.9L472.6 1254.4L475.6 1254.9L478.6 1255L481.6 1255.2L484.6 1255.2L487.6 1255.3L490.6 1255.2L493.6 1255.1L494.6 1255.1L495.6 1255L496.6 1255L497.6 1255.1L498.6 1254.6L499.6 1253.8L500.6 1253.9L501.6 1254.9L502.6 1254.9L503.6 1255.2L504.6 1255L505.6 1254.9L506.6 1255.2L507.6 1255.3L508.6 1255.2L509.6 1255.3L510.6 1255.3L511.6 1255.1L512.6 1255.2L513.6 1254.9L514.6 1254.1L515.6 1253.1L516.6 1252.1L517.6 1246L518.6 1238.2L519.6 1236.4L520.6 1242.6L521.6 1250.5L522.6 1252.7L523.6 1253.7L524.6 1254.7L525.6 1255.1L526.6 1254.8L527.6 1255L528.6 1255.1L529.6 1254.7L530.6 1255.1L531.6 1254.9L532.6 1254.8L533.6 1254.7L534.6 1254.9L537.6 1254.8L540.6 1254.7L543.6 1255.1L546.6 1254.8L549.6 1254.9L552.6 1255L555.6 1255.2L558.6 1255.2L561.6 1255L564.6 1255.2L567.6 1255.3L570.6 1255.3L573.6 1255.1L576.6 1255.1L579.6 1255.2L582.6 1255.1L585.6 1255L588.6 1254.9L591.6 1254.9L594.6 1255.2L597.6 1255L600.6 1255.3L603.6 1255.2L606.6 1255.1L609.6 1255.3L610.6 1255L611.6 1254.9L612.6 1255L613.6 1255.1L614.6 1255.1L615.6 1255L616.6 1255.1L617.6 1255.1L618.6 1254.8L619.6 1254.2L620.6 1252.8L621.6 1247.8L622.6 1244L623.6 1245.1L624.6 1249.9L625.6 1253.8L626.6 1254.4L627.6 1255.1L628.6 1255.3L629.6 1254.9L630.6 1255L631.6 1255L632.6 1255.2L633.6 1254.6L634.6 1253.8L635.6 1253.9L636.6 1254.9L637.6 1255.2L638.6 1255.2L639.6 1255.2L640.6 1255L641.6 1255L642.6 1254.9L645.6 1255.1L648.6 1255L651.6 1255.2L654.6 1255L657.6 1255.2L660.6 1255.1L663.6 1255.3L666.6 1254.9L669.6 1255L672.6 1254.8L675.6 1254.6L678.6 1254.7L681.6 1254.5L684.6 1254.1L687.6 1254.3L690.6 1254.3L693.6 1254.1L696.6 1254.4L699.6 1254.4L702.6 1254.5L705.6 1254.4L708.6 1254L711.6 1253.7L712.6 1253.6L713.6 1253.5L714.6 1253.6L715.6 1253.6L716.6 1253.6L717.6 1253.7L718.6 1253.7L719.6 1253.8L720.6 1254L721.6 1254.2L722.6 1254.1L723.6 1254.4L726.6 1254.7L729.6 1254.8L732.6 1254.9L735.6 1254.8L738.6 1254.4L741.6 1254.5L744.6 1254.7L747.6 1255L750.6 1255.1L753.6 1255.1L756.6 1255L759.6 1255L762.6 1255L765.6 1255.1L768.6 1255.3L771.6 1255L774.6 1255.1L777.6 1254.9L780.6 1255.3L783.6 1255.1L786.6 1254.9L789.6 1255.1L790.6 1255.1L791.6 1254.9L792.6 1253.9L793.6 1252.8L794.6 1253L795.6 1254.2L796.6 1254.9L797.6 1254.7L798.6 1254.9L799.6 1254.6L800.6 1254.6L801.6 1254.5L804.6 1254.6L807.6 1254.4L810.6 1254.3L813.6 1254.6L816.6 1254.9L819.6 1254.8L822.6 1255.1L825.6 1255.2L828.6 1255L831.6 1255.1L834.6 1255L837.6 1255L840.6 1255L843.6 1254.7L846.6 1254.4L849.6 1254.8L852.6 1254.7L855.6 1255L858.6 1255.2L861.6 1255L864.6 1255.3L865.6 1255L866.6 1255.1L867.6 1255L868.6 1255.1L869.6 1255L870.6 1255.3L871.6 1255.3L872.6 1255.1L873.6 1255.2L874.6 1254.8L875.6 1252.2L876.6 1249.9L877.6 1250.2L878.6 1252.8L879.6 1255.1L880.6 1255.1L881.6 1255.2L882.6 1254.9L883.6 1255.2L884.6 1255L885.6 1255L886.6 1255.2L887.6 1255.3L888.6 1255.2L889.6 1255.3L890.6 1255L891.6 1255.2L892.6 1255.2L895.6 1254.9L898.6 1255L901.6 1255L904.6 1255L907.6 1254.9L910.6 1255.1L913.6 1255.1L916.6 1255L919.6 1255L922.6 1255.2L925.6 1255.1L928.6 1255.1L931.6 1255.1L934.6 1255L937.6 1254.9L940.6 1255L943.6 1254.5L946.6 1254.6L949.6 1254L952.6 1253.7L955.6 1253.7L958.6 1253.6L961.6 1253.8L964.6 1253.9L967.6 1254L970.6 1254.6L973.6 1254.4L976.6 1254.7L979.6 1254.7L982.6 1254.8L983.6 1254.9L984.6 1254.7L985.6 1254.8L986.6 1254.6L987.6 1254.8L988.6 1254.4L989.6 1254.6L990.6 1254.6L991.6 1254.3L992.6 1254.1L993.6 1253.2L994.6 1251.8L995.6 1252L996.6 1253.6L997.6 1254L998.6 1254.3L999.6 1254.2L1000.6 1254.1L1001.6 1254.5L1002.6 1254.5L1003.6 1254.6L1004.6 1254.7L1005.6 1254.4L1006.6 1253.8L1007.6 1253.9L1008.6 1254.7L1009.6 1254.7L1010.6 1254.7L1011.6 1254.9L1012.6 1254.8L1013.6 1254.9L1014.6 1255L1017.6 1255L1020.6 1254.8L1023.6 1254.5L1026.6 1254.3L1029.6 1254L1032.6 1254.1L1035.6 1254.4L1038.6 1254.5L1039.6 1254.6L1040.6 1254.6L1041.6 1254.6L1042.6 1253.8L1043.6 1253.9L1044.6 1254.6L1045.6 1254.4L1046.6 1254.5L1047.6 1254.5L1048.6 1254.7L1049.6 1254.8L1050.6 1254.7L1051.6 1254.6L1052.6 1255L1053.6 1254.9L1054.6 1255.1L1055.6 1255.1L1056.6 1255.1L1057.6 1255L1058.6 1254.6L1059.6 1253.7L1060.6 1249.6L1061.6 1246.1L1062.6 1246.6L1063.6 1250.5L1064.6 1254.2L1065.6 1254.7L1066.6 1254.9L1067.6 1255.1L1068.6 1254.9L1069.6 1255L1070.6 1255L1071.6 1255.1L1072.6 1254.9L1073.6 1255L1074.6 1254.8L1075.6 1255.1L1076.6 1255L1077.6 1255L1080.6 1254.8L1083.6 1254.5L1086.6 1254.4L1089.6 1254.1L1092.6 1254.2L1095.6 1254.1L1098.6 1254.7L1101.6 1254.7L1104.6 1255L1107.6 1255.2L1110.6 1255.2L1113.6 1255L1116.6 1255L1119.6 1255.1L1122.6 1255L1125.6 1254.7L1128.6 1254.8L1131.6 1254.5L1134.6 1254.6L1137.6 1254.1L1140.6 1254.2L1143.6 1254.2L1146.6 1254.4L1149.6 1254.7L1152.6 1254.6L1155.6 1254.7L1158.6 1255L1161.6 1255.2L1164.6 1255.1L1167.6 1255.2L1170.6 1255.3L1173.6 1255.1L1176.6 1255L1179.6 1255L1182.6 1254.9L1185.6 1255.2L1188.6 1255.2L1191.6 1255.3L1194.6 1255.1L1197.6 1255L1200.6 1255.1L1203.6 1255.2L1206.6 1255L1209.6 1255L1212.6 1255L1215.6 1255.1L1218.6 1255L1221.6 1254.9L1224.6 1255.2L1227.6 1255L1230.6 1255.2L1233.6 1255.3L1236.6 1255.2L1239.6 1255L1242.6 1255.2L1245.6 1254.9L1248.6 1255.2L1251.6 1255.1L1254.6 1255.2L1257.6 1254.9L1260.6 1254.9L1263.6 1255L1266.6 1254.7L1269.6 1254.7L1272.6 1254.3L1275.6 1254.3L1278.6 1254.2L1281.6 1254.4L1284.6 1254.2L1287.6 1254.4L1290.6 1254.5L1293.6 1254.6L1296.6 1254.9L1299.6 1255L1302.6 1255.1L1305.6 1254.9L1308.6 1255.1L1309.6 1255.1L1310.6 1255L1311.6 1255.1L1312.6 1255L1313.6 1255L1314.6 1255.1L1315.6 1254.9L1316.6 1255.1L1317.6 1255.2L1318.6 1255.1L1319.6 1255L1320.6 1253.2L1321.6 1251.8L1322.6 1252L1323.6 1253.6L1324.6 1255.2L1325.6 1254.9L1326.6 1255.1L1327.6 1255L1328.6 1255.3L1329.6 1255L1330.6 1255.2L1331.6 1255.1L1332.6 1255.3L1333.6 1254.9L1334.6 1255L1335.6 1255.1L1336.6 1255.1L1337.6 1255L1340.6 1254.9L1343.6 1255L1346.6 1255L1349.6 1255.1L1352.6 1255L1355.6 1255L1358.6 1254.7L1361.6 1254.8L1364.6 1255L1367.6 1254.9L1370.6 1255.2L1373.6 1254.9L1376.6 1255.2L1379.6 1255L1382.6 1255.2L1385.6 1254.9L1388.6 1255L1391.6 1255.2L1394.6 1254.9L1397.6 1254.9L1400.6 1255L1403.6 1255.2L1406.6 1255L1409.6 1254.9L1412.6 1254.6L1415.6 1254.4L1418.6 1254.6L1421.6 1254.6L1424.6 1254.8L1427.6 1255L1430.6 1255.2L1433.6 1255L1436.6 1255L1439.6 1255L1442.6 1255.2L1445.6 1255L1448.6 1255.1L1451.6 1255L1454.6 1255.2L1457.6 1255.3L1460.6 1254.9L1463.6 1254.9L1466.6 1255.2L1469.6 1255.1L1472.6 1255L1475.6 1255L1478.6 1254.9L1481.6 1255.2L1484.6 1255L1487.6 1255L1490.6 1255.1L1493.6 1255.1L1496.6 1255.1L1499.6 1255.2L1502.6 1255.2L1505.6 1255L1508.6 1255.1L1511.6 1255L1514.6 1255L1517.6 1255.2L1520.6 1255.1L1523.6 1255L1526.6 1255.2L1526.6 1256.7Z" fill="#c650c8"/>
<path d="M424.6 1283.1L424.6 1281.1L427.6 1281.1L430.6 1281.2L433.6 1281.4L436.6 1281.2L439.6 1281.4L442.6 1281.6L445.6 1281.4L448.6 1281.5L451.6 1281.5L454.6 1281.4L457.6 1281.7L460.6 1281.5L463.6 1281.5L466.6 1281.5L469.6 1281.6L472.6 1281.4L475.6 1281.4L478.6 1281.3L481.6 1281.5L484.6 1281.6L487.6 1281.5L490.6 1281.4L493.6 1280.8L496.6 1281.1L499.6 1281.4L502.6 1281.6L505.6 1281.6L506.6 1281.3L507.6 1281.4L508.6 1281.7L509.6 1281.6L510.6 1281.3L511.6 1281.6L512.6 1281.4L513.6 1281.4L514.6 1280.5L515.6 1279.5L516.6 1278.4L517.6 1272.2L518.6 1264.3L519.6 1262.5L520.6 1268.8L521.6 1276.8L522.6 1279L523.6 1280.1L524.6 1281.1L525.6 1281.7L526.6 1281.5L527.6 1281.7L528.6 1281.4L529.6 1281.7L530.6 1281.6L531.6 1281.5L532.6 1281.4L533.6 1281.7L534.6 1281.4L537.6 1281.7L540.6 1281.5L543.6 1281.4L546.6 1281.5L549.6 1281.4L552.6 1281.5L555.6 1281.4L558.6 1281.2L561.6 1281.1L564.6 1281L567.6 1281L570.6 1281L573.6 1281.3L576.6 1281.4L579.6 1281.4L582.6 1281.4L585.6 1281L588.6 1281.2L591.6 1281L594.6 1281.3L597.6 1281.2L600.6 1281.2L603.6 1281.3L606.6 1281.5L609.6 1281.3L610.6 1281.4L611.6 1281.4L612.6 1281.4L613.6 1281.4L614.6 1281.4L615.6 1281.7L616.6 1281.3L617.6 1281.4L618.6 1281.1L619.6 1280.4L620.6 1278.9L621.6 1273.6L622.6 1269.4L623.6 1270.6L624.6 1275.8L625.6 1280L626.6 1280.7L627.6 1281.4L628.6 1281.4L629.6 1281.3L630.6 1281.4L631.6 1281.7L632.6 1281.4L633.6 1281.4L634.6 1281.5L635.6 1281.3L636.6 1281.6L637.6 1281.7L638.6 1281.4L641.6 1281.6L644.6 1281.3L647.6 1281.3L650.6 1281.4L653.6 1281.2L656.6 1281.2L659.6 1281.1L662.6 1280.9L665.6 1280.9L668.6 1281.1L671.6 1281.1L674.6 1281.1L677.6 1281.3L680.6 1281.3L683.6 1281.3L686.6 1281.4L689.6 1281.6L692.6 1281.3L695.6 1281.3L698.6 1281.6L701.6 1281.3L704.6 1281.6L707.6 1281.3L710.6 1281.3L711.6 1281.1L712.6 1281.2L713.6 1281.1L714.6 1281L715.6 1281L716.6 1281.2L717.6 1281.2L718.6 1281L719.6 1281L720.6 1280.7L721.6 1281.1L722.6 1280.7L723.6 1280.8L726.6 1280.7L729.6 1281.1L732.6 1280.9L735.6 1281L738.6 1281.1L741.6 1281.3L744.6 1281.4L747.6 1281.3L750.6 1281.2L753.6 1280.8L756.6 1280.8L759.6 1280.7L762.6 1280.8L765.6 1281.3L768.6 1281.1L771.6 1281L774.6 1281.1L777.6 1281L780.6 1281.2L783.6 1281.2L786.6 1281.2L789.6 1281.3L790.6 1281.1L791.6 1281.2L792.6 1281L793.6 1280.2L794.6 1280.3L795.6 1281.1L796.6 1281.3L797.6 1281L798.6 1281.1L799.6 1281.1L800.6 1281L801.6 1281.1L804.6 1281.1L807.6 1281.2L810.6 1281.4L813.6 1281.4L816.6 1281.5L819.6 1281.3L822.6 1281.3L825.6 1281.1L828.6 1281.4L831.6 1281.3L834.6 1281.5L837.6 1281.3L840.6 1281.6L843.6 1281.6L846.6 1281.4L849.6 1281.3L852.6 1281L855.6 1281L858.6 1281L861.6 1281L864.6 1281.2L865.6 1281.3L866.6 1281.2L867.6 1281L868.6 1281.2L869.6 1281L870.6 1280.9L871.6 1281.2L872.6 1281.1L873.6 1280.9L874.6 1281L875.6 1279.6L876.6 1278.2L877.6 1278.4L878.6 1280L879.6 1281.2L880.6 1281.4L881.6 1281.6L882.6 1281.3L883.6 1281.3L884.6 1281.5L885.6 1281.4L886.6 1281.2L887.6 1281.5L888.6 1281.3L889.6 1281.5L890.6 1281.2L891.6 1281.1L892.6 1281.4L895.6 1281.2L898.6 1281L901.6 1280.9L904.6 1280.8L907.6 1280.8L910.6 1281.2L913.6 1281.1L916.6 1281.3L919.6 1281.5L922.6 1281.4L925.6 1281.5L928.6 1281.3L931.6 1281.6L934.6 1281.6L937.6 1281.3L940.6 1281.3L943.6 1281.5L946.6 1281.3L949.6 1281.6L952.6 1281.5L955.6 1281.7L958.6 1281.3L961.6 1281.7L964.6 1281.3L967.6 1281.3L970.6 1281.3L973.6 1281.3L976.6 1281.4L979.6 1281.5L982.6 1281.6L985.6 1281.3L988.6 1281.6L989.6 1281.3L990.6 1281.4L991.6 1281.3L992.6 1281.3L993.6 1281.5L994.6 1281.2L995.6 1281.2L996.6 1281.4L997.6 1281.7L998.6 1281.5L999.6 1281.3L1000.6 1281.4L1001.6 1281.6L1002.6 1281.5L1005.6 1281.6L1008.6 1281.7L1011.6 1281.5L1014.6 1281.6L1017.6 1281.3L1020.6 1281.5L1023.6 1281.3L1026.6 1281.4L1029.6 1281.3L1032.6 1281.3L1035.6 1281.3L1038.6 1281.2L1041.6 1281.3L1044.6 1281.5L1047.6 1281.4L1048.6 1281.4L1049.6 1281.4L1050.6 1281.2L1051.6 1281.5L1052.6 1281.1L1053.6 1281.2L1054.6 1281.2L1055.6 1281L1056.6 1281.2L1057.6 1281.2L1058.6 1281.5L1059.6 1281.1L1060.6 1279L1061.6 1277.3L1062.6 1277.5L1063.6 1279.4L1064.6 1281.4L1065.6 1281.5L1066.6 1281.4L1067.6 1281.4L1068.6 1281.5L1069.6 1281.5L1070.6 1281.5L1071.6 1281.4L1072.6 1281.4L1073.6 1281.3L1074.6 1281.6L1075.6 1281.3L1076.6 1281.4L1077.6 1281.3L1080.6 1281.4L1083.6 1281.3L1086.6 1281.4L1089.6 1281.4L1092.6 1281.5L1095.6 1281.4L1098.6 1281.6L1101.6 1281.4L1104.6 1281.4L1107.6 1281.4L1110.6 1281.5L1113.6 1281.5L1116.6 1281.6L1119.6 1281.4L1122.6 1281.3L1125.6 1281.3L1128.6 1281.5L1131.6 1281.6L1134.6 1281.5L1137.6 1281.5L1140.6 1281.4L1143.6 1281.4L1146.6 1281.4L1149.6 1281.3L1152.6 1281.4L1155.6 1281.3L1158.6 1281.6L1161.6 1281.6L1164.6 1281.4L1167.6 1281.6L1170.6 1281.6L1173.6 1281.3L1176.6 1281.6L1179.6 1281.4L1182.6 1281.4L1185.6 1281.7L1188.6 1281.7L1191.6 1281.4L1194.6 1281.5L1197.6 1281.5L1200.6 1281.2L1203.6 1281.1L1206.6 1281.1L1209.6 1280.8L1212.6 1280.5L1215.6 1280.8L1218.6 1280.7L1221.6 1280.8L1224.6 1281.1L1227.6 1281.1L1230.6 1281.3L1233.6 1281.4L1236.6 1281.3L1239.6 1281.5L1242.6 1281.4L1245.6 1281.3L1248.6 1281.6L1251.6 1281.2L1254.6 1281.3L1257.6 1281.2L1260.6 1281.1L1263.6 1281.2L1266.6 1281L1269.6 1280.9L1272.6 1281.1L1275.6 1281.1L1278.6 1281.2L1281.6 1281.2L1284.6 1281.1L1287.6 1280.9L1290.6 1281.1L1293.6 1281.2L1296.6 1281.3L1299.6 1281.5L1302.6 1281.4L1305.6 1281.4L1308.6 1281.5L1311.6 1281.6L1314.6 1281.3L1317.6 1281.3L1318.6 1281L1319.6 1280.9L1320.6 1280.7L1321.6 1280.9L1322.6 1280.8L1323.6 1280.5L1324.6 1280.4L1325.6 1280.4L1326.6 1280.7L1327.6 1280.6L1328.6 1280.6L1329.6 1280.8L1332.6 1280.8L1335.6 1281L1338.6 1280.9L1341.6 1280.8L1344.6 1281L1347.6 1281.1L1350.6 1281.5L1353.6 1281.5L1356.6 1281.6L1359.6 1281.3L1362.6 1281.6L1365.6 1281.5L1368.6 1281.2L1371.6 1280.9L1374.6 1280.6L1377.6 1280.6L1380.6 1280.7L1383.6 1280.6L1386.6 1280.9L1389.6 1281.2L1392.6 1281.2L1395.6 1281.4L1398.6 1281.5L1401.6 1281.6L1404.6 1281.5L1407.6 1281.5L1410.6 1281.6L1413.6 1281.5L1416.6 1281.7L1419.6 1281.4L1422.6 1281.4L1425.6 1281.5L1428.6 1281.6L1431.6 1281.3L1434.6 1281.5L1437.6 1281.4L1440.6 1281.6L1443.6 1281.4L1446.6 1281.6L1449.6 1281.5L1452.6 1281.6L1455.6 1281.6L1458.6 1281.7L1461.6 1281.7L1464.6 1281.4L1467.6 1281.7L1470.6 1281.5L1473.6 1281.3L1476.6 1281.6L1479.6 1281.6L1482.6 1281.4L1485.6 1281.6L1488.6 1281.4L1491.6 1281.4L1494.6 1281.3L1497.6 1281.3L1500.6 1281.5L1503.6 1281.5L1506.6 1281.3L1509.6 1281.7L1512.6 1281.5L1515.6 1281.6L1518.6 1281.5L1521.6 1281.6L1524.6 1281.5L1527.6 1281.4L1527.6 1283.1Z" fill="#f0661e"/>
<path d="M424.6 1309.4L424.6 1307.9L427.6 1307.8L430.6 1307.8L433.6 1307.9L436.6 1307.6L439.6 1307.6L442.6 1307.7L445.6 1307.6L448.6 1307.7L451.6 1307.8L454.6 1308L457.6 1307.8L460.6 1307.6L463.6 1307.8L466.6 1307.6L469.6 1307.5L472.6 1307.3L475.6 1307.1L478.6 1307.5L481.6 1307.6L484.6 1307.4L487.6 1307.2L490.6 1306.8L493.6 1306.6L494.6 1306.6L495.6 1306.5L496.6 1306.3L497.6 1306.7L498.6 1306.7L499.6 1306.5L500.6 1306.6L501.6 1306.6L502.6 1306.7L503.6 1306.9L504.6 1306.8L505.6 1306.9L506.6 1306.9L507.6 1307.1L508.6 1307.2L509.6 1307.1L510.6 1306.8L511.6 1306.8L512.6 1306.9L513.6 1307L514.6 1306.9L515.6 1306.8L516.6 1306L517.6 1301.6L518.6 1295.9L519.6 1294.6L520.6 1299.1L521.6 1304.8L522.6 1306.5L523.6 1307.2L524.6 1307.3L525.6 1307.3L526.6 1307L527.6 1307.3L528.6 1307.2L529.6 1307.4L530.6 1307.6L531.6 1307.6L532.6 1307.6L533.6 1307.5L534.6 1307.7L537.6 1307.6L540.6 1308L543.6 1307.7L546.6 1307.9L549.6 1307.9L552.6 1307.7L555.6 1307.7L558.6 1307.9L561.6 1308L564.6 1307.7L567.6 1307.6L570.6 1308L573.6 1307.6L576.6 1307.7L579.6 1307.9L582.6 1308L585.6 1307.7L588.6 1307.9L591.6 1307.9L594.6 1307.6L597.6 1307.9L600.6 1307.9L603.6 1307.8L606.6 1307.6L609.6 1308L610.6 1308L611.6 1308L612.6 1307.9L613.6 1307.9L614.6 1307.8L615.6 1307.9L616.6 1307.9L617.6 1307.8L618.6 1307.4L619.6 1306.7L620.6 1305.2L621.6 1299.9L622.6 1295.7L623.6 1296.9L624.6 1302.1L625.6 1306.3L626.6 1307L627.6 1307.7L628.6 1307.7L629.6 1307.7L630.6 1307.7L631.6 1308L632.6 1307.9L633.6 1307.3L634.6 1306.5L635.6 1306.6L636.6 1307.6L637.6 1307.9L638.6 1307.9L639.6 1307.6L640.6 1307.9L641.6 1307.8L642.6 1307.6L645.6 1307.7L648.6 1307.9L651.6 1307.7L654.6 1307.9L657.6 1307.9L660.6 1307.8L663.6 1307.6L666.6 1307.8L669.6 1307.6L672.6 1307.8L675.6 1308L678.6 1307.6L681.6 1308L684.6 1307.6L687.6 1307.8L690.6 1307.6L693.6 1307.5L696.6 1307.7L699.6 1307.3L702.6 1307.5L705.6 1307.4L708.6 1307.4L711.6 1307.3L714.6 1307.2L717.6 1307.4L720.6 1307.3L723.6 1307.4L726.6 1307.5L729.6 1307.7L732.6 1307.8L735.6 1307.6L738.6 1307.6L741.6 1307.6L744.6 1307.8L747.6 1308L750.6 1307.8L753.6 1307.8L756.6 1307.8L759.6 1307.8L762.6 1307.8L765.6 1307.9L768.6 1307.7L771.6 1307.6L774.6 1307.4L777.6 1307.4L780.6 1307.4L783.6 1307.6L786.6 1307.7L789.6 1308L790.6 1307.8L791.6 1307.8L792.6 1306.6L793.6 1305.5L794.6 1305.7L795.6 1306.9L796.6 1307.9L797.6 1307.9L798.6 1307.7L799.6 1307.9L800.6 1307.9L801.6 1307.7L804.6 1307.8L807.6 1307.8L810.6 1307.8L813.6 1307.8L816.6 1307.8L819.6 1307.7L822.6 1307.7L825.6 1307.9L828.6 1307.9L831.6 1307.8L834.6 1307.8L837.6 1307.7L840.6 1307.9L843.6 1307.9L846.6 1308L849.6 1307.9L852.6 1307.7L855.6 1307.9L858.6 1307.4L861.6 1307.6L864.6 1307.2L865.6 1307.3L866.6 1307.3L867.6 1307.2L868.6 1307.2L869.6 1307.1L870.6 1307.2L871.6 1307.1L872.6 1307L873.6 1307L874.6 1307L875.6 1304.9L876.6 1302.6L877.6 1302.9L878.6 1305.5L879.6 1307.2L880.6 1307.3L881.6 1307.5L882.6 1307.2L883.6 1307.2L884.6 1307.4L885.6 1307.3L886.6 1307.2L887.6 1307.4L888.6 1307.3L889.6 1307.4L890.6 1307.4L891.6 1307.5L892.6 1307.4L895.6 1307.5L898.6 1307.5L901.6 1307.6L904.6 1307.9L907.6 1307.8L910.6 1307.8L913.6 1307.8L916.6 1308L919.6 1307.9L922.6 1307.8L925.6 1308L928.6 1307.8L931.6 1307.8L934.6 1307.9L937.6 1307.9L940.6 1307.7L943.6 1307.7L946.6 1307.6L949.6 1307.8L952.6 1307.7L955.6 1307.8L958.6 1307.7L961.6 1307.7L964.6 1307.9L967.6 1307.6L970.6 1307.8L973.6 1307.7L976.6 1307.8L979.6 1307.6L982.6 1307.9L985.6 1307.9L986.6 1308L987.6 1307.7L988.6 1307.3L989.6 1306.5L990.6 1306.6L991.6 1307.6L992.6 1308L993.6 1306.6L994.6 1305.5L995.6 1305.7L996.6 1306.9L997.6 1307.7L998.6 1307.9L999.6 1307.9L1000.6 1307.7L1001.6 1307.8L1002.6 1307.7L1003.6 1307.7L1004.6 1308L1005.6 1307.3L1006.6 1306.5L1007.6 1306.6L1008.6 1307.6L1009.6 1307.6L1010.6 1307.7L1011.6 1308L1012.6 1307.6L1013.6 1307.9L1014.6 1307.9L1017.6 1307.9L1020.6 1307.7L1023.6 1307.5L1026.6 1307.6L1029.6 1307.7L1032.6 1307.9L1035.6 1307.9L1038.6 1307.9L1039.6 1307.8L1040.6 1307.7L1041.6 1306.6L1042.6 1305.5L1043.6 1305.7L1044.6 1306.9L1045.6 1307.9L1046.6 1307.9L1047.6 1307.7L1048.6 1307.8L1049.6 1308L1050.6 1307.8L1051.6 1307.9L1052.6 1307.7L1053.6 1308L1054.6 1307.8L1055.6 1307.9L1056.6 1307.7L1057.6 1307.6L1058.6 1307.5L1059.6 1306.7L1060.6 1303L1061.6 1299.8L1062.6 1300.2L1063.6 1303.8L1064.6 1307.1L1065.6 1307.6L1066.6 1307.9L1067.6 1307.8L1068.6 1307.8L1069.6 1308L1070.6 1307.8L1071.6 1308L1072.6 1307.8L1073.6 1307.7L1074.6 1307.9L1075.6 1307.7L1076.6 1307.8L1077.6 1308L1080.6 1307.9L1083.6 1307.8L1086.6 1307.4L1089.6 1307.3L1092.6 1307.2L1095.6 1307.2L1098.6 1307.1L1101.6 1306.8L1104.6 1306.7L1107.6 1307L1110.6 1307.2L1113.6 1307.4L1116.6 1307.6L1119.6 1307.7L1122.6 1307.5L1125.6 1307.6L1128.6 1307.7L1131.6 1307.8L1134.6 1307.8L1137.6 1307.9L1140.6 1307.8L1143.6 1307.9L1146.6 1307.6L1149.6 1307.7L1152.6 1307.3L1155.6 1307.2L1158.6 1307L1161.6 1307L1164.6 1307.3L1167.6 1307.3L1170.6 1307.5L1173.6 1307.6L1176.6 1307.6L1179.6 1307.6L1182.6 1307.3L1185.6 1307.5L1188.6 1307.1L1191.6 1307.2L1194.6 1307.4L1197.6 1307.4L1200.6 1307.8L1203.6 1307.8L1206.6 1307.7L1209.6 1307.6L1212.6 1307.7L1215.6 1307.5L1218.6 1307.8L1221.6 1307.4L1224.6 1307.7L1227.6 1307.2L1230.6 1307.4L1233.6 1307.3L1236.6 1307.3L1239.6 1307.5L1242.6 1307.6L1245.6 1307.5L1248.6 1307.7L1251.6 1307.3L1254.6 1307.4L1257.6 1307.6L1260.6 1307.7L1263.6 1307.8L1266.6 1307.8L1269.6 1307.8L1272.6 1307.7L1275.6 1307.9L1278.6 1307.9L1281.6 1307.8L1284.6 1307.8L1287.6 1307.6L1290.6 1307.9L1293.6 1307.8L1296.6 1307.9L1299.6 1307.8L1302.6 1307.9L1305.6 1307.7L1308.6 1307.7L1309.6 1307.7L1310.6 1308L1311.6 1307.7L1312.6 1307.7L1313.6 1307.8L1314.6 1307.7L1315.6 1307.7L1316.6 1307.8L1317.6 1307.7L1318.6 1307.9L1319.6 1307.6L1320.6 1305.9L1321.6 1304.5L1322.6 1304.7L1323.6 1306.3L1324.6 1308L1325.6 1308L1326.6 1307.7L1327.6 1307.8L1328.6 1307.7L1329.6 1307.7L1330.6 1307.8L1331.6 1307.7L1332.6 1307.8L1333.6 1307.9L1334.6 1307.7L1335.6 1307.9L1336.6 1308L1337.6 1307.8L1340.6 1307.7L1343.6 1307.9L1346.6 1307.7L1349.6 1307.8L1352.6 1307.5L1355.6 1307.3L1358.6 1307.1L1361.6 1307.1L1364.6 1306.8L1367.6 1306.4L1370.6 1306.6L1373.6 1306.9L1376.6 1307.2L1379.6 1307.3L1382.6 1307.3L1385.6 1307.5L1388.6 1307.7L1391.6 1307.7L1394.6 1307.9L1397.6 1307.7L1400.6 1307.9L1403.6 1307.8L1406.6 1307.8L1409.6 1308L1412.6 1307.7L1415.6 1307.8L1418.6 1307.9L1421.6 1307.9L1424.6 1307.8L1427.6 1307.5L1430.6 1307.5L1433.6 1307.6L1436.6 1307.5L1439.6 1307.7L1442.6 1307.6L1445.6 1307.7L1448.6 1307.9L1451.6 1308L1454.6 1307.8L1457.6 1307.8L1460.6 1307.8L1463.6 1307.6L1466.6 1307.9L1469.6 1307.7L1472.6 1307.6L1475.6 1307.8L1478.6 1307.5L1481.6 1307.4L1484.6 1307.2L1487.6 1307.1L1490.6 1306.9L1493.6 1307.1L1496.6 1307.1L1499.6 1307.5L1502.6 1307.7L1505.6 1307.9L1508.6 1307.7L1511.6 1307.6L1514.6 1307.8L1517.6 1307.6L1520.6 1308L1523.6 1307.8L1526.6 1307.7L1526.6 1309.4Z" fill="#f0661e"/>
<path d="M623 1337.3H670.7" stroke="#2e3192" stroke-width="1.6"/>
<rect x="623" y="1333.3" width="1.5" height="8" fill="#2e3192"/>
<rect x="635" y="1333" width="1.3" height="8.5" fill="#2e3192"/>
<rect x="638" y="1333" width="5" height="8.5" fill="#2e3192"/>
<rect x="646.4" y="1333" width="1.2" height="8.5" fill="#2e3192"/>
<rect x="649.1" y="1333" width="4" height="8.5" fill="#2e3192"/>
<rect x="659.1" y="1333" width="1.4" height="8.5" fill="#2e3192"/>
<rect x="669.3" y="1333" width="1.2" height="8.5" fill="#2e3192"/>
<rect x="670.2" y="1334.8" width="7.5" height="5" fill="#2e3192"/>
<path d="M519.6 1357.1H670.7" stroke="#2e3192" stroke-width="1.6"/>
<rect x="519.6" y="1353.1" width="1.5" height="8" fill="#2e3192"/>
<path d="M535.6 1354.1L538.6 1357.1L535.6 1360.1" fill="none" stroke="#2e3192" stroke-width="1.4"/>
<path d="M555.7 1354.1L558.7 1357.1L555.7 1360.1" fill="none" stroke="#2e3192" stroke-width="1.4"/>
<path d="M575.8 1354.1L578.8 1357.1L575.8 1360.1" fill="none" stroke="#2e3192" stroke-width="1.4"/>
<path d="M595.9 1354.1L598.9 1357.1L595.9 1360.1" fill="none" stroke="#2e3192" stroke-width="1.4"/>
<path d="M616 1354.1L619 1357.1L616 1360.1" fill="none" stroke="#2e3192" stroke-width="1.4"/>
<rect x="635" y="1352.8" width="1.3" height="8.5" fill="#2e3192"/>
<rect x="638" y="1352.8" width="5" height="8.5" fill="#2e3192"/>
<rect x="646.4" y="1352.8" width="1.2" height="8.5" fill="#2e3192"/>
<rect x="649.1" y="1352.8" width="4" height="8.5" fill="#2e3192"/>
<rect x="659.1" y="1352.8" width="1.4" height="8.5" fill="#2e3192"/>
<rect x="669.3" y="1352.8" width="1.2" height="8.5" fill="#2e3192"/>
<rect x="670.2" y="1354.6" width="7.5" height="5" fill="#2e3192"/>
<path d="M1059.4 1335.4H1324.9" stroke="#2e3192" stroke-width="1.6"/>
<rect x="1059.4" y="1332.4" width="1.2" height="6" fill="#2e3192"/>
<path d="M1066.1 1332.4L1069.1 1335.4L1066.1 1338.4" fill="none" stroke="#2e3192" stroke-width="1.4"/>
<path d="M1086.2 1332.4L1089.2 1335.4L1086.2 1338.4" fill="none" stroke="#2e3192" stroke-width="1.4"/>
<path d="M1106.2 1332.4L1109.2 1335.4L1106.2 1338.4" fill="none" stroke="#2e3192" stroke-width="1.4"/>
<path d="M1126.2 1332.4L1129.2 1335.4L1126.2 1338.4" fill="none" stroke="#2e3192" stroke-width="1.4"/>
<path d="M1146.3 1332.4L1149.3 1335.4L1146.3 1338.4" fill="none" stroke="#2e3192" stroke-width="1.4"/>
<path d="M1166.3 1332.4L1169.3 1335.4L1166.3 1338.4" fill="none" stroke="#2e3192" stroke-width="1.4"/>
<path d="M1186.4 1332.4L1189.4 1335.4L1186.4 1338.4" fill="none" stroke="#2e3192" stroke-width="1.4"/>
<path d="M1206.4 1332.4L1209.4 1335.4L1206.4 1338.4" fill="none" stroke="#2e3192" stroke-width="1.4"/>
<path d="M1226.5 1332.4L1229.5 1335.4L1226.5 1338.4" fill="none" stroke="#2e3192" stroke-width="1.4"/>
<path d="M1246.5 1332.4L1249.5 1335.4L1246.5 1338.4" fill="none" stroke="#2e3192" stroke-width="1.4"/>
<path d="M1266.6 1332.4L1269.6 1335.4L1266.6 1338.4" fill="none" stroke="#2e3192" stroke-width="1.4"/>
<path d="M1286.6 1332.4L1289.6 1335.4L1286.6 1338.4" fill="none" stroke="#2e3192" stroke-width="1.4"/>
<path d="M1306.7 1332.4L1309.7 1335.4L1306.7 1338.4" fill="none" stroke="#2e3192" stroke-width="1.4"/>
<rect x="1153.2" y="1332.4" width="1.2" height="6" fill="#2e3192"/>
<rect x="1316.5" y="1332.4" width="1.2" height="6" fill="#2e3192"/>
<rect x="1324.9" y="1332.8" width="7.6" height="5.3" fill="#2e3192"/>
<path d="M937.2 1528.5L1406.5 1528.5L1527.5 1623L422.7 1616.5Z" fill="#e6e6e6"/>
<path d="M421.4 1425.5H1527.9" stroke="#e03c3c" stroke-opacity="0.33"/>
<path d="M421.4 1426V1425h2V1426h12V1425h4V1426h2V1425h2V1426h8V1425h4V1426h4V1425h2V1426h10V1425h2V1423h2V1425h2V1426h6V1425h2V1426h2V1425h6V1426h6V1425h2V1426h2V1425h2V1426h4V1417h2V1407h2V1425h2V1426h2V1425h2V1426h6V1425h2V1426h6V1424h2V1425h4V1426h10V1425h2V1426h4V1425h2V1423h2V1425h2V1426h2V1425h2V1426h4V1425h2V1426h4V1425h4V1426h2V1425h8V1426h6V1425h2V1426h4V1425h2V1426h2V1425h2V1426h4V1425h4V1426h2V1423h6V1421h2V1425h2V1426h10V1425h10V1426h4V1425h8V1426h6V1425h2V1426h6V1425h2V1426h8V1425h4V1426h6V1425h2V1426h2V1425h6V1426h2V1425h2V1426h22V1425h2V1426h6V1425h4V1426h4V1425h8V1426h4V1425h6V1426h2V1425h6V1426h2V1425h10V1426h4V1425h2V1426h2V1425h2V1426h2V1425h2V1426h4V1425h4V1426h4V1425h4V1426h2V1425h4V1426h6V1425h2V1426h4V1425h4V1426h2V1425h8V1426h2V1425h2V1426h4V1423h2V1421h2V1425h6V1426h6V1425h4V1426h2V1425h6V1426h2V1425h2V1426h10V1425h8V1426h2V1425h2V1426h2V1425h2V1426h6V1425h2V1426h2V1425h8V1426h6V1425h6V1426h2V1425h4V1426h4V1425h2V1426h4V1425h6V1426h4V1425h8V1426h8V1423h2V1425h6V1426h4V1425h4V1426h2V1425h2V1426h10V1425h2V1426h4V1425h2V1426h2V1424h2V1422h2V1425h6V1426h2V1422h4V1426h2V1425h2V1426h14V1425h2V1426h2V1425h2V1426h6V1425h6V1426h4V1425h4V1426h4V1425h2V1426h6V1425h4V1426h4V1425h2V1426h2V1425h2V1426h4V1425h2V1426h8V1425h4V1426h12V1425h2V1426h4V1425h2V1426h10V1425h2V1426h4V1425h2V1426h8V1425h6V1426h2V1425h6V1426h4V1425h2V1426h4V1425h4V1426h10V1425h4V1426h4V1425h2V1426h4V1425h4V1426h12V1425h4V1426h16V1425h6V1426h6V1425h6V1426h2V1425h2V1426h12V1425h2V1426h2V1425h4V1426h4V1425h2V1426h10V1425h2V1426h2V1425h2V1426h2V1424h2V1423h2V1426h8V1425h2V1426h6V1425h2V1426h4V1425h2V1426h8V1425h4V1426h6V1425h4V1424h2V1425h2V1426h4V1425h2V1426h8V1425h2V1426h10V1425h2V1426h6V1425h8V1426h8V1425h2V1426h20V1425h6V1424h2V1423h2V1425h2V1426h6V1425h4V1426h8V1425h2V1426h10V1425h4V1426h6V1425h2V1426h2V1425h2V1426h8V1425h2V1426h4V1425h2V1426Z" fill="#e03c3c"/>
<path d="M421.4 1451.4H1527.9" stroke="#3768b8" stroke-opacity="0.33"/>
<path d="M421.4 1451.9h10V1450.9h2V1451.9h2V1450.9h2V1451.9h10V1450.9h4V1451.9h2V1450.9h2V1451.9h2V1450.9h2V1451.9h6V1450.9h2V1451.9h4V1450.9h2V1446.9h2V1449.9h2V1450.9h4V1451.9h4V1450.9h2V1451.9h6V1450.9h2V1451.9h10V1450.9h2V1451.9h2V1441.9h2V1432.9h2V1450.9h2V1451.9h8V1450.9h2V1451.9h8V1450.9h2V1451.9h12V1450.9h2V1451.9h4V1450.9h4V1448.9h2V1450.9h2V1451.9h18V1450.9h2V1451.9h8V1450.9h4V1451.9h4V1450.9h2V1451.9h8V1450.9h2V1451.9h6V1449.9h2V1447.9h4V1445.9h2V1450.9h2V1451.9h12V1450.9h2V1451.9h10V1450.9h2V1451.9h2V1450.9h2V1451.9h8V1450.9h2V1451.9h4V1450.9h2V1451.9h10V1450.9h6V1451.9h6V1450.9h2V1451.9h16V1450.9h2V1451.9h4V1450.9h4V1451.9h4V1450.9h2V1451.9h2V1450.9h8V1451.9h2V1450.9h2V1451.9h4V1450.9h2V1451.9h16V1450.9h4V1451.9h2V1450.9h2V1451.9h12V1450.9h2V1451.9h8V1450.9h2V1451.9h4V1450.9h2V1451.9h14V1450.9h2V1451.9h8V1450.9h2V1451.9h4V1450.9h2V1451.9h2V1450.9h2V1451.9h2V1450.9h2V1451.9h12V1447.9h4V1451.9h2V1450.9h2V1451.9h10V1450.9h4V1451.9h2V1450.9h6V1451.9h6V1450.9h2V1451.9h4V1450.9h2V1451.9h2V1450.9h2V1451.9h6V1450.9h2V1451.9h10V1450.9h2V1451.9h6V1450.9h2V1451.9h8V1450.9h2V1451.9h12V1450.9h2V1451.9h20V1450.9h2V1451.9h6V1450.9h2V1448.9h4V1450.9h2V1451.9h4V1450.9h6V1451.9h10V1450.9h6V1451.9h8V1447.9h2V1448.9h2V1450.9h2V1451.9h2V1450.9h6V1451.9h4V1450.9h2V1451.9h2V1450.9h2V1451.9h2V1450.9h2V1451.9h4V1450.9h2V1451.9h6V1449.9h2V1446.9h2V1450.9h2V1451.9h4V1450.9h6V1451.9h34V1450.9h2V1451.9h4V1450.9h2V1451.9h14V1450.9h2V1451.9h4V1450.9h2V1451.9h4V1450.9h2V1451.9h6V1450.9h4V1451.9h6V1450.9h2V1451.9h12V1450.9h2V1451.9h6V1450.9h2V1451.9h4V1450.9h2V1451.9h20V1450.9h2V1451.9h4V1450.9h6V1451.9h4V1450.9h4V1451.9h2V1450.9h2V1451.9h8V1450.9h4V1451.9h6V1450.9h2V1451.9h8V1450.9h4V1451.9h2V1450.9h2V1451.9h26V1450.9h2V1451.9h8V1450.9h2V1451.9h2V1450.9h2V1451.9h2V1450.9h2V1451.9h2V1450.9h2V1451.9h2V1447.9h2V1444.9h2V1450.9h2V1451.9h16V1450.9h2V1451.9h12V1450.9h2V1451.9h2V1450.9h2V1451.9h8V1448.9h2V1449.9h2V1451.9h4V1450.9h6V1451.9h6V1450.9h4V1451.9h16V1450.9h2V1451.9h4V1450.9h2V1451.9h14V1450.9h2V1451.9h20V1449.9h4V1450.9h2V1451.9h6V1450.9h2V1451.9h4V1450.9h2V1451.9h12V1450.9h2V1451.9h4V1450.9h4V1451.9h2V1450.9h2V1451.9h4V1450.9h2V1451.9h6V1450.9h2V1451.9h6V1451.9Z" fill="#3768b8"/>
<path d="M421.4 1476.5H1527.9" stroke="#52b22a" stroke-opacity="0.33"/>
<path d="M421.4 1477V1475h2V1474h2V1475h2V1477h2V1475h2V1476h2V1475h2V1474h2V1476h2V1477h2V1475h2V1474h2V1476h6V1477h2V1475h2V1476h8V1477h8V1475h2V1476h2V1474h2V1476h2V1477h2V1476h2V1477h2V1476h2V1475h4V1473h2V1476h2V1477h2V1476h2V1475h2V1476h2V1475h2V1474h2V1471h2V1468h2V1458h2V1476h6V1475h4V1476h4V1477h2V1476h12V1477h2V1476h2V1474h2V1476h2V1475h2V1476h4V1474h4V1476h4V1475h2V1477h6V1476h2V1477h2V1476h2V1475h2V1477h2V1476h2V1474h2V1477h2V1476h2V1477h14V1476h6V1475h2V1477h2V1476h2V1465h2V1467h2V1468h2V1469h2V1471h2V1466h2V1473h2V1471h2V1476h8V1477h2V1474h2V1477h2V1476h2V1477h2V1476h2V1477h2V1476h2V1474h2V1476h4V1477h2V1472h2V1475h2V1476h4V1477h2V1476h4V1477h2V1473h2V1476h2V1477h2V1474h2V1476h2V1475h2V1476h2V1477h4V1476h2V1475h2V1477h4V1476h4V1477h2V1475h2V1477h2V1475h2V1476h2V1474h4V1476h2V1475h2V1476h2V1477h6V1475h2V1476h2V1475h2V1477h4V1476h4V1477h4V1475h4V1476h2V1475h2V1474h2V1475h6V1477h2V1475h2V1477h2V1474h2V1477h2V1476h4V1477h4V1474h2V1475h2V1477h4V1476h4V1477h2V1476h6V1477h2V1475h2V1476h4V1475h4V1476h8V1475h4V1477h2V1476h8V1477h2V1476h2V1477h2V1474h2V1476h4V1475h2V1473h2V1476h2V1477h4V1476h4V1475h2V1474h2V1475h2V1476h2V1477h2V1476h4V1477h2V1476h2V1475h4V1477h2V1475h4V1477h4V1476h2V1475h4V1476h2V1477h2V1475h2V1477h4V1475h2V1476h2V1477h4V1475h2V1476h2V1475h2V1477h2V1475h2V1477h6V1476h2V1475h2V1476h4V1477h2V1476h12V1475h2V1476h4V1477h2V1476h2V1474h2V1477h4V1475h2V1476h2V1477h2V1476h2V1475h2V1477h2V1476h2V1477h2V1476h2V1475h2V1477h2V1476h2V1475h2V1476h2V1475h2V1477h2V1476h4V1475h2V1476h8V1477h2V1476h2V1477h2V1476h2V1477h2V1475h2V1476h2V1477h2V1474h2V1475h2V1477h2V1475h2V1474h2V1477h2V1475h2V1477h6V1476h6V1475h2V1477h2V1475h2V1476h2V1477h2V1476h14V1475h4V1477h2V1475h2V1477h4V1475h2V1477h2V1476h2V1477h2V1475h2V1477h2V1475h4V1477h4V1476h2V1475h2V1477h2V1474h2V1476h2V1475h2V1476h2V1477h4V1474h2V1476h4V1477h2V1476h4V1477h4V1476h2V1475h2V1474h2V1476h2V1475h6V1477h4V1476h4V1477h2V1474h2V1475h2V1476h2V1475h2V1477h2V1475h4V1477h2V1476h2V1477h4V1475h2V1476h2V1475h2V1477h2V1476h4V1475h2V1476h2V1475h4V1477h2V1476h2V1477h4V1476h2V1474h4V1476h2V1475h2V1477h2V1475h2V1476h4V1477h6V1474h2V1475h2V1477h2V1476h2V1477h4V1475h2V1476h4V1475h2V1477h4V1474h2V1476h2V1474h2V1477h4V1476h2V1474h2V1475h4V1476h6V1474h2V1477h6V1476h4V1475h2V1473h2V1477h2V1476h6V1475h2V1476h2V1475h2V1476h6V1474h2V1477h2V1475h6V1477h2V1475h2V1476h2V1474h2V1477h4V1476h4V1477h2V1475h2V1477h4V1474h2V1477h2V1474h2V1475h2V1476h4V1475h2V1477h2V1476h2V1475h4V1477h2V1476h2V1477h4V1476h2V1475h2V1476h2V1474h2V1476h2V1474h2V1477h2V1474h2V1477h2V1476h2V1477h4V1474h2V1475h2V1477h4V1476h2V1475h4V1477h2V1475h2V1476h6V1475h2V1476h2V1477h8V1476h2V1475h2V1476h2V1477h4V1474h2V1476h2V1475h2V1476h4V1475h2V1476h2V1475h2V1476h2V1477h2V1476h2V1477h2V1476h4V1472h2V1477h4V1476h4V1475h2V1476h2V1474h2V1477h2V1476h10V1477Z" fill="#52b22a"/>
<path d="M421.4 1503.3H1527.9" stroke="#aa48b4" stroke-opacity="0.33"/>
<path d="M421.4 1503.8h2V1502.8h4V1500.8h2V1495.8h2V1501.8h2V1500.8h4V1502.8h4V1500.8h2V1503.8h2V1501.8h2V1498.8h2V1502.8h2V1503.8h2V1500.8h2V1503.8h2V1501.8h2V1502.8h2V1503.8h2V1502.8h2V1503.8h4V1502.8h2V1500.8h2V1502.8h2V1503.8h2V1501.8h2V1500.8h4V1503.8h4V1502.8h4V1503.8h2V1502.8h2V1501.8h2V1503.8h2V1498.8h2V1502.8h2V1497.8h2V1503.8h2V1502.8h2V1496.8h2V1491.8h2V1501.8h2V1503.8h4V1502.8h2V1503.8h4V1502.8h2V1503.8h6V1500.8h2V1502.8h2V1503.8h6V1502.8h2V1503.8h2V1502.8h2V1503.8h4V1501.8h2V1498.8h2V1502.8h2V1503.8h4V1502.8h2V1500.8h2V1503.8h4V1500.8h2V1503.8h2V1502.8h2V1503.8h2V1500.8h2V1503.8h2V1500.8h4V1502.8h4V1503.8h4V1500.8h2V1502.8h2V1500.8h2V1503.8h4V1501.8h2V1502.8h4V1503.8h6V1499.8h2V1503.8h12V1500.8h2V1502.8h2V1503.8h4V1498.8h2V1503.8h2V1500.8h2V1503.8h6V1500.8h4V1503.8h4V1502.8h2V1503.8h8V1502.8h4V1500.8h2V1502.8h2V1503.8h2V1501.8h2V1503.8h2V1502.8h8V1503.8h4V1502.8h2V1503.8h4V1502.8h2V1501.8h2V1503.8h4V1502.8h2V1503.8h2V1502.8h4V1503.8h4V1502.8h2V1503.8h2V1495.8h2V1501.8h2V1503.8h4V1502.8h2V1501.8h2V1503.8h2V1495.8h2V1502.8h2V1501.8h2V1503.8h4V1500.8h2V1503.8h2V1502.8h2V1503.8h4V1502.8h2V1503.8h2V1502.8h2V1501.8h2V1502.8h4V1503.8h6V1499.8h2V1500.8h2V1503.8h4V1500.8h2V1497.8h2V1502.8h2V1495.8h2V1503.8h14V1496.8h2V1503.8h2V1500.8h2V1503.8h2V1501.8h2V1503.8h2V1502.8h4V1501.8h2V1503.8h2V1500.8h2V1503.8h4V1502.8h2V1503.8h4V1502.8h2V1503.8h6V1502.8h4V1503.8h2V1500.8h2V1503.8h6V1500.8h2V1503.8h2V1502.8h2V1503.8h2V1488.8h4V1503.8h2V1502.8h2V1503.8h2V1501.8h2V1502.8h2V1503.8h2V1502.8h2V1503.8h4V1501.8h4V1503.8h4V1501.8h2V1502.8h2V1501.8h2V1500.8h2V1503.8h2V1501.8h2V1503.8h2V1502.8h4V1498.8h2V1503.8h4V1500.8h2V1501.8h2V1502.8h2V1503.8h2V1496.8h2V1501.8h2V1503.8h20V1500.8h2V1503.8h8V1502.8h2V1503.8h2V1502.8h2V1497.8h2V1500.8h2V1502.8h2V1501.8h2V1496.8h4V1503.8h4V1502.8h2V1503.8h8V1498.8h2V1503.8h4V1500.8h6V1502.8h2V1501.8h2V1503.8h2V1502.8h2V1503.8h2V1502.8h2V1500.8h2V1503.8h2V1502.8h2V1503.8h4V1502.8h4V1503.8h2V1500.8h4V1502.8h2V1503.8h2V1500.8h4V1503.8h4V1502.8h2V1501.8h2V1503.8h2V1497.8h2V1503.8h2V1500.8h2V1502.8h2V1503.8h2V1500.8h2V1499.8h2V1503.8h10V1497.8h2V1503.8h10V1498.8h2V1493.8h2V1500.8h4V1501.8h2V1503.8h2V1500.8h2V1501.8h2V1503.8h4V1502.8h2V1503.8h2V1502.8h2V1503.8h4V1502.8h2V1498.8h2V1503.8h2V1502.8h2V1503.8h2V1500.8h2V1503.8h2V1500.8h4V1502.8h4V1500.8h2V1503.8h6V1501.8h2V1502.8h2V1503.8h2V1501.8h4V1503.8h4V1500.8h2V1496.8h2V1502.8h2V1503.8h4V1500.8h2V1502.8h4V1503.8h2V1501.8h2V1503.8h4V1502.8h2V1495.8h2V1503.8h2V1496.8h2V1500.8h2V1502.8h4V1501.8h2V1503.8h6V1502.8h2V1497.8h2V1496.8h2V1503.8h2V1501.8h2V1503.8h2V1500.8h2V1502.8h4V1503.8h6V1498.8h2V1500.8h2V1502.8h2V1501.8h2V1503.8h6V1501.8h2V1503.8h2V1502.8h4V1500.8h2V1503.8h6V1500.8h2V1501.8h2V1502.8h2V1500.8h2V1503.8h2V1501.8h2V1500.8h2V1502.8h4V1500.8h2V1503.8h8V1500.8h2V1502.8h2V1503.8h6V1502.8h2V1503.8h8V1502.8h2V1501.8h2V1503.8h4V1502.8h2V1498.8h2V1493.8h2V1503.8h2V1500.8h2V1503.8h6V1500.8h2V1496.8h2V1503.8h4V1502.8h2V1503.8h2V1501.8h2V1503.8h4V1502.8h2V1503.8h2V1502.8h2V1503.8h2V1501.8h2V1502.8h2V1503.8h2V1497.8h2V1500.8h2V1503.8h2V1501.8h2V1503.8h8V1496.8h2V1502.8h4V1501.8h2V1503.8h4V1501.8h2V1500.8h2V1502.8h2V1500.8h2V1503.8h2V1502.8h2V1503.8h6V1500.8h2V1501.8h4V1503.8h2V1502.8h2V1503.8h2V1500.8h2V1502.8h2V1503.8h2V1500.8h2V1503.8h2V1501.8h2V1503.8h4V1502.8h2V1503.8h4V1500.8h2V1501.8h2V1502.8h2V1503.8h6V1502.8h2V1501.8h2V1502.8h2V1503.8h4V1499.8h2V1501.8h4V1503.8h4V1502.8h4V1503.8h10V1501.8h4V1500.8h2V1503.8h2V1500.8h2V1501.8h4V1503.8h2V1502.8h2V1503.8h2V1502.8h2V1503.8h2V1502.8h2V1503.8h2V1503.8Z" fill="#aa48b4"/>
<path d="M421.4 1528.6H1527.9" stroke="#e8b42e" stroke-opacity="0.33"/>
<path d="M421.4 1529.1V1527.1h4V1529.1h2V1528.1h2V1527.1h2V1528.1h2V1529.1h2V1528.1h2V1529.1h2V1527.1h2V1529.1h2V1528.1h8V1527.1h4V1528.1h6V1529.1h2V1528.1h6V1529.1h2V1528.1h2V1525.1h2V1527.1h2V1528.1h2V1527.1h4V1529.1h2V1528.1h2V1529.1h2V1527.1h6V1529.1h4V1528.1h2V1529.1h2V1528.1h6V1519.1h2V1510.1h2V1527.1h4V1528.1h2V1527.1h2V1528.1h2V1527.1h2V1529.1h2V1527.1h4V1529.1h2V1527.1h4V1529.1h2V1528.1h2V1527.1h2V1529.1h2V1528.1h2V1527.1h6V1528.1h2V1529.1h2V1528.1h2V1529.1h10V1528.1h2V1529.1h2V1528.1h2V1529.1h2V1528.1h2V1529.1h4V1528.1h6V1527.1h2V1529.1h4V1527.1h8V1529.1h2V1527.1h2V1528.1h2V1527.1h2V1528.1h4V1527.1h4V1528.1h2V1526.1h2V1523.1h2V1527.1h4V1528.1h4V1529.1h4V1528.1h4V1527.1h2V1529.1h4V1528.1h2V1529.1h2V1528.1h4V1529.1h2V1528.1h4V1527.1h2V1529.1h2V1527.1h6V1528.1h2V1527.1h4V1529.1h2V1527.1h4V1528.1h2V1527.1h10V1529.1h2V1528.1h4V1529.1h2V1528.1h4V1527.1h2V1528.1h4V1527.1h2V1528.1h2V1527.1h4V1528.1h6V1527.1h2V1529.1h6V1527.1h4V1528.1h4V1529.1h2V1527.1h2V1528.1h4V1529.1h2V1528.1h2V1527.1h2V1528.1h2V1529.1h2V1528.1h2V1527.1h2V1529.1h4V1528.1h8V1529.1h2V1527.1h2V1528.1h4V1529.1h2V1527.1h4V1528.1h6V1529.1h2V1527.1h2V1528.1h4V1529.1h2V1527.1h2V1529.1h4V1528.1h2V1529.1h2V1527.1h2V1529.1h2V1528.1h6V1529.1h2V1528.1h2V1527.1h2V1528.1h2V1527.1h2V1526.1h2V1528.1h4V1529.1h2V1527.1h4V1529.1h2V1528.1h2V1526.1h2V1524.1h2V1528.1h2V1529.1h2V1528.1h2V1529.1h4V1527.1h4V1528.1h8V1529.1h2V1528.1h2V1527.1h2V1529.1h4V1527.1h2V1528.1h2V1527.1h2V1529.1h6V1527.1h4V1528.1h2V1529.1h2V1528.1h8V1527.1h2V1529.1h4V1528.1h6V1529.1h6V1528.1h10V1527.1h2V1529.1h2V1528.1h4V1529.1h4V1528.1h4V1527.1h2V1529.1h2V1528.1h2V1527.1h2V1528.1h4V1527.1h2V1529.1h2V1528.1h2V1529.1h2V1527.1h2V1529.1h2V1528.1h8V1529.1h2V1528.1h2V1526.1h2V1525.1h2V1528.1h6V1527.1h2V1528.1h2V1527.1h6V1528.1h6V1527.1h4V1528.1h4V1527.1h2V1528.1h2V1527.1h2V1528.1h2V1527.1h4V1529.1h4V1528.1h2V1527.1h2V1528.1h2V1527.1h2V1528.1h2V1526.1h2V1527.1h6V1519.1h4V1528.1h2V1529.1h4V1528.1h2V1527.1h4V1528.1h8V1527.1h4V1528.1h2V1527.1h2V1528.1h2V1529.1h2V1527.1h2V1528.1h4V1527.1h4V1528.1h4V1527.1h2V1528.1h2V1529.1h2V1528.1h2V1529.1h6V1527.1h4V1529.1h2V1527.1h4V1528.1h14V1527.1h2V1528.1h4V1527.1h4V1528.1h2V1529.1h2V1528.1h2V1527.1h2V1529.1h4V1528.1h4V1529.1h2V1528.1h2V1529.1h4V1528.1h4V1527.1h6V1528.1h4V1529.1h2V1528.1h4V1529.1h4V1527.1h6V1528.1h2V1527.1h2V1528.1h4V1527.1h4V1528.1h4V1529.1h2V1528.1h2V1527.1h4V1524.1h2V1527.1h4V1529.1h2V1528.1h4V1529.1h2V1528.1h2V1527.1h2V1529.1h2V1528.1h2V1529.1h2V1528.1h2V1529.1h2V1528.1h6V1527.1h2V1528.1h2V1529.1h2V1527.1h2V1528.1h2V1517.1h2V1520.1h2V1529.1h2V1528.1h2V1527.1h2V1529.1h2V1528.1h4V1527.1h2V1528.1h2V1527.1h2V1528.1h8V1529.1h8V1527.1h4V1523.1h2V1517.1h2V1529.1h2V1528.1h2V1527.1h2V1528.1h2V1527.1h4V1529.1h2V1528.1h2V1527.1h2V1529.1h2V1527.1h2V1528.1h2V1527.1h2V1528.1h2V1529.1h2V1528.1h2V1529.1h2V1528.1h2V1529.1h2V1528.1h2V1527.1h2V1529.1h2V1527.1h2V1529.1h2V1528.1h6V1527.1h2V1529.1h4V1527.1h2V1528.1h2V1527.1h2V1528.1h4V1527.1h2V1529.1h2V1525.1h2V1529.1h4V1528.1h2V1529.1h4V1528.1h2V1527.1h8V1528.1h6V1529.1h6V1527.1h4V1529.1h2V1528.1h8V1529.1h2V1528.1h4V1527.1h2V1528.1h4V1529.1h2V1528.1h2V1529.1h4V1528.1h6V1527.1h2V1528.1h4V1527.1h2V1528.1h4V1529.1h2V1527.1h2V1528.1h2V1527.1h16V1528.1h2V1527.1h6V1529.1h6V1529.1Z" fill="#e8b42e"/>
<path d="M618.2 1548.2H665.9" stroke="#2e3192" stroke-width="1.6"/>
<rect x="618.2" y="1544.2" width="1.5" height="8" fill="#2e3192"/>
<rect x="630.2" y="1544" width="1.3" height="8.5" fill="#2e3192"/>
<rect x="633.2" y="1544" width="5" height="8.5" fill="#2e3192"/>
<rect x="641.6" y="1544" width="1.2" height="8.5" fill="#2e3192"/>
<rect x="644.3" y="1544" width="4" height="8.5" fill="#2e3192"/>
<rect x="654.3" y="1544" width="1.4" height="8.5" fill="#2e3192"/>
<rect x="664.5" y="1544" width="1.2" height="8.5" fill="#2e3192"/>
<rect x="665.4" y="1545.7" width="7.5" height="5" fill="#2e3192"/>
<path d="M513.2 1568.9H665.9" stroke="#2e3192" stroke-width="1.6"/>
<rect x="513.2" y="1564.9" width="1.5" height="8" fill="#2e3192"/>
<path d="M529.2 1565.9L532.2 1568.9L529.2 1571.9" fill="none" stroke="#2e3192" stroke-width="1.4"/>
<path d="M549.3 1565.9L552.3 1568.9L549.3 1571.9" fill="none" stroke="#2e3192" stroke-width="1.4"/>
<path d="M569.4 1565.9L572.4 1568.9L569.4 1571.9" fill="none" stroke="#2e3192" stroke-width="1.4"/>
<path d="M589.5 1565.9L592.5 1568.9L589.5 1571.9" fill="none" stroke="#2e3192" stroke-width="1.4"/>
<path d="M609.6 1565.9L612.6 1568.9L609.6 1571.9" fill="none" stroke="#2e3192" stroke-width="1.4"/>
<rect x="630.2" y="1564.7" width="1.3" height="8.5" fill="#2e3192"/>
<rect x="633.2" y="1564.7" width="5" height="8.5" fill="#2e3192"/>
<rect x="641.6" y="1564.7" width="1.2" height="8.5" fill="#2e3192"/>
<rect x="644.3" y="1564.7" width="4" height="8.5" fill="#2e3192"/>
<rect x="654.3" y="1564.7" width="1.4" height="8.5" fill="#2e3192"/>
<rect x="664.5" y="1564.7" width="1.2" height="8.5" fill="#2e3192"/>
<rect x="665.4" y="1566.4" width="7.5" height="5" fill="#2e3192"/>
<path d="M1069.6 1548.9H1326.9" stroke="#2e3192" stroke-width="1.6"/>
<rect x="1069.6" y="1545.9" width="1.2" height="6" fill="#2e3192"/>
<path d="M1076.3 1545.9L1079.3 1548.9L1076.3 1551.9" fill="none" stroke="#2e3192" stroke-width="1.4"/>
<path d="M1096.3 1545.9L1099.3 1548.9L1096.3 1551.9" fill="none" stroke="#2e3192" stroke-width="1.4"/>
<path d="M1116.4 1545.9L1119.4 1548.9L1116.4 1551.9" fill="none" stroke="#2e3192" stroke-width="1.4"/>
<path d="M1136.4 1545.9L1139.4 1548.9L1136.4 1551.9" fill="none" stroke="#2e3192" stroke-width="1.4"/>
<path d="M1156.5 1545.9L1159.5 1548.9L1156.5 1551.9" fill="none" stroke="#2e3192" stroke-width="1.4"/>
<path d="M1176.5 1545.9L1179.5 1548.9L1176.5 1551.9" fill="none" stroke="#2e3192" stroke-width="1.4"/>
<path d="M1196.6 1545.9L1199.6 1548.9L1196.6 1551.9" fill="none" stroke="#2e3192" stroke-width="1.4"/>
<path d="M1216.6 1545.9L1219.6 1548.9L1216.6 1551.9" fill="none" stroke="#2e3192" stroke-width="1.4"/>
<path d="M1236.7 1545.9L1239.7 1548.9L1236.7 1551.9" fill="none" stroke="#2e3192" stroke-width="1.4"/>
<path d="M1256.7 1545.9L1259.7 1548.9L1256.7 1551.9" fill="none" stroke="#2e3192" stroke-width="1.4"/>
<path d="M1276.8 1545.9L1279.8 1548.9L1276.8 1551.9" fill="none" stroke="#2e3192" stroke-width="1.4"/>
<path d="M1296.8 1545.9L1299.8 1548.9L1296.8 1551.9" fill="none" stroke="#2e3192" stroke-width="1.4"/>
<rect x="1163.4" y="1545.9" width="1.2" height="6" fill="#2e3192"/>
<rect x="1318.5" y="1545.9" width="1.2" height="6" fill="#2e3192"/>
<rect x="1326.9" y="1546.3" width="7.6" height="5.3" fill="#2e3192"/>
<path d="M419.3 1653.3H1523.3" stroke="#e03c3c" stroke-opacity="0.33"/>
<path d="M419.3 1653.8V1652.8h6V1650.8h2V1652.8h4V1650.8h2V1651.8h2V1652.8h4V1650.8h2V1652.8h2V1651.8h2V1652.8h4V1651.8h2V1653.8h4V1650.8h2V1652.8h2V1651.8h4V1650.8h2V1652.8h4V1650.8h2V1651.8h2V1652.8h4V1651.8h2V1652.8h2V1653.8h2V1651.8h2V1652.8h2V1646.8h2V1634.8h2V1644.8h2V1647.8h2V1652.8h2V1651.8h4V1653.8h2V1651.8h2V1652.8h2V1653.8h2V1652.8h8V1651.8h2V1652.8h6V1653.8h4V1651.8h2V1653.8h2V1650.8h2V1653.8h4V1651.8h2V1652.8h2V1653.8h4V1652.8h2V1651.8h2V1652.8h6V1653.8h2V1651.8h2V1652.8h2V1653.8h2V1650.8h2V1653.8h2V1652.8h2V1651.8h2V1653.8h2V1652.8h2V1651.8h4V1652.8h2V1651.8h6V1652.8h4V1650.8h4V1653.8h2V1652.8h2V1653.8h2V1650.8h4V1651.8h2V1653.8h4V1652.8h2V1650.8h2V1652.8h2V1653.8h2V1651.8h2V1652.8h4V1650.8h2V1652.8h2V1653.8h2V1651.8h2V1653.8h2V1651.8h2V1650.8h2V1652.8h2V1650.8h2V1653.8h8V1651.8h2V1652.8h6V1653.8h6V1652.8h6V1651.8h2V1653.8h2V1651.8h2V1649.8h2V1653.8h2V1652.8h2V1653.8h2V1652.8h4V1651.8h4V1652.8h6V1650.8h2V1652.8h2V1650.8h2V1652.8h2V1653.8h2V1650.8h2V1653.8h4V1651.8h4V1652.8h2V1653.8h2V1650.8h2V1647.8h2V1652.8h4V1651.8h4V1653.8h2V1652.8h2V1653.8h2V1651.8h4V1652.8h2V1651.8h2V1653.8h2V1650.8h2V1653.8h2V1652.8h2V1651.8h2V1652.8h2V1651.8h2V1652.8h4V1650.8h2V1652.8h2V1651.8h4V1652.8h2V1653.8h2V1651.8h2V1652.8h4V1650.8h2V1652.8h2V1650.8h2V1652.8h2V1651.8h2V1650.8h2V1652.8h6V1653.8h4V1652.8h2V1651.8h2V1648.8h2V1641.8h2V1647.8h2V1649.8h2V1650.8h4V1652.8h6V1653.8h2V1651.8h2V1642.8h2V1643.8h2V1647.8h2V1649.8h2V1651.8h2V1653.8h2V1650.8h2V1653.8h4V1651.8h2V1652.8h4V1653.8h2V1650.8h4V1653.8h6V1651.8h4V1652.8h4V1651.8h2V1652.8h2V1651.8h2V1650.8h2V1652.8h2V1650.8h2V1652.8h2V1643.8h2V1644.8h2V1651.8h4V1652.8h4V1650.8h4V1652.8h2V1651.8h2V1650.8h2V1652.8h2V1651.8h2V1652.8h2V1651.8h2V1652.8h2V1651.8h2V1650.8h2V1651.8h2V1653.8h2V1652.8h2V1651.8h4V1652.8h4V1651.8h2V1650.8h4V1653.8h2V1652.8h2V1653.8h2V1652.8h4V1651.8h2V1652.8h2V1650.8h2V1652.8h4V1653.8h2V1652.8h4V1653.8h2V1652.8h2V1651.8h2V1652.8h8V1651.8h2V1653.8h2V1650.8h2V1651.8h2V1650.8h2V1651.8h2V1653.8h2V1652.8h2V1650.8h2V1653.8h2V1651.8h2V1652.8h2V1651.8h2V1652.8h2V1653.8h2V1652.8h4V1650.8h2V1651.8h2V1650.8h2V1653.8h2V1652.8h2V1651.8h2V1652.8h2V1651.8h2V1652.8h2V1651.8h2V1650.8h2V1651.8h2V1653.8h2V1652.8h2V1653.8h2V1652.8h2V1651.8h4V1652.8h6V1649.8h4V1651.8h2V1653.8h2V1652.8h2V1651.8h2V1653.8h2V1651.8h2V1650.8h4V1652.8h2V1653.8h2V1651.8h4V1652.8h2V1653.8h4V1650.8h2V1653.8h2V1651.8h2V1650.8h2V1651.8h4V1653.8h2V1650.8h2V1652.8h2V1651.8h4V1652.8h2V1653.8h2V1651.8h2V1652.8h2V1651.8h2V1652.8h10V1653.8h2V1650.8h2V1652.8h2V1653.8h2V1652.8h2V1650.8h2V1652.8h2V1653.8h2V1652.8h4V1653.8h2V1651.8h4V1652.8h2V1651.8h4V1653.8h2V1652.8h2V1651.8h4V1652.8h10V1651.8h2V1652.8h2V1651.8h4V1650.8h2V1651.8h2V1652.8h2V1650.8h2V1652.8h8V1651.8h2V1652.8h12V1653.8h2V1651.8h2V1653.8h2V1651.8h8V1652.8h2V1650.8h2V1651.8h4V1653.8h2V1651.8h2V1648.8h2V1653.8h2V1652.8h8V1649.8h2V1652.8h4V1653.8h2V1651.8h4V1652.8h10V1653.8h2V1651.8h2V1650.8h4V1653.8h2V1652.8h2V1649.8h2V1652.8h2V1653.8h2V1651.8h2V1647.8h2V1648.8h2V1651.8h2V1650.8h2V1652.8h2V1650.8h2V1651.8h2V1650.8h2V1651.8h6V1648.8h2V1652.8h2V1649.8h2V1650.8h2V1652.8h2V1650.8h2V1652.8h4V1650.8h4V1648.8h2V1652.8h4V1650.8h4V1653.8h4V1652.8h2V1653.8h2V1652.8h4V1653.8h2V1652.8h2V1650.8h2V1652.8h2V1653.8h4V1652.8h2V1653.8h2V1652.8h2V1645.8h2V1644.8h2V1634.8h2V1650.8h2V1652.8h2V1651.8h2V1652.8h2V1650.8h2V1652.8h4V1650.8h2V1652.8h10V1653.8h4V1652.8h4V1653.8h2V1652.8h2V1653.8h2V1651.8h2V1653.8h2V1652.8h2V1653.8h4V1650.8h2V1652.8h4V1650.8h2V1652.8h2V1651.8h2V1650.8h2V1653.8h4V1652.8h4V1650.8h2V1651.8h4V1653.8h2V1652.8h4V1650.8h4V1652.8h4V1643.8h2V1644.8h2V1653.8h2V1651.8h2V1650.8h2V1652.8h2V1653.8h2V1650.8h2V1653.8h18V1653.8Z" fill="#e03c3c"/>
<path d="M419.3 1679.4H1523.3" stroke="#3768b8" stroke-opacity="0.33"/>
<path d="M419.3 1679.9h4V1678.9h2V1679.9h2V1678.9h2V1679.9h2V1678.9h8V1679.9h2V1678.9h4V1679.9h2V1678.9h4V1679.9h2V1678.9h2V1679.9h2V1678.9h4V1679.9h4V1678.9h14V1679.9h4V1678.9h4V1674.9h2V1670.9h2V1678.9h10V1679.9h8V1678.9h2V1679.9h12V1678.9h4V1679.9h2V1678.9h2V1679.9h2V1678.9h10V1679.9h4V1678.9h2V1679.9h10V1678.9h2V1679.9h10V1678.9h6V1679.9h2V1678.9h2V1679.9h4V1678.9h6V1679.9h2V1678.9h2V1679.9h6V1678.9h2V1679.9h2V1678.9h2V1679.9h6V1678.9h2V1679.9h2V1678.9h2V1679.9h6V1678.9h2V1679.9h6V1678.9h4V1679.9h8V1678.9h2V1679.9h4V1678.9h2V1679.9h2V1678.9h2V1679.9h2V1678.9h8V1679.9h2V1678.9h4V1679.9h2V1678.9h2V1679.9h6V1678.9h2V1679.9h2V1678.9h12V1679.9h2V1678.9h2V1679.9h6V1678.9h2V1679.9h6V1678.9h2V1679.9h4V1678.9h4V1679.9h2V1674.9h4V1679.9h10V1678.9h4V1679.9h4V1678.9h2V1679.9h6V1678.9h2V1679.9h4V1678.9h6V1679.9h16V1678.9h4V1679.9h12V1678.9h8V1679.9h2V1676.9h2V1673.9h2V1678.9h4V1679.9h12V1678.9h8V1679.9h6V1678.9h2V1679.9h2V1678.9h6V1679.9h2V1678.9h6V1679.9h2V1678.9h4V1679.9h4V1678.9h4V1679.9h8V1678.9h4V1674.9h2V1671.9h2V1678.9h4V1679.9h2V1678.9h4V1679.9h2V1678.9h10V1679.9h6V1678.9h2V1679.9h4V1678.9h2V1679.9h2V1678.9h4V1679.9h2V1678.9h2V1679.9h8V1678.9h2V1679.9h2V1678.9h6V1679.9h8V1678.9h10V1679.9h22V1678.9h2V1679.9h6V1678.9h8V1679.9h2V1678.9h2V1679.9h12V1678.9h2V1679.9h4V1678.9h2V1679.9h8V1678.9h2V1679.9h12V1678.9h2V1679.9h10V1678.9h2V1679.9h4V1678.9h2V1679.9h4V1678.9h2V1679.9h2V1678.9h2V1679.9h2V1678.9h4V1679.9h2V1678.9h2V1679.9h2V1678.9h2V1679.9h10V1678.9h4V1679.9h2V1678.9h2V1679.9h4V1678.9h2V1679.9h8V1678.9h6V1679.9h12V1678.9h2V1679.9h2V1678.9h2V1679.9h6V1678.9h8V1679.9h4V1678.9h2V1679.9h2V1678.9h4V1679.9h4V1678.9h2V1679.9h2V1678.9h6V1679.9h6V1678.9h8V1679.9h2V1678.9h2V1679.9h4V1678.9h2V1679.9h4V1678.9h4V1679.9h4V1678.9h4V1679.9h8V1678.9h12V1679.9h2V1678.9h2V1679.9h4V1678.9h2V1679.9h6V1678.9h2V1679.9h2V1678.9h6V1679.9h2V1678.9h6V1679.9h2V1678.9h4V1679.9h4V1678.9h4V1679.9h2V1677.9h2V1675.9h2V1678.9h2V1679.9h2V1678.9h2V1679.9h16V1678.9h2V1679.9h4V1678.9h6V1679.9h2V1678.9h2V1679.9h18V1678.9h2V1679.9h4V1678.9h10V1679.9h2V1677.9h2V1678.9h2V1672.9h2V1660.9h2V1671.9h2V1677.9h2V1678.9h6V1679.9h2V1678.9h2V1679.9h2V1678.9h8V1679.9h4V1678.9h4V1679.9h2V1678.9h2V1679.9h8V1678.9h2V1679.9h4V1678.9h4V1679.9h2V1678.9h2V1679.9h4V1678.9h6V1679.9h2V1678.9h14V1679.9h4V1678.9h2V1679.9h2V1670.9h2V1671.9h2V1678.9h8V1679.9h6V1678.9h16V1679.9Z" fill="#3768b8"/>
<path d="M419.3 1705.4H1523.3" stroke="#52b22a" stroke-opacity="0.33"/>
<path d="M419.3 1705.9V1703.9h2V1705.9h2V1703.9h2V1705.9h2V1703.9h2V1705.9h2V1703.9h2V1701.9h2V1696.9h2V1695.9h2V1696.9h2V1705.9h2V1702.9h2V1705.9h2V1701.9h2V1695.9h2V1698.9h2V1702.9h2V1701.9h2V1697.9h2V1703.9h2V1702.9h2V1703.9h4V1698.9h2V1701.9h2V1695.9h2V1705.9h2V1703.9h2V1697.9h2V1695.9h2V1705.9h2V1700.9h2V1701.9h2V1697.9h2V1690.9h2V1702.9h2V1697.9h2V1702.9h2V1701.9h2V1705.9h10V1700.9h2V1703.9h2V1705.9h2V1703.9h2V1700.9h2V1698.9h2V1699.9h2V1697.9h2V1698.9h2V1703.9h2V1701.9h2V1703.9h2V1705.9h2V1702.9h2V1705.9h2V1699.9h2V1702.9h2V1703.9h4V1698.9h2V1700.9h2V1703.9h2V1705.9h2V1703.9h2V1701.9h2V1699.9h2V1702.9h4V1697.9h2V1705.9h2V1702.9h2V1705.9h2V1696.9h2V1693.9h2V1703.9h2V1700.9h2V1696.9h2V1705.9h2V1702.9h2V1705.9h2V1701.9h2V1703.9h2V1702.9h2V1697.9h2V1703.9h2V1701.9h2V1698.9h4V1696.9h2V1702.9h2V1700.9h2V1702.9h2V1705.9h4V1703.9h2V1696.9h2V1702.9h2V1696.9h2V1699.9h2V1702.9h2V1695.9h2V1702.9h4V1696.9h2V1699.9h2V1698.9h2V1696.9h2V1697.9h2V1705.9h4V1703.9h2V1705.9h4V1700.9h2V1699.9h2V1691.9h2V1705.9h2V1701.9h2V1700.9h2V1699.9h2V1703.9h2V1697.9h2V1703.9h2V1698.9h2V1705.9h2V1703.9h2V1705.9h2V1698.9h2V1695.9h2V1698.9h2V1703.9h4V1705.9h2V1700.9h2V1696.9h2V1705.9h2V1696.9h2V1693.9h2V1703.9h2V1697.9h2V1705.9h2V1703.9h2V1699.9h2V1703.9h4V1697.9h2V1705.9h4V1695.9h2V1701.9h4V1703.9h2V1700.9h4V1696.9h2V1700.9h2V1703.9h2V1698.9h2V1705.9h2V1703.9h2V1700.9h2V1690.9h2V1703.9h2V1699.9h2V1697.9h2V1698.9h2V1703.9h2V1705.9h2V1691.9h2V1694.9h2V1703.9h6V1696.9h2V1705.9h2V1698.9h2V1703.9h2V1702.9h4V1703.9h2V1705.9h2V1696.9h2V1698.9h2V1700.9h2V1695.9h2V1703.9h2V1701.9h2V1696.9h2V1703.9h2V1699.9h2V1700.9h2V1699.9h2V1705.9h2V1702.9h2V1696.9h2V1703.9h4V1698.9h2V1697.9h2V1702.9h2V1703.9h2V1702.9h2V1705.9h2V1695.9h2V1690.9h2V1700.9h2V1703.9h4V1697.9h2V1698.9h2V1700.9h2V1705.9h2V1699.9h2V1703.9h2V1695.9h2V1703.9h2V1695.9h2V1705.9h2V1703.9h2V1702.9h2V1700.9h2V1703.9h2V1700.9h2V1705.9h2V1698.9h2V1696.9h2V1703.9h6V1700.9h2V1699.9h2V1703.9h2V1705.9h2V1703.9h2V1697.9h4V1701.9h2V1702.9h2V1703.9h2V1698.9h2V1705.9h2V1703.9h4V1701.9h2V1703.9h2V1705.9h4V1697.9h4V1705.9h2V1695.9h2V1702.9h2V1696.9h2V1703.9h2V1700.9h2V1705.9h4V1703.9h4V1697.9h2V1705.9h2V1690.9h2V1700.9h2V1703.9h6V1700.9h2V1703.9h6V1705.9h4V1698.9h2V1703.9h2V1699.9h2V1703.9h2V1698.9h2V1701.9h2V1699.9h2V1703.9h2V1701.9h2V1703.9h2V1698.9h4V1703.9h4V1702.9h2V1701.9h2V1699.9h2V1705.9h2V1703.9h2V1705.9h10V1703.9h8V1705.9h2V1702.9h2V1703.9h2V1698.9h2V1702.9h2V1697.9h2V1705.9h2V1697.9h2V1705.9h2V1694.9h2V1703.9h2V1700.9h2V1698.9h2V1700.9h2V1705.9h2V1698.9h2V1700.9h2V1703.9h2V1699.9h2V1705.9h2V1696.9h2V1692.9h2V1705.9h2V1700.9h2V1703.9h2V1705.9h4V1703.9h2V1701.9h2V1700.9h2V1702.9h4V1703.9h8V1702.9h2V1696.9h2V1702.9h2V1699.9h2V1705.9h2V1696.9h2V1702.9h2V1705.9h4V1696.9h2V1698.9h2V1696.9h2V1697.9h2V1705.9h2V1700.9h2V1703.9h2V1696.9h2V1700.9h4V1698.9h2V1702.9h2V1705.9h4V1702.9h2V1695.9h2V1699.9h2V1700.9h4V1705.9h2V1700.9h2V1701.9h2V1703.9h2V1695.9h2V1696.9h2V1703.9h2V1699.9h2V1696.9h2V1699.9h2V1705.9h2V1696.9h2V1705.9h2V1698.9h4V1700.9h2V1697.9h2V1705.9h2V1697.9h2V1702.9h2V1705.9h2V1696.9h4V1698.9h4V1702.9h2V1697.9h2V1699.9h2V1705.9h4V1701.9h2V1705.9h2V1697.9h2V1702.9h4V1696.9h2V1705.9h6V1700.9h2V1703.9h2V1705.9h2V1703.9h2V1697.9h4V1698.9h2V1702.9h2V1700.9h2V1701.9h2V1698.9h2V1701.9h2V1703.9h2V1695.9h2V1703.9h2V1701.9h2V1697.9h2V1696.9h2V1703.9h2V1705.9h2V1696.9h2V1702.9h2V1697.9h2V1702.9h4V1699.9h2V1703.9h2V1698.9h2V1705.9h2V1697.9h2V1690.9h2V1698.9h2V1703.9h2V1702.9h2V1705.9h2V1700.9h4V1701.9h2V1703.9h2V1705.9h4V1696.9h2V1702.9h2V1705.9h2V1698.9h2V1699.9h2V1703.9h2V1705.9h4V1686.9h2V1688.9h2V1701.9h2V1703.9h2V1705.9h2V1703.9h2V1699.9h4V1697.9h2V1701.9h2V1705.9h2V1702.9h2V1705.9h2V1697.9h2V1701.9h4V1705.9h2V1698.9h2V1702.9h2V1703.9h2V1696.9h2V1700.9h2V1705.9h2V1695.9h2V1691.9h2V1692.9h2V1703.9h2V1705.9h2V1700.9h2V1702.9h2V1705.9h4V1700.9h2V1705.9h2V1699.9h2V1697.9h2V1705.9h2V1701.9h2V1705.9h2V1703.9h2V1698.9h2V1696.9h2V1705.9h2V1698.9h2V1697.9h4V1703.9h2V1698.9h2V1705.9h4V1700.9h2V1705.9h2V1703.9h2V1694.9h2V1699.9h2V1702.9h2V1705.9h2V1703.9h2V1697.9h2V1698.9h2V1705.9h2V1695.9h2V1703.9h2V1698.9h2V1697.9h4V1693.9h2V1698.9h2V1700.9h2V1703.9h2V1705.9h2V1702.9h2V1697.9h2V1705.9h4V1698.9h2V1697.9h4V1698.9h2V1702.9h2V1705.9h2V1702.9h2V1693.9h2V1696.9h2V1697.9h2V1703.9h2V1700.9h2V1703.9h2V1701.9h2V1699.9h2V1705.9h10V1705.9Z" fill="#52b22a"/>
<path d="M419.3 1731.4H1523.3" stroke="#aa48b4" stroke-opacity="0.33"/>
<path d="M419.3 1731.9h4V1728.9h2V1731.9h2V1728.9h4V1731.9h2V1728.9h2V1730.9h2V1728.9h2V1731.9h2V1730.9h6V1728.9h2V1731.9h2V1729.9h2V1728.9h2V1731.9h2V1728.9h2V1731.9h4V1730.9h2V1731.9h4V1725.9h2V1731.9h6V1730.9h4V1731.9h4V1728.9h2V1731.9h12V1729.9h4V1731.9h4V1729.9h2V1730.9h6V1731.9h2V1724.9h2V1711.9h2V1730.9h4V1731.9h2V1730.9h2V1729.9h2V1731.9h2V1728.9h2V1731.9h6V1729.9h2V1728.9h2V1731.9h2V1726.9h2V1731.9h6V1727.9h2V1730.9h2V1731.9h2V1728.9h2V1731.9h12V1730.9h2V1731.9h44V1730.9h2V1731.9h8V1730.9h2V1731.9h2V1728.9h2V1729.9h2V1731.9h14V1730.9h2V1731.9h4V1730.9h2V1731.9h2V1730.9h2V1731.9h2V1729.9h2V1730.9h2V1731.9h8V1730.9h2V1731.9h6V1728.9h2V1731.9h4V1730.9h2V1731.9h2V1729.9h2V1731.9h4V1729.9h2V1731.9h12V1728.9h2V1731.9h4V1730.9h2V1727.9h2V1721.9h2V1730.9h2V1731.9h2V1729.9h2V1728.9h2V1731.9h2V1728.9h2V1731.9h2V1723.9h2V1724.9h2V1731.9h10V1730.9h2V1728.9h2V1731.9h2V1729.9h2V1731.9h4V1728.9h2V1731.9h2V1726.9h2V1730.9h2V1731.9h2V1728.9h2V1731.9h8V1728.9h2V1729.9h2V1731.9h4V1728.9h2V1731.9h16V1730.9h2V1724.9h2V1725.9h2V1731.9h2V1730.9h2V1731.9h2V1725.9h2V1726.9h2V1731.9h2V1729.9h2V1728.9h2V1730.9h2V1729.9h2V1731.9h2V1730.9h2V1731.9h2V1730.9h2V1728.9h2V1731.9h22V1730.9h2V1728.9h2V1731.9h10V1730.9h4V1731.9h2V1730.9h2V1731.9h6V1729.9h2V1731.9h2V1730.9h2V1731.9h2V1729.9h2V1730.9h2V1731.9h2V1729.9h2V1731.9h2V1730.9h2V1728.9h2V1731.9h6V1730.9h2V1731.9h2V1728.9h2V1731.9h2V1730.9h2V1731.9h8V1728.9h2V1731.9h2V1721.9h2V1722.9h2V1731.9h4V1730.9h2V1731.9h8V1728.9h2V1731.9h2V1729.9h4V1731.9h36V1725.9h2V1731.9h10V1727.9h2V1731.9h2V1730.9h2V1731.9h4V1730.9h2V1731.9h2V1730.9h2V1731.9h2V1728.9h2V1723.9h2V1730.9h2V1731.9h2V1728.9h2V1731.9h4V1729.9h2V1728.9h2V1731.9h10V1725.9h2V1731.9h2V1729.9h2V1731.9h2V1729.9h2V1731.9h4V1728.9h2V1731.9h2V1730.9h2V1731.9h2V1728.9h2V1731.9h2V1730.9h2V1731.9h2V1729.9h2V1731.9h6V1728.9h2V1731.9h2V1729.9h2V1728.9h2V1731.9h6V1730.9h2V1731.9h4V1730.9h2V1731.9h2V1730.9h2V1731.9h10V1728.9h2V1726.9h2V1731.9h2V1730.9h2V1731.9h4V1729.9h2V1731.9h6V1730.9h2V1731.9h2V1730.9h2V1729.9h4V1730.9h2V1731.9h2V1728.9h4V1730.9h4V1731.9h2V1729.9h2V1731.9h16V1728.9h2V1731.9h6V1730.9h2V1731.9h8V1730.9h2V1731.9h6V1730.9h2V1731.9h2V1728.9h4V1731.9h12V1730.9h2V1728.9h2V1730.9h2V1729.9h2V1731.9h16V1729.9h2V1731.9h2V1728.9h2V1730.9h2V1731.9h6V1726.9h2V1728.9h2V1731.9h6V1730.9h2V1728.9h2V1731.9h8V1730.9h2V1731.9h4V1730.9h2V1731.9h6V1726.9h2V1731.9h2V1729.9h2V1730.9h2V1731.9h2V1730.9h2V1728.9h2V1731.9h2V1730.9h2V1731.9h2V1729.9h4V1731.9h8V1729.9h2V1731.9h10V1728.9h2V1730.9h4V1731.9h2V1729.9h4V1730.9h2V1731.9h8V1726.9h2V1719.9h2V1730.9h2V1731.9h8V1728.9h2V1730.9h2V1729.9h2V1730.9h2V1728.9h2V1723.9h2V1729.9h2V1731.9h4V1728.9h2V1731.9h2V1721.9h2V1722.9h2V1728.9h2V1731.9h2V1729.9h2V1731.9h6V1724.9h2V1726.9h2V1731.9h8V1729.9h2V1731.9h2V1729.9h2V1731.9h2V1726.9h2V1731.9h6V1726.9h2V1727.9h2V1731.9h8V1730.9h2V1731.9h4V1724.9h2V1731.9h6V1730.9h2V1731.9h4V1730.9h2V1731.9h4V1728.9h2V1730.9h2V1728.9h2V1730.9h2V1729.9h2V1731.9h2V1731.9Z" fill="#aa48b4"/>
<path d="M419.3 1757.1H1523.3" stroke="#e8b42e" stroke-opacity="0.33"/>
<path d="M419.3 1757.6h2V1756.6h2V1755.6h2V1756.6h4V1757.6h2V1756.6h2V1755.6h2V1756.6h2V1757.6h4V1756.6h2V1753.6h2V1755.6h4V1757.6h2V1756.6h6V1755.6h2V1757.6h8V1756.6h8V1755.6h2V1757.6h4V1756.6h2V1755.6h6V1753.6h2V1756.6h2V1755.6h2V1756.6h4V1757.6h4V1756.6h6V1755.6h2V1756.6h2V1755.6h2V1756.6h2V1757.6h4V1756.6h2V1755.6h2V1757.6h2V1756.6h2V1755.6h2V1756.6h2V1757.6h10V1756.6h2V1757.6h4V1756.6h2V1757.6h6V1756.6h2V1757.6h6V1756.6h2V1757.6h2V1756.6h2V1757.6h2V1756.6h2V1757.6h4V1756.6h12V1755.6h4V1756.6h2V1757.6h2V1756.6h4V1755.6h2V1757.6h2V1756.6h10V1757.6h4V1756.6h2V1755.6h2V1757.6h2V1756.6h2V1757.6h2V1755.6h2V1757.6h2V1754.6h2V1756.6h4V1755.6h4V1756.6h2V1755.6h2V1757.6h4V1756.6h4V1755.6h2V1756.6h6V1757.6h2V1755.6h2V1757.6h2V1756.6h2V1757.6h2V1756.6h6V1755.6h2V1756.6h4V1757.6h2V1756.6h2V1757.6h2V1755.6h2V1756.6h4V1755.6h2V1756.6h2V1757.6h2V1756.6h4V1755.6h2V1757.6h4V1755.6h2V1757.6h2V1755.6h4V1753.6h2V1757.6h2V1756.6h4V1757.6h6V1756.6h4V1757.6h6V1756.6h2V1757.6h4V1755.6h2V1757.6h2V1756.6h2V1757.6h2V1756.6h4V1757.6h4V1755.6h2V1756.6h2V1755.6h2V1757.6h4V1756.6h2V1757.6h2V1756.6h2V1757.6h6V1756.6h2V1755.6h4V1757.6h2V1756.6h4V1755.6h2V1757.6h2V1756.6h4V1757.6h2V1756.6h4V1755.6h2V1756.6h2V1757.6h4V1755.6h4V1756.6h4V1755.6h2V1749.6h2V1750.6h2V1757.6h2V1755.6h2V1757.6h2V1756.6h2V1757.6h2V1756.6h6V1755.6h2V1757.6h8V1755.6h2V1756.6h2V1757.6h6V1756.6h4V1757.6h2V1755.6h2V1756.6h2V1755.6h2V1756.6h2V1753.6h2V1752.6h2V1746.6h2V1756.6h14V1755.6h2V1757.6h4V1754.6h2V1757.6h6V1756.6h2V1755.6h2V1756.6h2V1755.6h2V1756.6h2V1755.6h2V1756.6h8V1755.6h2V1757.6h2V1756.6h2V1755.6h4V1757.6h2V1756.6h2V1757.6h2V1756.6h2V1757.6h4V1753.6h2V1756.6h2V1757.6h2V1755.6h2V1756.6h2V1755.6h2V1757.6h2V1756.6h4V1754.6h2V1756.6h4V1755.6h2V1757.6h2V1756.6h2V1757.6h2V1756.6h4V1755.6h2V1756.6h2V1757.6h4V1756.6h4V1755.6h2V1756.6h4V1755.6h2V1756.6h6V1755.6h6V1756.6h8V1755.6h2V1756.6h4V1757.6h2V1756.6h6V1757.6h2V1755.6h2V1757.6h2V1756.6h2V1757.6h6V1756.6h4V1755.6h2V1757.6h4V1755.6h2V1756.6h4V1757.6h2V1756.6h2V1757.6h2V1755.6h2V1756.6h2V1757.6h4V1756.6h2V1757.6h2V1755.6h4V1756.6h2V1757.6h2V1756.6h2V1757.6h2V1755.6h2V1757.6h2V1755.6h2V1757.6h4V1756.6h2V1757.6h4V1755.6h2V1757.6h2V1754.6h2V1757.6h8V1756.6h6V1755.6h2V1756.6h2V1757.6h4V1756.6h2V1757.6h2V1756.6h4V1755.6h2V1756.6h2V1757.6h2V1755.6h2V1756.6h6V1757.6h4V1756.6h2V1757.6h2V1755.6h2V1757.6h4V1756.6h8V1755.6h4V1756.6h2V1757.6h2V1755.6h2V1756.6h8V1757.6h2V1756.6h2V1757.6h2V1756.6h4V1757.6h2V1756.6h2V1755.6h4V1757.6h2V1755.6h2V1757.6h2V1755.6h2V1757.6h2V1755.6h2V1756.6h2V1757.6h2V1756.6h8V1755.6h2V1757.6h4V1756.6h2V1757.6h2V1756.6h2V1757.6h4V1755.6h4V1756.6h2V1757.6h2V1756.6h2V1755.6h2V1757.6h4V1756.6h2V1755.6h2V1757.6h2V1756.6h4V1757.6h4V1752.6h2V1746.6h2V1756.6h4V1757.6h8V1756.6h2V1757.6h4V1756.6h2V1757.6h2V1756.6h2V1755.6h2V1756.6h2V1757.6h2V1755.6h2V1756.6h2V1757.6h2V1756.6h2V1757.6h2V1756.6h2V1757.6h2V1756.6h2V1757.6h4V1756.6h2V1757.6h2V1756.6h2V1755.6h4V1756.6h4V1757.6h2V1756.6h4V1757.6h2V1756.6h2V1757.6h2V1755.6h2V1757.6h2V1750.6h2V1738.6h2V1748.6h2V1753.6h2V1756.6h4V1757.6h4V1756.6h2V1757.6h2V1755.6h2V1757.6h2V1755.6h2V1757.6h8V1756.6h2V1757.6h2V1756.6h4V1757.6h2V1756.6h2V1757.6h4V1756.6h2V1757.6h2V1755.6h2V1757.6h4V1755.6h2V1757.6h4V1755.6h2V1757.6h4V1756.6h2V1755.6h2V1756.6h2V1755.6h4V1757.6h6V1756.6h2V1755.6h2V1757.6h2V1755.6h2V1756.6h2V1757.6h4V1756.6h2V1757.6h8V1756.6h6V1757.6h4V1755.6h2V1757.6h4V1756.6h2V1757.6Z" fill="#e8b42e"/>
<path d="M887.6 1774.5H1392" stroke="#2e3192" stroke-width="1.6"/>
<rect x="887.6" y="1771.5" width="1.2" height="6" fill="#2e3192"/>
<path d="M894.5 1771.5L897.5 1774.5L894.5 1777.5" fill="none" stroke="#2e3192" stroke-width="1.4"/>
<path d="M914.1 1771.5L917.1 1774.5L914.1 1777.5" fill="none" stroke="#2e3192" stroke-width="1.4"/>
<path d="M933.7 1771.5L936.7 1774.5L933.7 1777.5" fill="none" stroke="#2e3192" stroke-width="1.4"/>
<path d="M953.3 1771.5L956.3 1774.5L953.3 1777.5" fill="none" stroke="#2e3192" stroke-width="1.4"/>
<path d="M972.9 1771.5L975.9 1774.5L972.9 1777.5" fill="none" stroke="#2e3192" stroke-width="1.4"/>
<path d="M992.5 1771.5L995.5 1774.5L992.5 1777.5" fill="none" stroke="#2e3192" stroke-width="1.4"/>
<path d="M1012.1 1771.5L1015.1 1774.5L1012.1 1777.5" fill="none" stroke="#2e3192" stroke-width="1.4"/>
<path d="M1031.7 1771.5L1034.7 1774.5L1031.7 1777.5" fill="none" stroke="#2e3192" stroke-width="1.4"/>
<path d="M1051.3 1771.5L1054.3 1774.5L1051.3 1777.5" fill="none" stroke="#2e3192" stroke-width="1.4"/>
<path d="M1070.9 1771.5L1073.9 1774.5L1070.9 1777.5" fill="none" stroke="#2e3192" stroke-width="1.4"/>
<path d="M1090.5 1771.5L1093.5 1774.5L1090.5 1777.5" fill="none" stroke="#2e3192" stroke-width="1.4"/>
<path d="M1110.1 1771.5L1113.1 1774.5L1110.1 1777.5" fill="none" stroke="#2e3192" stroke-width="1.4"/>
<path d="M1129.7 1771.5L1132.7 1774.5L1129.7 1777.5" fill="none" stroke="#2e3192" stroke-width="1.4"/>
<path d="M1149.3 1771.5L1152.3 1774.5L1149.3 1777.5" fill="none" stroke="#2e3192" stroke-width="1.4"/>
<path d="M1168.9 1771.5L1171.9 1774.5L1168.9 1777.5" fill="none" stroke="#2e3192" stroke-width="1.4"/>
<path d="M1188.5 1771.5L1191.5 1774.5L1188.5 1777.5" fill="none" stroke="#2e3192" stroke-width="1.4"/>
<path d="M1208.1 1771.5L1211.1 1774.5L1208.1 1777.5" fill="none" stroke="#2e3192" stroke-width="1.4"/>
<path d="M1227.7 1771.5L1230.7 1774.5L1227.7 1777.5" fill="none" stroke="#2e3192" stroke-width="1.4"/>
<path d="M1247.3 1771.5L1250.3 1774.5L1247.3 1777.5" fill="none" stroke="#2e3192" stroke-width="1.4"/>
<path d="M1266.9 1771.5L1269.9 1774.5L1266.9 1777.5" fill="none" stroke="#2e3192" stroke-width="1.4"/>
<path d="M1286.5 1771.5L1289.5 1774.5L1286.5 1777.5" fill="none" stroke="#2e3192" stroke-width="1.4"/>
<path d="M1306.1 1771.5L1309.1 1774.5L1306.1 1777.5" fill="none" stroke="#2e3192" stroke-width="1.4"/>
<path d="M1325.7 1771.5L1328.7 1774.5L1325.7 1777.5" fill="none" stroke="#2e3192" stroke-width="1.4"/>
<path d="M1345.3 1771.5L1348.3 1774.5L1345.3 1777.5" fill="none" stroke="#2e3192" stroke-width="1.4"/>
<path d="M1364.9 1771.5L1367.9 1774.5L1364.9 1777.5" fill="none" stroke="#2e3192" stroke-width="1.4"/>
<path d="M1384.5 1771.5L1387.5 1774.5L1384.5 1777.5" fill="none" stroke="#2e3192" stroke-width="1.4"/>
<rect x="1064.5" y="1771.5" width="1.2" height="6" fill="#2e3192"/>
<rect x="1374.5" y="1771.5" width="2.5" height="6" fill="#2e3192"/>
<rect x="1391.6" y="1771.7" width="12.9" height="5.6" fill="#2e3192"/>
<rect x="121.3" y="1904.7" width="127.4" height="76.9" fill="#6b8cc2"/>
<rect x="121.3" y="1981.6" width="127.4" height="138.7" fill="#9ec141"/>
<rect x="121.3" y="2120.3" width="127.4" height="199.4" fill="#d94622"/>
<rect x="274.3" y="1904.7" width="127.8" height="396.4" fill="#6b8cc2"/>
<rect x="274.3" y="2301.1" width="127.8" height="10.8" fill="#9ec141"/>
<rect x="274.3" y="2311.9" width="127.8" height="7.8" fill="#d94622"/>
<rect x="427.3" y="1904.7" width="127.7" height="163.4" fill="#6b8cc2"/>
<rect x="427.3" y="2068.1" width="127.7" height="117" fill="#9ec141"/>
<rect x="427.3" y="2185.1" width="127.7" height="134.6" fill="#d94622"/>
<path d="M103.5 1903.2V2321.6" stroke="#000" stroke-width="3.1"/>
<path d="M94.8 1904.8H105" stroke="#000" stroke-width="3.2"/>
<path d="M94.8 1987.8H105" stroke="#000" stroke-width="3.2"/>
<path d="M94.8 2070.9H105" stroke="#000" stroke-width="3.2"/>
<path d="M94.8 2153.9H105" stroke="#000" stroke-width="3.2"/>
<path d="M94.8 2237H105" stroke="#000" stroke-width="3.2"/>
<path d="M94.8 2320H105" stroke="#000" stroke-width="3.2"/>
<rect x="720.2" y="1885.9" width="131.4" height="29.9" fill="#6b8cc2"/>
<rect x="720.2" y="1915.8" width="131.4" height="166.2" fill="#9ec141"/>
<rect x="720.2" y="2082" width="131.4" height="231.6" fill="#d94622"/>
<rect x="878.5" y="1885.9" width="130.8" height="191.2" fill="#6b8cc2"/>
<rect x="878.5" y="2077.1" width="130.8" height="222.1" fill="#9ec141"/>
<rect x="878.5" y="2299.2" width="130.8" height="14.4" fill="#d94622"/>
<rect x="1036" y="1885.9" width="131.5" height="208.5" fill="#6b8cc2"/>
<rect x="1036" y="2094.4" width="131.5" height="143.6" fill="#9ec141"/>
<rect x="1036" y="2238" width="131.5" height="75.6" fill="#d94622"/>
<path d="M702.7 1883.8V2315.1" stroke="#000" stroke-width="3.1"/>
<path d="M692.9 1885.4H704.2" stroke="#000" stroke-width="3.2"/>
<path d="M692.9 1971H704.2" stroke="#000" stroke-width="3.2"/>
<path d="M692.9 2056.6H704.2" stroke="#000" stroke-width="3.2"/>
<path d="M692.9 2142.3H704.2" stroke="#000" stroke-width="3.2"/>
<path d="M692.9 2227.9H704.2" stroke="#000" stroke-width="3.2"/>
<path d="M692.9 2313.5H704.2" stroke="#000" stroke-width="3.2"/>
<rect x="1320.8" y="1886.8" width="130.9" height="114.3" fill="#6b8cc2"/>
<rect x="1320.8" y="2001.1" width="130.9" height="263.8" fill="#9ec141"/>
<rect x="1320.8" y="2264.9" width="130.9" height="49.6" fill="#d94622"/>
<rect x="1478.8" y="1886.8" width="131.1" height="420.3" fill="#6b8cc2"/>
<rect x="1478.8" y="2307.1" width="131.1" height="7.4" fill="#9ec141"/>
<rect x="1634.7" y="1886.8" width="132.5" height="278.8" fill="#6b8cc2"/>
<rect x="1634.7" y="2165.6" width="132.5" height="136.8" fill="#9ec141"/>
<rect x="1634.7" y="2302.4" width="132.5" height="12.1" fill="#d94622"/>
<path d="M1302.9 1885V2316.1" stroke="#000" stroke-width="3.1"/>
<path d="M1293.1 1886.6H1304.4" stroke="#000" stroke-width="3.2"/>
<path d="M1293.1 1972.2H1304.4" stroke="#000" stroke-width="3.2"/>
<path d="M1293.1 2057.8H1304.4" stroke="#000" stroke-width="3.2"/>
<path d="M1293.1 2143.3H1304.4" stroke="#000" stroke-width="3.2"/>
<path d="M1293.1 2228.9H1304.4" stroke="#000" stroke-width="3.2"/>
<path d="M1293.1 2314.5H1304.4" stroke="#000" stroke-width="3.2"/>
<rect x="1800.3" y="1912.2" width="28.6" height="23.2" fill="#6b8cc2"/>
<rect x="1800.3" y="1958.8" width="28.6" height="22.9" fill="#9ec141"/>
<rect x="1800.3" y="2005.4" width="28.6" height="23" fill="#d94622"/>
<text x="111.6" y="26.8" font-size="50.00" font-weight="bold" textLength="25.0" lengthAdjust="spacingAndGlyphs">a</text>
<text x="782.0" y="63.8" font-size="37.50" textLength="446.0" lengthAdjust="spacingAndGlyphs">GSE121522 TNFα HUVEC</text>
<text x="148.1" y="72.6" font-size="31.00" textLength="242.3" lengthAdjust="spacingAndGlyphs">RELA TNFα 0min</text>
<text x="130.9" y="99.8" font-size="31.00" textLength="259.5" lengthAdjust="spacingAndGlyphs">RELA TNFα 30min</text>
<text x="130.9" y="129.3" font-size="31.00" textLength="259.5" lengthAdjust="spacingAndGlyphs">RELA TNFα 60min</text>
<text x="29.8" y="155.6" font-size="31.00">H3K27ac TNFα 0min rep1</text>
<text x="29.8" y="185.1" font-size="31.00">H3K27ac TNFα 0min rep2</text>
<text x="12.6" y="213.5" font-size="31.00">H3K27ac TNFα 60min rep1</text>
<text x="12.6" y="239.2" font-size="31.00">H3K27ac TNFα 60min rep2</text>
<text x="144.7" y="265.9" font-size="31.00" textLength="245.7" lengthAdjust="spacingAndGlyphs">RNAseq TNFα 0h</text>
<text x="144.7" y="292.1" font-size="31.00" textLength="245.7" lengthAdjust="spacingAndGlyphs">RNAseq TNFα 4h</text>
<text x="127.5" y="322.9" font-size="31.00" textLength="262.9" lengthAdjust="spacingAndGlyphs">RNAseq TNFα 24h</text>
<text x="398.3" y="73.8" font-size="14.60">[0 - 10.00]</text>
<text x="398.3" y="100.4" font-size="14.60">[0 - 10.00]</text>
<text x="398.3" y="126.9" font-size="14.60">[0 - 10.00]</text>
<text x="398.3" y="153.5" font-size="14.60">[0 - 11]</text>
<text x="398.3" y="180.0" font-size="14.60">[0 - 11]</text>
<text x="398.3" y="206.6" font-size="14.60">[0 - 11]</text>
<text x="398.3" y="233.1" font-size="14.60">[0 - 11]</text>
<text x="398.3" y="259.7" font-size="14.60">[0 - 10.00]</text>
<text x="398.3" y="286.2" font-size="14.60">[0 - 10.00]</text>
<text x="398.3" y="312.8" font-size="14.60">[0 - 10.00]</text>
<text x="629.3" y="357.2" font-size="31.00" textLength="110.7" lengthAdjust="spacingAndGlyphs">NFKBIZ</text>
<text x="1297.6" y="353.7" font-size="31.00" font-style="italic" textLength="195.9" lengthAdjust="spacingAndGlyphs">NFKBMARL-1</text>
<text x="183.4" y="383.0" font-size="50.00" font-weight="bold">b</text>
<text x="737.7" y="390.0" font-size="36.50" textLength="603.4" lengthAdjust="spacingAndGlyphs">GSE100382 TNFα CD14+ monocyte</text>
<text x="261.7" y="413.5" font-size="31.00">RELA CT</text>
<text x="207.2" y="442.6" font-size="31.00">RELA TNFα+</text>
<text x="211.9" y="468.0" font-size="31.00" textLength="178.9" lengthAdjust="spacingAndGlyphs">H3K27ac CT</text>
<text x="157.8" y="492.0" font-size="31.00" textLength="233.0" lengthAdjust="spacingAndGlyphs">H3K27ac TNFα+</text>
<text x="268.7" y="519.5" font-size="31.00">H4ac CT</text>
<text x="213.6" y="546.5" font-size="31.00" textLength="177.2" lengthAdjust="spacingAndGlyphs">H4ac TNFα+</text>
<text x="262.1" y="573.0" font-size="31.00" textLength="128.7" lengthAdjust="spacingAndGlyphs">ATAC CT</text>
<text x="207.6" y="602.2" font-size="31.00" textLength="183.2" lengthAdjust="spacingAndGlyphs">ATAC TNFα+</text>
<text x="403.8" y="411.8" font-size="16.00">[0 - 4.15]</text>
<text x="403.8" y="437.7" font-size="16.00">[0 - 4.15]</text>
<text x="403.8" y="464.8" font-size="16.00">[0 - 2.10]</text>
<text x="403.8" y="491.3" font-size="16.00">[0 - 2.10]</text>
<text x="403.8" y="516.8" font-size="16.00">[0 - 1.45]</text>
<text x="403.8" y="543.3" font-size="16.00">[0 - 1.45]</text>
<text x="403.8" y="568.7" font-size="16.00">[0 - 2.63]</text>
<text x="403.8" y="596.7" font-size="16.00">[0 - 2.63]</text>
<text x="662.2" y="652.0" font-size="31.00" textLength="110.7" lengthAdjust="spacingAndGlyphs">NFKBIZ</text>
<text x="1331.1" y="646.9" font-size="31.00" font-style="italic">NFKBMARL-1</text>
<text x="183.4" y="682.0" font-size="50.00" font-weight="bold" textLength="28.1" lengthAdjust="spacingAndGlyphs">c</text>
<text x="785.5" y="689.6" font-size="36.50" textLength="456.2" lengthAdjust="spacingAndGlyphs">GSE64233 TNFα adipocyte</text>
<text x="264.4" y="713.9" font-size="31.00" textLength="128.1" lengthAdjust="spacingAndGlyphs">RELA CT</text>
<text x="209.5" y="742.1" font-size="31.00" textLength="183.0" lengthAdjust="spacingAndGlyphs">RELA TNFα+</text>
<text x="183.0" y="769.8" font-size="31.00" textLength="209.4" lengthAdjust="spacingAndGlyphs">MED1 rep1 CT</text>
<text x="183.0" y="794.7" font-size="31.00" textLength="209.4" lengthAdjust="spacingAndGlyphs">MED1 rep2 CT</text>
<text x="128.3" y="823.2" font-size="31.00" textLength="264.1" lengthAdjust="spacingAndGlyphs">MED1 rep1 TNFα+</text>
<text x="128.3" y="849.9" font-size="31.00" textLength="264.1" lengthAdjust="spacingAndGlyphs">MED1 rep2 TNFα+</text>
<text x="258.2" y="879.7" font-size="31.00" textLength="134.2" lengthAdjust="spacingAndGlyphs">BRD4 CT</text>
<text x="202.7" y="906.4" font-size="31.00" textLength="189.7" lengthAdjust="spacingAndGlyphs">BRD4 TNFα+</text>
<text x="274.6" y="937.2" font-size="31.00" textLength="117.8" lengthAdjust="spacingAndGlyphs">DHS CT</text>
<text x="220.2" y="965.7" font-size="31.00" textLength="172.2" lengthAdjust="spacingAndGlyphs">DHS TNFα+</text>
<text x="407.8" y="712.9" font-size="15.50">[0 - 113]</text>
<text x="407.8" y="739.5" font-size="15.50">[0 - 113]</text>
<text x="407.8" y="766.0" font-size="15.50">[0 - 24]</text>
<text x="407.8" y="792.9" font-size="15.50">[0 - 24]</text>
<text x="407.8" y="819.9" font-size="15.50">[0 - 24]</text>
<text x="407.8" y="846.3" font-size="15.50">[0 - 24]</text>
<text x="408.9" y="873.8" font-size="15.50">[0 - 7.21]</text>
<text x="408.9" y="900.2" font-size="15.50">[0 - 7.21]</text>
<text x="407.8" y="932.8" font-size="15.50">[0 - 32]</text>
<text x="407.8" y="959.3" font-size="15.50">[0 - 32]</text>
<text x="672.4" y="1003.0" font-size="31.00" textLength="110.6" lengthAdjust="spacingAndGlyphs">NFKBIZ</text>
<text x="1334.8" y="997.5" font-size="31.00" font-style="italic">NFKBMARL-1</text>
<text x="215.4" y="1029.5" font-size="50.00" font-weight="bold" textLength="31.1" lengthAdjust="spacingAndGlyphs">d</text>
<text x="861.3" y="1053.4" font-size="37.00" textLength="281.5" lengthAdjust="spacingAndGlyphs">GSE91020 D562</text>
<text x="198.2" y="1063.3" font-size="31.00" textLength="214.3" lengthAdjust="spacingAndGlyphs">RELA LPS rep1</text>
<text x="195.0" y="1090.2" font-size="31.00">RELA LPS rep2</text>
<text x="176.3" y="1117.2" font-size="31.00">RELA TNFα rep1</text>
<text x="176.3" y="1144.1" font-size="31.00">RELA TNFα rep2</text>
<text x="92.6" y="1169.9" font-size="31.00" textLength="319.9" lengthAdjust="spacingAndGlyphs">RELA Pam2CSK4 rep1</text>
<text x="92.6" y="1194.0" font-size="31.00" textLength="319.9" lengthAdjust="spacingAndGlyphs">RELA Pam2CSK4 rep2</text>
<text x="162.9" y="1221.7" font-size="31.00">RELA PolyIC rep1</text>
<text x="162.9" y="1248.0" font-size="31.00">RELA PolyIC rep2</text>
<text x="139.5" y="1276.1" font-size="31.00">RELA MtriDAP rep1</text>
<text x="139.5" y="1303.0" font-size="31.00">RELA MtriDAP rep2</text>
<text x="423.0" y="1060.5" font-size="14.60">[0 - 201]</text>
<text x="423.0" y="1087.0" font-size="14.60">[0 - 201]</text>
<text x="423.0" y="1113.2" font-size="14.60">[0 - 226]</text>
<text x="423.0" y="1140.1" font-size="14.60">[0 - 226]</text>
<text x="423.0" y="1166.4" font-size="14.60">[0 - 169]</text>
<text x="423.0" y="1192.9" font-size="14.60">[0 - 169]</text>
<text x="423.0" y="1218.7" font-size="14.60">[0 -333]</text>
<text x="423.0" y="1245.6" font-size="14.60">[0 - 333]</text>
<text x="423.0" y="1272.6" font-size="14.60">[0 - 142]</text>
<text x="423.0" y="1299.0" font-size="14.60">[0 - 142]</text>
<text x="687.0" y="1356.1" font-size="31.00" textLength="110.7" lengthAdjust="spacingAndGlyphs">NFKBIZ</text>
<text x="1352.5" y="1351.9" font-size="31.00" font-style="italic">NFKBMARL-1</text>
<text x="215.0" y="1405.0" font-size="50.00" font-weight="bold">e</text>
<text x="770.2" y="1402.4" font-size="36.50" textLength="591.4" lengthAdjust="spacingAndGlyphs">GSE55105 Lymphoblastoid B-cells</text>
<text x="343.3" y="1421.0" font-size="30.50" textLength="69.4" lengthAdjust="spacingAndGlyphs">RelA</text>
<text x="342.0" y="1446.9" font-size="30.50" textLength="69.5" lengthAdjust="spacingAndGlyphs">RelB</text>
<text x="347.6" y="1472.6" font-size="30.50" textLength="64.4" lengthAdjust="spacingAndGlyphs">cRel</text>
<text x="358.1" y="1498.3" font-size="30.50" textLength="52.9" lengthAdjust="spacingAndGlyphs">p50</text>
<text x="358.1" y="1524.5" font-size="30.50" textLength="53.3" lengthAdjust="spacingAndGlyphs">p52</text>
<text x="419.8" y="1417.9" font-size="16.50" textLength="65.4" lengthAdjust="spacingAndGlyphs">[0 - 1.58]</text>
<text x="419.8" y="1441.9" font-size="16.50" textLength="65.4" lengthAdjust="spacingAndGlyphs">[0 - 2.06]</text>
<text x="419.8" y="1467.2" font-size="16.50" textLength="65.4" lengthAdjust="spacingAndGlyphs">[0 - 0.76]</text>
<text x="419.8" y="1493.2" font-size="16.50" textLength="65.4" lengthAdjust="spacingAndGlyphs">[0 - 1.31]</text>
<text x="419.8" y="1519.2" font-size="16.50" textLength="65.4" lengthAdjust="spacingAndGlyphs">[0 - 0.64]</text>
<text x="681.6" y="1566.1" font-size="31.00" textLength="116.2" lengthAdjust="spacingAndGlyphs">NFKBIZ</text>
<text x="1346.6" y="1569.2" font-size="31.00" font-style="italic" textLength="202.5" lengthAdjust="spacingAndGlyphs">NFKBMARL-1</text>
<text x="346.2" y="1644.6" font-size="30.50" textLength="69.3" lengthAdjust="spacingAndGlyphs">RelA</text>
<text x="344.6" y="1670.8" font-size="30.50" textLength="69.6" lengthAdjust="spacingAndGlyphs">RelB</text>
<text x="350.4" y="1696.5" font-size="30.50" textLength="64.4" lengthAdjust="spacingAndGlyphs">cRel</text>
<text x="360.9" y="1722.2" font-size="30.50" textLength="52.9" lengthAdjust="spacingAndGlyphs">p50</text>
<text x="360.9" y="1748.4" font-size="30.50" textLength="53.3" lengthAdjust="spacingAndGlyphs">p52</text>
<text x="422.7" y="1646.3" font-size="16.50" textLength="64.8" lengthAdjust="spacingAndGlyphs">[0 - 0.45]</text>
<text x="422.7" y="1671.9" font-size="16.50" textLength="64.8" lengthAdjust="spacingAndGlyphs">[0 - 1.09]</text>
<text x="422.7" y="1697.6" font-size="16.50" textLength="64.8" lengthAdjust="spacingAndGlyphs">[0 - 0.32]</text>
<text x="422.7" y="1723.8" font-size="16.50" textLength="64.8" lengthAdjust="spacingAndGlyphs">[0 - 1.22]</text>
<text x="422.7" y="1749.5" font-size="16.50" textLength="64.8" lengthAdjust="spacingAndGlyphs">[0 - 0.81]</text>
<text x="1117.4" y="1808.6" font-size="31.00" font-style="italic" textLength="198.7" lengthAdjust="spacingAndGlyphs">NFKBMARL-1</text>
<text x="8.9" y="1865.7" font-size="50.00" font-weight="bold" textLength="18.6" lengthAdjust="spacingAndGlyphs">f</text>
<text transform="translate(84.2,1929.8) rotate(-90)" font-size="34.50" textLength="56.2" lengthAdjust="spacingAndGlyphs">100</text>
<text transform="translate(84.2,2010.3) rotate(-90)" font-size="34.50" textLength="36.8" lengthAdjust="spacingAndGlyphs">80</text>
<text transform="translate(84.2,2092.6) rotate(-90)" font-size="34.50" textLength="37.1" lengthAdjust="spacingAndGlyphs">60</text>
<text transform="translate(84.2,2175.0) rotate(-90)" font-size="34.50" textLength="36.1" lengthAdjust="spacingAndGlyphs">40</text>
<text transform="translate(84.2,2259.2) rotate(-90)" font-size="34.50" textLength="37.1" lengthAdjust="spacingAndGlyphs">20</text>
<text transform="translate(84.2,2338.9) rotate(-90)" font-size="34.50" textLength="17.7" lengthAdjust="spacingAndGlyphs">0</text>
<text transform="translate(25.4,2300.3) rotate(-90)" font-size="34.50" textLength="364.8" lengthAdjust="spacingAndGlyphs">Relative Percentage (%)</text>
<text x="329.9" y="1865.7" font-size="33.00" textLength="74.0" lengthAdjust="spacingAndGlyphs">293T</text>
<text x="137.6" y="2352.9" font-size="33.00" textLength="98.7" lengthAdjust="spacingAndGlyphs">ACTIN</text>
<text x="295.1" y="2352.9" font-size="33.00" textLength="71.7" lengthAdjust="spacingAndGlyphs">XIST</text>
<text x="400.4" y="2352.9" font-size="33.00" font-style="italic" textLength="209.7" lengthAdjust="spacingAndGlyphs">NFKBMARL-1</text>
<text transform="translate(682.7,1910.4) rotate(-90)" font-size="34.50" textLength="56.2" lengthAdjust="spacingAndGlyphs">100</text>
<text transform="translate(682.7,1993.5) rotate(-90)" font-size="34.50" textLength="36.8" lengthAdjust="spacingAndGlyphs">80</text>
<text transform="translate(682.7,2078.4) rotate(-90)" font-size="34.50" textLength="37.1" lengthAdjust="spacingAndGlyphs">60</text>
<text transform="translate(682.7,2163.3) rotate(-90)" font-size="34.50" textLength="36.1" lengthAdjust="spacingAndGlyphs">40</text>
<text transform="translate(682.7,2250.1) rotate(-90)" font-size="34.50" textLength="37.1" lengthAdjust="spacingAndGlyphs">20</text>
<text transform="translate(682.7,2332.4) rotate(-90)" font-size="34.50" textLength="17.7" lengthAdjust="spacingAndGlyphs">0</text>
<text transform="translate(641.9,2320.7) rotate(-90)" font-size="34.50" textLength="360.8" lengthAdjust="spacingAndGlyphs">Relative Percentage (%)</text>
<text x="929.7" y="1858.1" font-size="33.00" textLength="94.0" lengthAdjust="spacingAndGlyphs">THP-1</text>
<text x="731.4" y="2352.4" font-size="33.00" textLength="99.7" lengthAdjust="spacingAndGlyphs">ACTIN</text>
<text x="905.5" y="2352.4" font-size="33.00" textLength="70.6" lengthAdjust="spacingAndGlyphs">XIST</text>
<text x="1003.8" y="2352.4" font-size="33.00" font-style="italic" textLength="209.7" lengthAdjust="spacingAndGlyphs">NFKBMARL-1</text>
<text transform="translate(1282.8,1911.6) rotate(-90)" font-size="34.50" textLength="56.2" lengthAdjust="spacingAndGlyphs">100</text>
<text transform="translate(1282.8,1994.6) rotate(-90)" font-size="34.50" textLength="36.8" lengthAdjust="spacingAndGlyphs">80</text>
<text transform="translate(1282.8,2079.5) rotate(-90)" font-size="34.50" textLength="37.1" lengthAdjust="spacingAndGlyphs">60</text>
<text transform="translate(1282.8,2164.4) rotate(-90)" font-size="34.50" textLength="36.1" lengthAdjust="spacingAndGlyphs">40</text>
<text transform="translate(1282.8,2251.1) rotate(-90)" font-size="34.50" textLength="37.1" lengthAdjust="spacingAndGlyphs">20</text>
<text transform="translate(1282.8,2333.4) rotate(-90)" font-size="34.50" textLength="17.7" lengthAdjust="spacingAndGlyphs">0</text>
<text transform="translate(1236.3,2316.0) rotate(-90)" font-size="34.50" textLength="359.8" lengthAdjust="spacingAndGlyphs">Relative Percentage (%)</text>
<text x="1497.2" y="1857.2" font-size="33.00" textLength="99.7" lengthAdjust="spacingAndGlyphs">IMR90</text>
<text x="1341.5" y="2353.8" font-size="33.00" textLength="99.5" lengthAdjust="spacingAndGlyphs">ACTIN</text>
<text x="1502.8" y="2353.8" font-size="33.00" textLength="74.4" lengthAdjust="spacingAndGlyphs">XIST</text>
<text x="1601.8" y="2353.8" font-size="33.00" font-style="italic" textLength="211.1" lengthAdjust="spacingAndGlyphs">NFKBMARL-1</text>
<text x="1863.2" y="1937.7" font-size="33.50" textLength="154.1" lengthAdjust="spacingAndGlyphs">Chromatin</text>
<text x="1862.8" y="1983.6" font-size="33.50">Nucleoplasm</text>
<text x="1863.2" y="2030.4" font-size="33.50">Cytoplasm</text>
</svg></body></html>
